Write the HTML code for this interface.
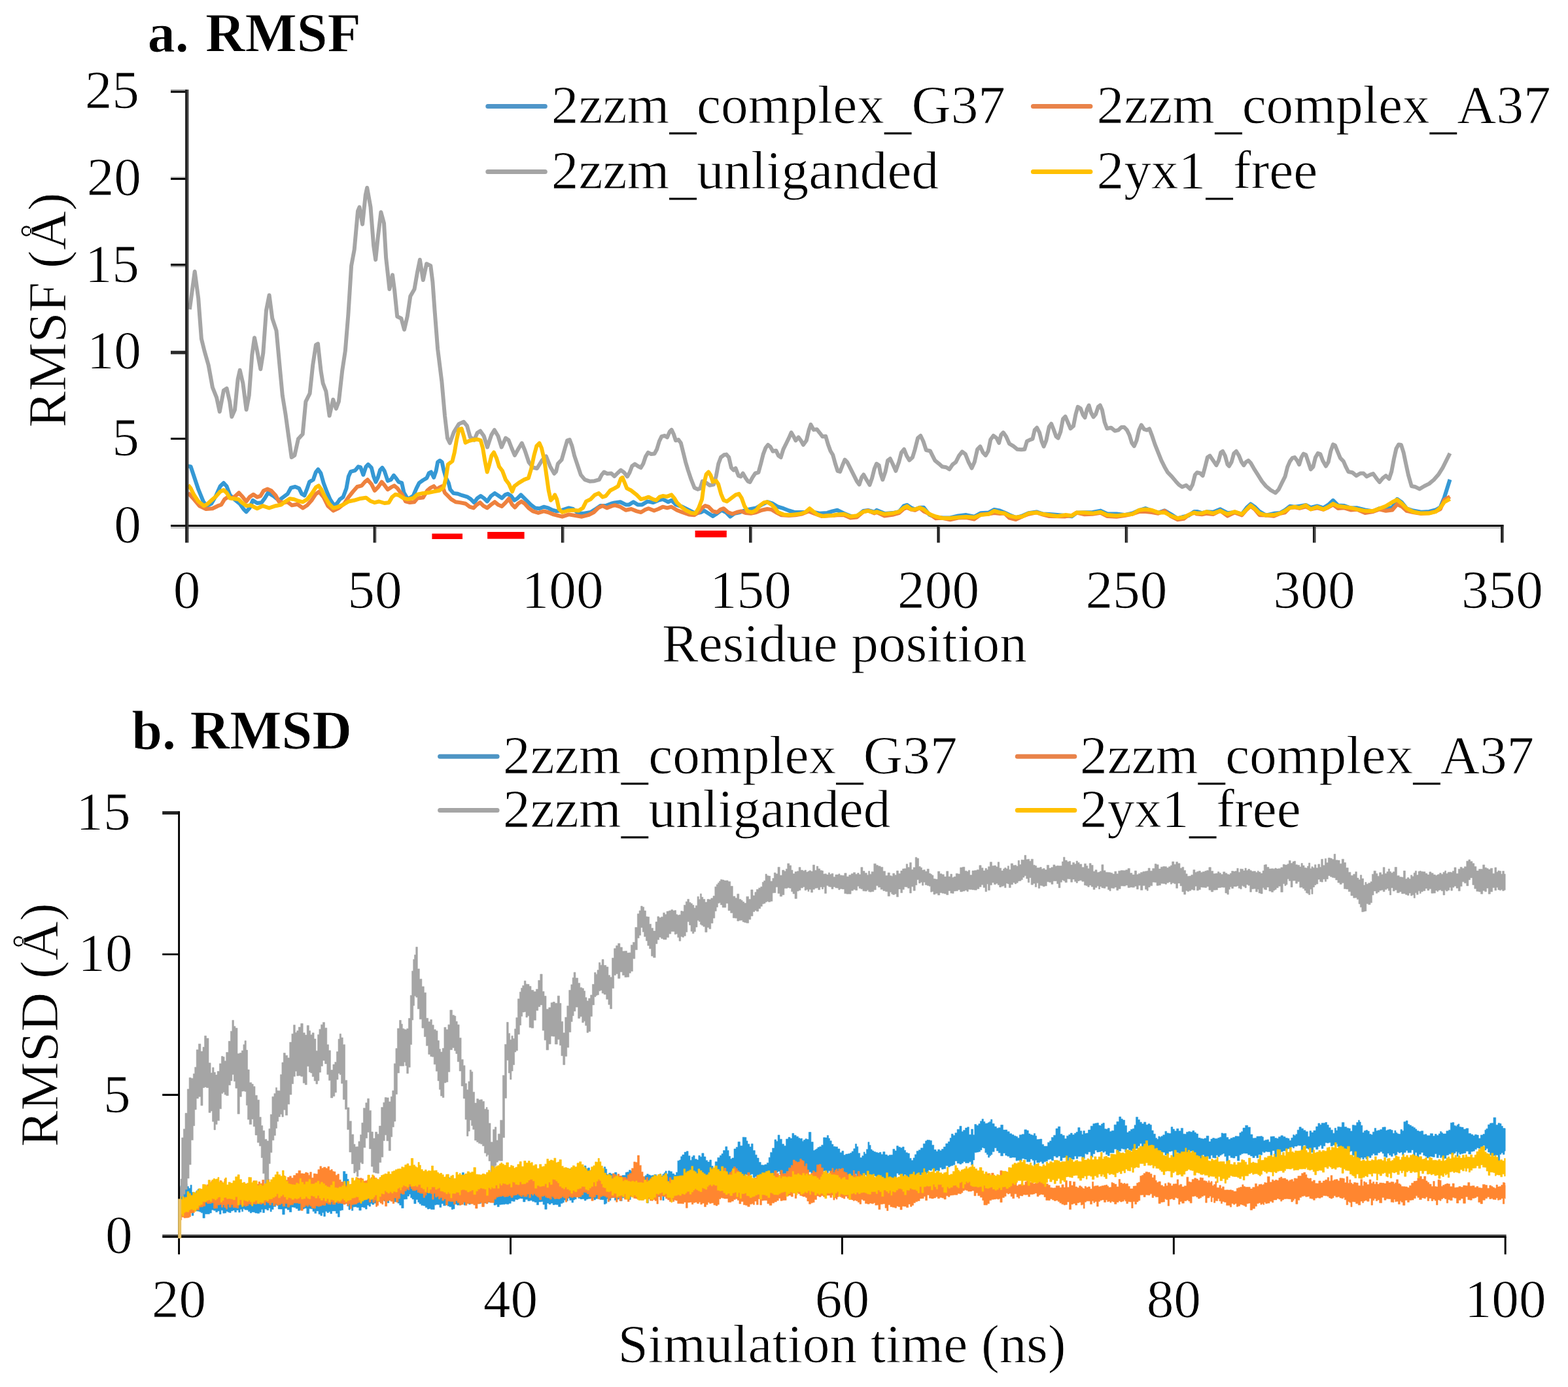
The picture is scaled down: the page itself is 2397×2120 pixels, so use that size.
<!DOCTYPE html>
<html lang="en">
<head>
<meta charset="utf-8">
<title>RMSF and RMSD</title>
<style>
html,body{margin:0;padding:0;background:#fff;}
body{width:2397px;height:2120px;overflow:hidden;}
svg{display:block;}
</style>
</head>
<body>
<svg width="2397" height="2120" viewBox="0 0 2397 2120">
<rect width="2397" height="2120" fill="#fff"/>
<g id="chartA">
<polyline fill="none" stroke="#3598d4" stroke-width="6.00" stroke-linejoin="round" stroke-linecap="butt" points="287.5,712.4 291.6,713.3 296.6,728.2 303.3,748.2 310.8,766.5 315.8,773.2 323.2,769.8 329.9,758.2 336.6,743.2 341.9,738.2 346.5,743.2 351.5,756.5 358.2,763.2 366.5,769.8 372.3,778.1 376.5,782.3 381.5,776.5 386.5,764.8 393.1,769.0 399.8,768.2 404.8,761.5 409.7,753.2 418.1,758.2 426.4,764.8 433.0,759.8 439.7,754.9 444.7,745.7 451.3,744.0 457.2,746.5 461.3,754.9 465.5,757.3 469.6,746.5 473.0,736.6 478.8,733.2 482.9,721.6 486.3,717.4 490.4,723.2 494.6,738.2 499.6,751.5 504.6,763.2 511.2,773.2 516.2,768.2 519.5,763.2 524.5,759.8 529.5,746.5 532.8,728.2 536.2,720.8 542.8,719.1 547.8,713.3 551.1,714.1 555.3,725.7 559.5,713.3 562.8,709.9 567.8,714.9 571.1,728.2 574.4,736.6 577.7,729.9 581.1,718.3 584.4,714.9 587.7,719.9 592.7,734.9 597.7,733.2 601.9,726.6 606.0,731.6 609.4,736.6 614.2,738.1 617.5,753.1 623.3,763.1 631.6,758.1 636.6,746.4 640.8,738.1 646.6,734.0 652.4,730.6 655.7,723.2 659.1,721.5 663.2,729.8 666.6,719.8 669.1,706.5 672.4,704.0 675.7,706.5 678.2,718.2 681.5,729.8 685.7,738.1 688.2,748.1 693.2,753.9 699.8,754.8 706.5,757.2 714.8,759.7 719.8,763.1 724.8,768.1 729.8,761.4 734.8,758.1 739.7,761.4 744.7,766.4 750.6,758.1 756.4,753.9 761.4,757.2 767.2,761.4 772.2,756.4 776.3,754.8 781.3,758.1 786.3,764.7 791.3,761.4 796.3,756.4 801.3,761.4 806.3,766.4 811.3,771.4 817.9,776.4 824.6,777.2 831.2,774.7 837.9,776.4 844.5,779.7 851.2,781.4 859.5,779.7 869.5,776.4 876.1,778.0 884.5,784.7 892.8,784.7 902.8,783.0 909.4,778.9 917.7,773.1 926.0,773.1 934.4,769.7 939.4,768.4 948.3,767.2 956.6,771.4 961.6,771.4 968.3,767.2 974.9,771.4 981.6,771.4 989.9,766.4 998.2,768.1 1006.5,764.7 1013.2,763.1 1021.5,767.2 1026.5,764.7 1033.2,771.4 1043.1,774.7 1053.1,779.7 1063.1,784.7 1071.4,783.0 1076.4,780.5 1083.1,784.7 1089.7,788.9 1096.4,784.7 1103.0,779.7 1109.7,783.0 1116.3,789.7 1123.0,784.7 1131.3,783.0 1139.6,779.7 1147.9,778.0 1156.2,776.4 1164.6,771.4 1172.9,767.2 1181.2,769.7 1189.5,774.7 1197.8,777.2 1206.1,780.5 1214.5,783.0 1222.8,783.0 1231.1,783.0 1237.7,779.7 1244.4,783.0 1252.7,784.7 1264.4,783.9 1272.7,781.4 1280.0,779.7 1290.3,784.7 1300.1,788.7 1309.9,789.0 1319.7,781.0 1327.0,780.0 1336.8,782.7 1340.0,779.9 1352.2,784.9 1364.5,784.1 1374.2,782.3 1381.6,773.4 1386.5,771.8 1392.6,775.9 1398.7,778.7 1406.0,775.8 1412.2,775.7 1420.7,786.8 1430.5,790.4 1440.3,791.6 1452.5,791.4 1464.8,788.4 1477.0,787.1 1489.2,789.8 1499.0,784.3 1511.2,783.6 1519.8,778.9 1528.4,780.5 1535.7,783.5 1543.0,787.0 1552.8,791.1 1562.6,788.6 1572.4,784.2 1584.6,782.4 1594.4,785.5 1604.2,785.9 1616.4,787.1 1628.6,788.1 1638.4,789.3 1645.8,783.8 1658.0,783.2 1670.2,782.9 1682.5,780.6 1692.3,785.2 1706.9,785.6 1719.2,787.1 1731.4,784.4 1741.2,780.1 1751.0,777.0 1760.7,780.6 1770.5,783.8 1780.3,780.4 1790.1,786.1 1799.9,792.6 1809.7,789.6 1817.0,788.0 1825.6,782.0 1830.0,781.9 1837.3,784.1 1844.7,782.3 1854.5,782.7 1865.5,778.3 1876.5,784.2 1887.5,783.0 1898.5,785.9 1905.8,776.0 1911.9,770.4 1918.1,774.7 1925.4,781.9 1935.2,787.7 1947.4,784.8 1957.2,783.9 1964.5,779.7 1971.9,773.8 1979.2,774.8 1986.6,773.6 1996.3,772.0 2003.7,776.0 2013.5,773.5 2023.2,776.3 2030.6,771.6 2037.9,764.8 2045.3,772.4 2055.0,773.0 2064.8,776.6 2074.6,776.3 2086.8,779.5 2099.1,781.4 2108.9,777.1 2118.6,777.4 2128.4,775.8 2135.8,762.8 2143.1,768.0 2150.5,777.4 2160.2,780.5 2172.5,782.8 2184.7,781.9 2194.5,779.5 2201.8,775.4 2208.0,760.0 2216.5,733.0"/>
<polyline fill="none" stroke="#ee813e" stroke-width="6.00" stroke-linejoin="round" stroke-linecap="butt" points="287.5,753.2 296.6,763.2 305.0,773.2 314.9,778.1 324.9,777.3 333.2,773.2 338.2,771.5 343.2,763.2 348.2,759.8 354.9,761.5 359.8,758.2 365.2,753.2 369.8,758.2 376.5,766.5 381.5,759.8 387.3,755.7 393.1,759.8 398.1,758.2 403.1,749.9 408.9,747.4 414.7,749.9 421.4,757.3 426.4,766.5 433.0,768.2 439.7,767.3 446.3,772.3 454.7,770.7 463.0,776.5 469.6,772.3 476.3,764.8 482.9,754.9 487.9,751.5 494.6,759.8 501.2,773.2 509.5,780.6 517.9,776.5 526.2,769.8 532.8,759.8 539.5,751.5 546.1,744.0 552.8,742.4 557.8,736.6 561.9,733.2 567.8,739.9 572.8,749.9 577.7,744.9 583.6,736.6 587.7,741.5 592.7,748.2 597.7,744.9 602.7,742.4 607.7,746.5 610.0,749.8 615.0,756.4 620.0,766.4 626.6,768.1 633.3,767.2 638.3,761.4 646.6,760.6 653.2,749.8 658.2,745.6 663.2,743.1 667.4,748.1 672.4,744.8 676.5,743.1 679.9,753.1 684.9,758.1 689.8,763.1 696.5,767.2 703.2,768.1 711.5,769.7 718.1,774.7 723.9,776.4 728.9,771.4 733.9,768.1 738.9,773.1 744.7,776.4 750.6,771.4 756.4,767.2 761.4,771.4 767.2,773.9 773.0,768.1 778.0,762.2 783.0,771.4 787.2,775.5 792.1,769.7 797.1,766.4 802.1,769.7 807.9,776.4 814.6,781.4 822.9,783.9 831.2,781.4 837.9,783.0 846.2,786.4 852.9,788.0 859.5,789.7 869.5,786.4 879.5,788.0 889.5,789.7 899.4,787.2 907.7,783.0 914.4,776.4 921.1,773.1 927.7,776.4 936.0,773.1 940.0,772.2 948.3,774.7 956.6,779.7 965.0,778.0 973.3,781.4 979.9,783.0 986.6,778.9 991.6,777.2 999.9,780.5 1006.5,778.0 1013.2,774.7 1019.8,776.4 1026.5,774.7 1034.8,779.7 1043.1,783.0 1053.1,786.4 1061.4,787.2 1068.1,783.0 1073.1,776.4 1078.1,773.1 1083.1,774.7 1089.7,781.4 1096.4,783.0 1101.3,778.9 1106.3,777.2 1113.0,783.0 1119.6,785.5 1126.3,783.0 1133.0,781.4 1139.6,783.9 1147.9,784.7 1156.2,783.0 1164.6,779.7 1172.9,778.0 1179.5,778.9 1186.2,783.0 1194.5,787.2 1206.1,788.0 1216.1,787.2 1226.1,785.5 1236.1,781.4 1244.4,784.7 1256.0,788.9 1272.7,788.0 1280.0,787.2 1290.3,787.2 1300.1,791.6 1309.9,790.5 1319.7,782.2 1327.0,780.5 1336.8,784.4 1340.0,782.8 1352.2,788.6 1364.5,786.9 1374.2,784.1 1381.6,777.8 1386.5,775.8 1392.6,778.6 1398.7,779.8 1406.0,776.2 1412.2,781.6 1420.7,785.6 1430.5,792.3 1440.3,791.8 1452.5,794.2 1464.8,791.6 1477.0,791.1 1489.2,793.6 1499.0,786.6 1511.2,785.6 1519.8,784.1 1528.4,784.9 1535.7,784.5 1543.0,791.7 1552.8,794.0 1562.6,789.5 1572.4,785.8 1584.6,783.4 1594.4,786.6 1604.2,789.1 1616.4,789.2 1628.6,789.4 1638.4,788.0 1645.8,783.6 1658.0,786.2 1670.2,785.7 1682.5,783.8 1692.3,788.9 1706.9,789.7 1719.2,788.1 1731.4,785.5 1741.2,782.1 1751.0,781.9 1760.7,783.1 1770.5,784.7 1780.3,780.9 1790.1,789.2 1799.9,794.2 1809.7,792.9 1817.0,787.0 1825.6,783.8 1830.0,785.6 1837.3,786.2 1844.7,784.9 1854.5,786.1 1865.5,780.6 1876.5,788.6 1887.5,783.4 1898.5,787.4 1905.8,778.9 1911.9,773.6 1918.1,778.3 1925.4,787.2 1935.2,787.5 1947.4,788.8 1957.2,784.8 1964.5,783.2 1971.9,775.7 1979.2,775.4 1986.6,776.9 1996.3,774.4 2003.7,778.2 2013.5,776.2 2023.2,778.8 2030.6,775.5 2037.9,771.3 2045.3,776.9 2055.0,776.3 2064.8,779.4 2074.6,778.7 2086.8,784.1 2099.1,782.0 2108.9,778.5 2118.6,780.8 2128.4,779.5 2135.8,770.9 2143.1,774.3 2150.5,780.9 2160.2,783.1 2172.5,785.1 2184.7,784.2 2194.5,781.8 2201.8,778.0 2208.0,764.0 2216.5,759.0"/>
<polyline fill="none" stroke="#a5a5a5" stroke-width="6.00" stroke-linejoin="round" stroke-linecap="butt" points="289.9,472.9 297.7,415.0 303.2,455.8 307.9,517.8 312.5,536.4 318.7,558.1 324.9,592.1 331.1,607.6 335.8,629.3 341.9,596.8 346.6,593.7 351.2,613.8 354.3,637.0 359.0,626.2 363.6,579.7 366.7,565.8 371.4,585.9 376.6,626.2 380.7,604.5 385.3,542.6 389.0,516.2 393.1,536.4 398.3,564.2 402.3,539.5 407.0,474.4 411.6,451.2 416.3,486.8 422.5,505.4 427.1,555.0 431.8,604.5 436.4,632.4 441.1,666.5 445.7,699.0 450.4,695.9 455.9,671.1 462.7,663.4 467.4,613.8 473.6,601.4 478.2,558.1 482.9,527.1 486.0,525.5 490.6,567.3 493.7,585.9 498.4,598.3 503.6,635.5 509.2,610.7 513.8,624.6 517.9,613.8 523.1,567.3 527.8,536.4 532.4,480.6 537.1,406.3 541.7,381.5 547.0,322.7 549.5,316.5 554.1,342.8 558.8,297.9 561.2,287.0 566.5,316.5 571.1,375.3 574.2,397.0 577.7,362.9 582.4,324.2 587.0,341.2 590.1,393.9 595.4,441.9 600.0,420.2 603.1,443.4 607.2,483.7 613.4,486.8 618.0,503.8 622.7,483.7 627.3,452.7 633.5,441.9 638.1,415.6 641.9,397.0 646.8,428.0 652.1,403.2 658.3,406.3 661.4,431.1 664.5,474.4 669.1,533.3 675.3,582.8 680.0,635.5 684.0,669.6 687.7,677.3 693.9,660.3 701.6,647.9 708.8,644.8 714.0,651.0 718.7,668.0 724.9,672.7 729.5,661.8 734.2,658.7 739.7,666.5 745.0,683.5 751.2,664.9 755.8,657.2 761.4,666.5 766.7,683.5 772.9,669.6 777.5,672.7 782.2,685.0 786.8,695.9 793.0,685.0 797.7,677.3 802.3,688.1 808.5,706.7 814.7,714.5 820.9,716.0 828.6,703.6 834.8,697.4 841.0,712.9 847.2,723.8 850.0,721.0 852.9,708.8 858.6,702.7 863.5,685.5 867.1,673.3 870.8,672.1 874.5,681.9 878.1,696.6 883.0,711.2 887.9,725.9 894.0,733.2 901.4,735.7 908.7,735.2 916.0,733.2 919.7,725.9 923.4,721.5 928.3,724.0 934.4,723.5 939.3,727.9 944.2,723.0 949.1,718.6 954.0,722.2 958.9,728.4 962.5,722.2 966.2,712.5 970.4,709.3 975.2,712.5 979.6,714.9 983.3,708.8 987.0,697.8 990.7,691.7 995.5,694.1 1000.4,693.6 1004.1,686.8 1007.8,674.5 1011.4,667.2 1016.3,666.0 1020.0,668.4 1023.7,659.9 1026.6,656.9 1029.8,663.5 1033.0,673.3 1037.1,672.1 1040.8,677.0 1044.5,691.7 1048.1,706.3 1051.8,718.6 1056.7,733.2 1061.6,745.5 1066.5,747.9 1070.2,746.7 1073.8,735.7 1079.9,738.1 1084.8,741.8 1090.9,740.6 1094.6,728.4 1098.3,708.8 1102.0,699.0 1106.8,695.3 1110.5,694.6 1114.2,699.0 1117.9,714.9 1121.5,718.6 1124.5,715.6 1128.9,727.1 1132.5,728.4 1135.7,723.5 1139.9,730.8 1143.5,735.7 1146.5,736.9 1150.4,729.6 1154.5,723.5 1159.4,722.2 1163.1,708.8 1166.8,694.1 1170.5,684.3 1174.1,679.9 1177.8,683.1 1181.5,689.7 1186.4,688.7 1190.0,696.6 1193.7,699.0 1197.4,686.8 1202.3,677.0 1205.9,669.6 1209.6,661.1 1213.3,667.2 1216.4,673.3 1220.6,668.4 1224.3,673.3 1227.9,679.9 1232.8,673.3 1236.5,657.4 1239.4,648.9 1243.8,656.9 1248.7,656.2 1253.6,662.3 1257.3,667.2 1262.2,666.7 1265.9,679.4 1269.5,689.2 1273.2,695.3 1276.9,708.8 1280.5,719.8 1284.2,721.0 1287.9,711.2 1291.5,702.7 1295.2,706.3 1300.1,716.1 1305.0,725.9 1309.9,735.7 1313.6,740.6 1317.2,729.6 1320.2,725.4 1324.6,733.2 1329.5,741.1 1333.1,730.8 1336.8,716.1 1340.0,708.8 1343.7,711.2 1346.1,723.5 1349.3,733.2 1353.5,721.0 1357.1,703.9 1360.8,701.0 1364.5,708.8 1369.4,719.8 1374.2,706.3 1377.9,691.7 1382.1,686.8 1386.0,696.6 1390.1,703.4 1395.0,699.0 1398.7,686.8 1403.1,669.6 1407.3,666.0 1411.4,674.5 1415.8,688.0 1421.9,689.2 1425.6,696.6 1429.3,703.9 1435.4,708.8 1440.3,713.2 1446.4,714.2 1451.3,717.3 1456.2,710.0 1461.1,706.3 1466.0,696.6 1470.9,690.4 1475.8,694.1 1480.7,706.3 1485.5,715.6 1489.7,706.3 1494.1,686.8 1498.5,682.4 1502.7,691.7 1506.8,696.1 1510.7,689.2 1514.2,672.1 1518.6,666.0 1523.5,669.6 1527.1,677.0 1530.3,664.8 1533.7,661.1 1538.1,667.2 1543.0,678.2 1549.1,681.9 1555.3,686.8 1561.4,687.3 1566.3,686.8 1569.9,674.5 1574.8,672.1 1578.5,670.9 1581.7,657.4 1585.1,653.7 1589.0,661.1 1592.4,674.5 1595.6,682.4 1599.3,673.3 1603.7,652.5 1607.1,647.6 1611.0,657.4 1614.5,667.2 1617.6,669.6 1621.3,659.9 1625.0,640.3 1628.6,636.6 1632.3,645.2 1636.5,655.0 1640.9,651.3 1644.5,633.0 1647.7,621.9 1651.9,624.4 1655.6,634.2 1658.5,638.3 1661.7,625.6 1664.6,619.5 1667.8,630.5 1671.5,637.4 1675.1,633.0 1678.8,621.9 1681.7,619.5 1684.9,626.8 1688.6,645.2 1692.3,655.0 1698.4,653.7 1704.5,658.6 1709.4,657.4 1714.3,653.0 1718.7,653.0 1722.8,657.4 1726.5,664.8 1730.2,677.0 1733.8,681.9 1737.5,673.3 1741.2,657.4 1744.8,649.6 1749.0,656.2 1753.4,657.4 1757.1,655.5 1760.7,664.8 1765.6,679.4 1770.5,691.7 1775.4,703.9 1780.3,713.7 1785.2,722.2 1791.3,728.4 1797.4,735.7 1802.3,741.1 1807.2,744.3 1813.3,741.8 1819.5,747.4 1823.1,740.6 1826.8,725.9 1830.0,722.2 1834.9,723.5 1838.6,727.1 1842.2,713.7 1845.9,699.0 1849.6,696.6 1854.5,703.9 1859.4,711.2 1863.0,703.9 1866.2,691.7 1869.1,689.7 1872.8,696.6 1876.5,710.0 1878.9,712.5 1882.6,706.3 1886.3,692.9 1889.9,689.7 1894.1,696.6 1898.0,706.3 1901.4,711.2 1904.6,706.3 1908.3,703.9 1911.9,707.6 1916.8,716.1 1923.0,725.9 1929.1,735.7 1935.2,743.0 1942.5,749.1 1949.9,753.3 1954.8,747.9 1959.6,738.1 1964.5,728.4 1968.2,713.7 1971.9,705.1 1975.5,700.2 1979.2,699.0 1982.9,703.9 1986.1,710.0 1989.5,699.0 1992.7,693.6 1996.3,695.3 2000.0,706.3 2003.7,717.3 2007.3,713.7 2011.0,699.0 2014.7,692.9 2018.4,694.1 2022.0,703.9 2026.9,712.5 2030.6,706.3 2034.3,689.2 2037.9,679.4 2040.9,680.7 2044.8,690.4 2048.9,700.2 2053.8,705.1 2057.5,713.7 2061.2,721.0 2067.3,722.2 2073.4,727.1 2079.5,723.5 2084.4,723.5 2089.3,728.4 2094.2,725.9 2099.1,724.0 2104.0,730.8 2108.9,736.9 2113.8,730.8 2118.6,727.1 2123.5,732.0 2127.2,721.0 2130.9,701.4 2134.5,685.5 2138.2,679.4 2141.9,679.9 2145.6,691.7 2149.2,708.8 2152.9,725.9 2157.8,743.0 2163.9,744.3 2170.0,747.4 2177.4,743.0 2184.7,739.4 2192.0,733.2 2199.4,724.7 2205.5,714.9 2211.6,702.7 2216.5,692.9"/>
<polyline fill="none" stroke="#ffc000" stroke-width="6.00" stroke-linejoin="round" stroke-linecap="butt" points="287.5,741.5 291.6,746.5 296.6,756.5 303.3,766.5 311.6,773.2 316.6,770.7 323.2,764.8 329.9,759.0 336.6,751.5 341.9,749.0 346.5,753.2 351.5,761.5 358.2,762.3 364.8,763.2 369.8,768.2 376.5,773.2 383.1,772.3 393.1,777.3 401.4,773.2 411.4,776.5 421.4,773.2 429.7,771.5 436.4,766.5 443.0,762.3 449.7,763.2 456.3,765.7 463.0,767.3 469.6,763.2 476.3,754.9 482.9,744.9 487.1,742.4 491.3,748.2 496.2,758.2 502.9,769.8 509.5,776.5 516.2,774.8 524.5,771.5 532.8,766.5 541.2,764.8 549.5,762.3 559.5,760.7 566.1,765.7 572.8,768.2 579.4,766.5 587.7,769.0 594.4,768.2 599.4,759.8 604.4,755.7 609.4,756.8 616.7,761.4 623.3,763.1 631.6,761.4 638.3,755.6 646.6,753.9 654.9,753.1 663.2,751.4 671.5,749.8 678.2,744.8 681.5,731.5 684.9,709.8 691.5,704.9 694.8,691.5 698.2,671.6 701.5,656.6 705.6,655.0 709.0,666.6 711.5,676.6 716.5,674.1 723.1,672.4 729.8,671.6 734.8,673.2 738.1,684.9 741.4,704.9 744.7,721.5 748.1,709.8 751.4,696.5 755.0,691.5 758.9,699.9 763.0,713.2 768.0,719.8 773.0,733.1 778.0,739.8 783.0,751.4 786.3,743.1 793.0,738.1 801.3,733.1 807.9,730.6 812.1,716.5 816.3,696.5 820.4,681.6 824.6,677.4 827.9,684.9 832.1,703.2 835.4,726.5 838.7,749.8 842.0,764.7 845.4,761.4 848.2,756.4 851.2,763.1 854.5,778.0 859.5,783.0 867.8,780.5 876.1,779.7 884.5,780.5 891.1,776.4 896.1,766.4 902.8,763.1 909.4,756.4 915.2,753.9 921.1,759.7 926.0,758.1 932.7,749.8 939.4,746.4 945.0,743.1 949.1,731.5 951.6,729.8 955.0,738.1 958.3,746.4 965.0,749.8 973.3,756.4 979.9,763.1 986.6,761.4 991.6,759.7 998.2,763.1 1003.2,764.7 1008.2,759.7 1013.2,758.1 1019.8,758.9 1026.5,756.4 1030.7,761.4 1034.8,768.1 1041.5,774.7 1048.1,779.7 1056.4,783.9 1063.1,784.7 1068.1,776.4 1073.1,763.1 1076.4,738.1 1079.7,724.8 1083.1,721.5 1086.4,726.5 1089.7,736.5 1094.7,734.8 1098.0,739.8 1102.2,754.8 1106.3,764.7 1111.3,766.4 1118.0,761.4 1124.6,756.4 1129.6,754.8 1133.8,761.4 1137.9,773.1 1142.9,781.4 1149.6,783.0 1156.2,779.7 1161.2,773.1 1167.9,768.1 1172.9,767.2 1179.5,771.4 1184.5,776.4 1189.5,783.0 1197.8,786.4 1206.1,787.2 1214.5,786.4 1222.8,785.5 1231.1,783.0 1237.7,777.2 1242.7,781.4 1249.4,786.4 1257.7,788.9 1266.0,788.0 1272.7,788.0 1280.0,786.4 1290.3,785.8 1300.1,789.5 1309.9,788.3 1319.7,782.2 1327.0,780.9 1336.8,783.4 1340.0,782.2 1352.2,785.8 1364.5,784.6 1374.2,782.2 1381.6,776.1 1386.5,773.6 1392.6,778.5 1398.7,778.5 1406.0,776.1 1412.2,778.5 1420.7,785.8 1430.5,789.5 1440.3,792.0 1452.5,792.0 1464.8,790.7 1477.0,790.0 1489.2,790.7 1499.0,787.1 1511.2,785.8 1519.8,780.9 1528.4,783.4 1535.7,784.6 1543.0,788.3 1552.8,790.7 1562.6,789.5 1572.4,784.6 1584.6,783.4 1594.4,785.8 1604.2,787.1 1616.4,789.0 1628.6,787.1 1638.4,788.3 1645.8,783.4 1658.0,783.4 1670.2,784.6 1682.5,782.7 1692.3,787.1 1706.9,788.3 1719.2,787.1 1731.4,785.8 1741.2,779.7 1751.0,778.5 1760.7,779.7 1770.5,783.4 1780.3,783.4 1790.1,788.3 1799.9,792.0 1809.7,790.7 1817.0,787.1 1825.6,783.4 1830.0,784.6 1837.3,784.6 1844.7,782.2 1854.5,784.6 1865.5,780.9 1876.5,785.8 1887.5,782.2 1898.5,785.8 1905.8,778.5 1911.9,772.4 1918.1,777.3 1925.4,784.6 1935.2,787.6 1947.4,787.1 1957.2,784.6 1964.5,780.9 1971.9,776.1 1979.2,774.8 1986.6,776.1 1996.3,772.4 2003.7,778.5 2013.5,774.8 2023.2,778.5 2030.6,774.8 2037.9,769.9 2045.3,773.6 2055.0,774.8 2064.8,776.1 2074.6,778.5 2086.8,780.9 2099.1,780.9 2108.9,777.3 2118.6,773.6 2128.4,767.5 2135.8,763.8 2143.1,769.9 2150.5,777.3 2160.2,782.2 2172.5,784.6 2184.7,784.6 2194.5,782.2 2201.8,776.1 2207.9,767.5 2216.5,762.6"/>
<rect x="261.00" y="669.00" width="24.60" height="3.10" fill="#000"/>
<rect x="261.00" y="536.20" width="24.60" height="5.20" fill="#2a2a2a"/>
<rect x="261.00" y="403.00" width="24.60" height="3.30" fill="#000"/>
<rect x="261.00" y="406.30" width="24.60" height="1.90" fill="#9a9a9a"/>
<rect x="261.00" y="270.00" width="24.60" height="1.90" fill="#bdbdbd"/>
<rect x="261.00" y="271.90" width="24.60" height="3.00" fill="#000"/>
<rect x="261.00" y="136.90" width="24.60" height="2.20" fill="#8a8a8a"/>
<rect x="261.00" y="139.10" width="24.60" height="2.70" fill="#000"/>
<rect x="261.00" y="802.05" width="2037.65" height="3.15" fill="#000"/>
<rect x="261.00" y="805.20" width="2037.65" height="2.70" fill="#c8c8c8"/>
<rect x="283.10" y="136.90" width="3.00" height="692.60" fill="#1e1e1e"/>
<rect x="286.10" y="136.90" width="2.30" height="692.60" fill="#3c3c3c"/>
<rect x="570.66" y="803.70" width="2.70" height="25.80" fill="#161616"/>
<rect x="573.36" y="803.70" width="1.80" height="25.80" fill="#3a3a3a"/>
<rect x="857.91" y="803.70" width="2.70" height="25.80" fill="#161616"/>
<rect x="860.61" y="803.70" width="1.80" height="25.80" fill="#3a3a3a"/>
<rect x="1145.17" y="803.70" width="2.70" height="25.80" fill="#161616"/>
<rect x="1147.87" y="803.70" width="1.80" height="25.80" fill="#3a3a3a"/>
<rect x="1432.43" y="803.70" width="2.70" height="25.80" fill="#161616"/>
<rect x="1435.13" y="803.70" width="1.80" height="25.80" fill="#3a3a3a"/>
<rect x="1719.69" y="803.70" width="2.70" height="25.80" fill="#161616"/>
<rect x="1722.39" y="803.70" width="1.80" height="25.80" fill="#3a3a3a"/>
<rect x="2006.94" y="803.70" width="2.70" height="25.80" fill="#161616"/>
<rect x="2009.64" y="803.70" width="1.80" height="25.80" fill="#3a3a3a"/>
<rect x="2294.20" y="803.70" width="2.70" height="25.80" fill="#161616"/>
<rect x="2296.90" y="803.70" width="1.80" height="25.80" fill="#3a3a3a"/>
<rect x="660.4" y="815.6" width="46.6" height="8.4" fill="#ff0000"/>
<rect x="745.1" y="813.0" width="56.5" height="10.6" fill="#ff0000"/>
<rect x="1062.6" y="811.0" width="48.2" height="10.3" fill="#ff0000"/>
<g font-family="'Liberation Serif', 'Times New Roman', serif" font-size="83.33" fill="#000" stroke="#fff" stroke-width="0.90" stroke-linejoin="round">
<text x="216.0" y="828.7" text-anchor="end">0</text>
<text x="213.0" y="696.0" text-anchor="end">5</text>
<text x="216.0" y="563.3" text-anchor="end">10</text>
<text x="213.0" y="430.6" text-anchor="end">15</text>
<text x="216.0" y="297.9" text-anchor="end">20</text>
<text x="213.0" y="165.2" text-anchor="end">25</text>
<text x="285.6" y="928.8" text-anchor="middle">0</text>
<text x="572.9" y="928.8" text-anchor="middle">50</text>
<text x="860.1" y="928.8" text-anchor="middle">100</text>
<text x="1147.4" y="928.8" text-anchor="middle">150</text>
<text x="1434.6" y="928.8" text-anchor="middle">200</text>
<text x="1721.9" y="928.8" text-anchor="middle">250</text>
<text x="2009.1" y="928.8" text-anchor="middle">300</text>
<text x="2296.4" y="928.8" text-anchor="middle">350</text>
<text x="1291.0" y="1011.4" text-anchor="middle">Residue position</text>
<text transform="translate(99.9 474.0) rotate(-90)" text-anchor="middle">RMSF (Å)</text>
<text y="78.7" font-weight="bold" font-size="84.00"><tspan x="225.8">a.</tspan> <tspan x="313.9">RMSF</tspan></text>
</g>
<g font-family="'Liberation Serif', 'Times New Roman', serif" font-size="83.33" fill="#000" stroke="#fff" stroke-width="0.90" stroke-linejoin="round">
<line x1="745.8" y1="162.5" x2="833.3" y2="162.5" stroke="#4f96c9" stroke-width="7.0" stroke-linecap="round"/>
<text x="842.8" y="188.1">2zzm<tspan dy="7.3">_</tspan><tspan dy="-7.3">complex</tspan><tspan dy="7.3">_</tspan><tspan dy="-7.3">G37</tspan></text>
<line x1="1579.4" y1="162.5" x2="1666.9" y2="162.5" stroke="#e9834a" stroke-width="7.0" stroke-linecap="round"/>
<text x="1676.5" y="188.1">2zzm<tspan dy="7.3">_</tspan><tspan dy="-7.3">complex</tspan><tspan dy="7.3">_</tspan><tspan dy="-7.3">A37</tspan></text>
<line x1="745.8" y1="262.5" x2="833.3" y2="262.5" stroke="#a5a5a5" stroke-width="7.0" stroke-linecap="round"/>
<text x="842.8" y="287.7">2zzm<tspan dy="7.3">_</tspan><tspan dy="-7.3">unliganded</tspan></text>
<line x1="1579.4" y1="262.5" x2="1666.9" y2="262.5" stroke="#ffc000" stroke-width="7.0" stroke-linecap="round"/>
<text x="1676.5" y="287.7">2yx1<tspan dy="7.3">_</tspan><tspan dy="-7.3">free</tspan></text>
</g>
</g>
<g id="chartB">
<polyline fill="none" stroke="#2399dc" stroke-width="3.00" points="273.6,1890.4 274.6,1838.1 276.9,1838.1"/>
<polygon fill="#2399dc" stroke="#2399dc" stroke-width="0.60" stroke-linejoin="round" points="275.9,1812.5 277.3,1812.5 277.3,1819.9 279.6,1819.9 279.6,1817.6 281.8,1817.6 281.8,1814.9 284.0,1814.9 284.0,1809.3 286.0,1809.3 286.0,1813.5 288.4,1813.5 288.4,1816.3 291.0,1816.3 291.0,1811.3 293.2,1811.3 293.2,1822.6 295.9,1822.6 295.9,1823.2 299.2,1823.2 299.2,1821.2 302.2,1821.2 302.2,1817.8 304.9,1817.8 304.9,1820.9 307.4,1820.9 307.4,1820.7 310.0,1820.7 310.0,1817.8 313.2,1817.8 313.2,1820.0 317.1,1820.0 317.1,1820.0 320.4,1820.0 320.4,1819.6 323.3,1819.6 323.3,1815.4 326.6,1815.4 326.6,1819.8 329.7,1819.8 329.7,1809.8 332.5,1809.8 332.5,1817.1 335.4,1817.1 335.4,1817.7 338.0,1817.7 338.0,1820.1 340.8,1820.1 340.8,1820.0 343.4,1820.0 343.4,1810.4 345.8,1810.4 345.8,1815.4 348.3,1815.4 348.3,1819.2 350.7,1819.2 350.7,1812.7 353.1,1812.7 353.1,1818.0 355.8,1818.0 355.8,1814.9 358.6,1814.9 358.6,1819.0 361.5,1819.0 361.5,1818.1 364.7,1818.1 364.7,1816.9 367.2,1816.9 367.2,1820.2 369.6,1820.2 369.6,1819.4 371.6,1819.4 371.6,1815.2 373.9,1815.2 373.9,1820.2 376.8,1820.2 376.8,1817.1 379.5,1817.1 379.5,1815.6 382.3,1815.6 382.3,1820.2 384.7,1820.2 384.7,1820.9 386.9,1820.9 386.9,1820.0 389.8,1820.0 389.8,1817.9 393.3,1817.9 393.3,1814.0 396.6,1814.0 396.6,1819.4 399.5,1819.4 399.5,1817.5 401.6,1817.5 401.6,1814.2 404.4,1814.2 404.4,1817.8 407.9,1817.8 407.9,1815.5 410.8,1815.5 410.8,1814.9 413.1,1814.9 413.1,1815.9 415.2,1815.9 415.2,1805.1 418.1,1805.1 418.1,1810.4 421.7,1810.4 421.7,1804.2 425.2,1804.2 425.2,1811.2 428.7,1811.2 428.7,1809.6 431.7,1809.6 431.7,1811.7 435.2,1811.7 435.2,1811.2 439.0,1811.2 439.0,1815.5 442.4,1815.5 442.4,1813.4 445.8,1813.4 445.8,1816.2 449.0,1816.2 449.0,1814.3 452.1,1814.3 452.1,1814.3 455.5,1814.3 455.5,1812.4 458.5,1812.4 458.5,1811.9 461.6,1811.9 461.6,1817.5 465.1,1817.5 465.1,1806.6 468.8,1806.6 468.8,1814.2 472.6,1814.2 472.6,1818.1 475.3,1818.1 475.3,1818.5 478.0,1818.5 478.0,1817.9 480.8,1817.9 480.8,1818.2 483.7,1818.2 483.7,1818.3 487.0,1818.3 487.0,1817.0 489.9,1817.0 489.9,1818.4 492.5,1818.4 492.5,1813.4 494.7,1813.4 494.7,1816.4 497.4,1816.4 497.4,1817.6 499.9,1817.6 499.9,1817.8 502.5,1817.8 502.5,1820.5 504.9,1820.5 504.9,1811.6 507.5,1811.6 507.5,1816.0 510.4,1816.0 510.4,1818.2 513.5,1818.2 513.5,1816.5 516.4,1816.5 516.4,1817.3 519.2,1817.3 519.2,1812.8 521.7,1812.8 521.7,1807.5 524.5,1807.5 524.5,1790.6 527.9,1790.6 527.9,1794.5 530.7,1794.5 530.7,1802.5 533.0,1802.5 533.0,1811.9 535.3,1811.9 535.3,1810.5 537.4,1810.5 537.4,1814.9 539.8,1814.9 539.8,1813.6 542.4,1813.6 542.4,1813.8 545.3,1813.8 545.3,1815.6 548.8,1815.6 548.8,1814.6 552.2,1814.6 552.2,1807.8 555.7,1807.8 555.7,1812.6 558.5,1812.6 558.5,1813.4 561.1,1813.4 561.1,1812.6 564.0,1812.6 564.0,1814.0 566.5,1814.0 566.5,1813.3 568.7,1813.3 568.7,1811.8 571.8,1811.8 571.8,1809.9 574.9,1809.9 574.9,1807.2 577.6,1807.2 577.6,1810.0 580.6,1810.0 580.6,1810.0 583.8,1810.0 583.8,1808.4 587.1,1808.4 587.1,1808.5 590.0,1808.5 590.0,1807.6 592.3,1807.6 592.3,1805.9 594.7,1805.9 594.7,1804.9 597.0,1804.9 597.0,1807.7 599.5,1807.7 599.5,1803.0 602.2,1803.0 602.2,1796.7 604.8,1796.7 604.8,1802.7 607.9,1802.7 607.9,1805.4 610.7,1805.4 610.7,1806.9 613.7,1806.9 613.7,1804.6 617.1,1804.6 617.1,1799.7 619.7,1799.7 619.7,1796.4 622.6,1796.4 622.6,1796.1 625.5,1796.1 625.5,1786.9 627.6,1786.9 627.6,1796.6 630.0,1796.6 630.0,1794.2 632.8,1794.2 632.8,1796.4 636.0,1796.4 636.0,1800.3 638.8,1800.3 638.8,1797.7 641.0,1797.7 641.0,1799.1 643.8,1799.1 643.8,1802.8 647.1,1802.8 647.1,1799.6 650.2,1799.6 650.2,1803.2 653.2,1803.2 653.2,1801.2 656.0,1801.2 656.0,1801.0 658.4,1801.0 658.4,1806.5 661.5,1806.5 661.5,1800.0 664.2,1800.0 664.2,1806.2 666.6,1806.2 666.6,1805.5 669.3,1805.5 669.3,1796.1 671.9,1796.1 671.9,1805.3 674.8,1805.3 674.8,1807.9 677.7,1807.9 677.7,1807.6 681.3,1807.6 681.3,1809.6 684.1,1809.6 684.1,1799.4 686.9,1799.4 686.9,1800.6 690.2,1800.6 690.2,1808.8 692.4,1808.8 692.4,1803.8 695.0,1803.8 695.0,1803.6 698.5,1803.6 698.5,1804.9 701.5,1804.9 701.5,1806.8 703.6,1806.8 703.6,1804.5 706.4,1804.5 706.4,1792.3 709.3,1792.3 709.3,1795.8 711.7,1795.8 711.7,1801.8 714.1,1801.8 714.1,1806.5 716.7,1806.5 716.7,1805.2 719.3,1805.2 719.3,1798.5 722.4,1798.5 722.4,1809.2 726.0,1809.2 726.0,1801.2 729.5,1801.2 729.5,1808.8 732.8,1808.8 732.8,1806.9 735.3,1806.9 735.3,1808.0 737.4,1808.0 737.4,1808.0 739.9,1808.0 739.9,1803.9 742.8,1803.9 742.8,1802.4 745.3,1802.4 745.3,1802.7 747.9,1802.7 747.9,1807.6 751.4,1807.6 751.4,1805.8 755.0,1805.8 755.0,1806.6 757.8,1806.6 757.8,1806.3 760.1,1806.3 760.1,1806.5 763.2,1806.5 763.2,1802.3 765.9,1802.3 765.9,1798.2 768.6,1798.2 768.6,1788.8 772.0,1788.8 772.0,1791.1 774.6,1791.1 774.6,1788.5 777.8,1788.5 777.8,1789.2 781.2,1789.2 781.2,1787.8 784.2,1787.8 784.2,1791.0 787.2,1791.0 787.2,1787.6 789.8,1787.6 789.8,1785.8 791.8,1785.8 791.8,1786.4 793.9,1786.4 793.9,1786.0 796.6,1786.0 796.6,1788.7 799.6,1788.7 799.6,1787.9 803.0,1787.9 803.0,1783.2 806.8,1783.2 806.8,1786.9 810.2,1786.9 810.2,1786.0 813.6,1786.0 813.6,1784.3 817.1,1784.3 817.1,1782.8 820.4,1782.8 820.4,1790.0 823.5,1790.0 823.5,1787.2 825.7,1787.2 825.7,1786.0 827.7,1786.0 827.7,1787.9 830.0,1787.9 830.0,1790.8 832.8,1790.8 832.8,1788.3 836.1,1788.3 836.1,1791.2 839.0,1791.2 839.0,1790.5 842.0,1790.5 842.0,1786.2 845.1,1786.2 845.1,1788.6 847.9,1788.6 847.9,1789.6 850.5,1789.6 850.5,1787.4 853.5,1787.4 853.5,1788.6 857.0,1788.6 857.0,1790.7 860.0,1790.7 860.0,1787.1 862.3,1787.1 862.3,1790.9 864.4,1790.9 864.4,1790.6 866.3,1790.6 866.3,1785.7 868.2,1785.7 868.2,1793.8 870.7,1793.8 870.7,1786.5 873.9,1786.5 873.9,1788.2 876.5,1788.2 876.5,1789.2 878.5,1789.2 878.5,1792.9 881.1,1792.9 881.1,1789.9 883.9,1789.9 883.9,1790.2 887.0,1790.2 887.0,1789.8 890.2,1789.8 890.2,1787.7 893.2,1787.7 893.2,1781.9 896.0,1781.9 896.0,1786.2 898.6,1786.2 898.6,1785.0 901.5,1785.0 901.5,1789.1 903.8,1789.1 903.8,1788.0 905.7,1788.0 905.7,1784.9 907.9,1784.9 907.9,1784.3 910.4,1784.3 910.4,1779.5 913.5,1779.5 913.5,1782.7 916.8,1782.7 916.8,1785.7 920.1,1785.7 920.1,1786.9 923.3,1786.9 923.3,1783.6 925.7,1783.6 925.7,1786.9 927.7,1786.9 927.7,1795.1 930.7,1795.1 930.7,1793.0 933.9,1793.0 933.9,1794.4 936.6,1794.4 936.6,1796.8 939.5,1796.8 939.5,1792.1 942.9,1792.1 942.9,1798.9 945.6,1798.9 945.6,1800.1 947.9,1800.1 947.9,1797.6 951.1,1797.6 951.1,1796.5 953.9,1796.5 953.9,1796.4 956.2,1796.4 956.2,1792.1 958.6,1792.1 958.6,1791.4 961.5,1791.4 961.5,1788.6 964.2,1788.6 964.2,1790.0 966.3,1790.0 966.3,1793.1 968.3,1793.1 968.3,1792.4 970.6,1792.4 970.6,1791.0 973.9,1791.0 973.9,1796.0 977.6,1796.0 977.6,1798.0 980.8,1798.0 980.8,1802.6 983.8,1802.6 983.8,1798.6 986.4,1798.6 986.4,1796.8 988.7,1796.8 988.7,1794.6 991.3,1794.6 991.3,1795.9 994.1,1795.9 994.1,1796.9 997.0,1796.9 997.0,1796.4 1000.1,1796.4 1000.1,1795.3 1003.6,1795.3 1003.6,1799.1 1006.4,1799.1 1006.4,1795.5 1008.5,1795.5 1008.5,1794.2 1010.6,1794.2 1010.6,1797.3 1012.9,1797.3 1012.9,1794.8 1015.1,1794.8 1015.1,1792.6 1017.0,1792.6 1017.0,1789.9 1019.1,1789.9 1019.1,1794.4 1021.4,1794.4 1021.4,1789.7 1024.2,1789.7 1024.2,1790.8 1027.5,1790.8 1027.5,1794.0 1030.8,1794.0 1030.8,1796.1 1033.5,1796.1 1033.5,1791.9 1035.9,1791.9 1035.9,1774.2 1038.5,1774.2 1038.5,1773.1 1040.7,1773.1 1040.7,1767.8 1042.9,1767.8 1042.9,1765.1 1046.1,1765.1 1046.1,1761.1 1049.3,1761.1 1049.3,1759.7 1052.1,1759.7 1052.1,1766.7 1055.0,1766.7 1055.0,1773.5 1057.3,1773.5 1057.3,1768.5 1059.3,1768.5 1059.3,1766.3 1062.1,1766.3 1062.1,1771.8 1065.3,1771.8 1065.3,1772.9 1067.8,1772.9 1067.8,1766.3 1070.3,1766.3 1070.3,1768.3 1072.8,1768.3 1072.8,1762.8 1076.0,1762.8 1076.0,1768.1 1078.9,1768.1 1078.9,1773.7 1081.6,1773.7 1081.6,1776.0 1084.8,1776.0 1084.8,1773.0 1087.5,1773.0 1087.5,1782.2 1090.1,1782.2 1090.1,1786.8 1093.2,1786.8 1093.2,1775.7 1096.8,1775.7 1096.8,1769.4 1100.4,1769.4 1100.4,1766.2 1103.1,1766.2 1103.1,1763.6 1105.5,1763.6 1105.5,1758.5 1108.8,1758.5 1108.8,1752.7 1111.8,1752.7 1111.8,1758.4 1114.1,1758.4 1114.1,1767.3 1116.5,1767.3 1116.5,1771.4 1118.9,1771.4 1118.9,1770.0 1122.0,1770.0 1122.0,1756.1 1125.2,1756.1 1125.2,1753.4 1128.0,1753.4 1128.0,1745.3 1131.4,1745.3 1131.4,1751.3 1135.2,1751.3 1135.2,1738.2 1138.5,1738.2 1138.5,1738.4 1140.9,1738.4 1140.9,1743.9 1143.0,1743.9 1143.0,1748.7 1145.9,1748.7 1145.9,1753.0 1148.4,1753.0 1148.4,1748.3 1151.1,1748.3 1151.1,1758.6 1154.3,1758.6 1154.3,1765.2 1157.1,1765.2 1157.1,1770.1 1160.1,1770.1 1160.1,1776.6 1163.2,1776.6 1163.2,1780.7 1165.9,1780.7 1165.9,1780.9 1168.9,1780.9 1168.9,1779.9 1172.3,1779.9 1172.3,1777.4 1175.2,1777.4 1175.2,1769.2 1177.6,1769.2 1177.6,1761.4 1180.6,1761.4 1180.6,1754.9 1184.0,1754.9 1184.0,1741.9 1186.6,1741.9 1186.6,1744.4 1189.1,1744.4 1189.1,1734.9 1192.0,1734.9 1192.0,1741.2 1195.3,1741.2 1195.3,1748.8 1198.5,1748.8 1198.5,1751.4 1201.6,1751.4 1201.6,1741.0 1205.0,1741.0 1205.0,1738.3 1208.0,1738.3 1208.0,1740.1 1210.9,1740.1 1210.9,1732.3 1213.7,1732.3 1213.7,1735.2 1217.1,1735.2 1217.1,1737.2 1220.4,1737.2 1220.4,1739.4 1222.8,1739.4 1222.8,1740.6 1224.6,1740.6 1224.6,1740.1 1226.4,1740.1 1226.4,1744.4 1228.3,1744.4 1228.3,1742.5 1230.9,1742.5 1230.9,1740.7 1233.4,1740.7 1233.4,1741.5 1236.3,1741.5 1236.3,1730.6 1239.9,1730.6 1239.9,1745.6 1243.2,1745.6 1243.2,1758.5 1245.8,1758.5 1245.8,1757.2 1247.9,1757.2 1247.9,1755.9 1249.9,1755.9 1249.9,1753.8 1252.6,1753.8 1252.6,1752.7 1255.7,1752.7 1255.7,1750.2 1258.6,1750.2 1258.6,1738.8 1261.5,1738.8 1261.5,1739.0 1264.3,1739.0 1264.3,1735.6 1266.6,1735.6 1266.6,1740.0 1268.6,1740.0 1268.6,1743.8 1271.2,1743.8 1271.2,1749.1 1273.9,1749.1 1273.9,1752.6 1276.9,1752.6 1276.9,1752.9 1280.6,1752.9 1280.6,1756.0 1283.9,1756.0 1283.9,1761.8 1286.9,1761.8 1286.9,1759.3 1289.7,1759.3 1289.7,1765.6 1292.6,1765.6 1292.6,1764.1 1296.3,1764.1 1296.3,1763.6 1299.4,1763.6 1299.4,1762.3 1302.1,1762.3 1302.1,1759.9 1304.8,1759.9 1304.8,1755.8 1307.4,1755.8 1307.4,1748.6 1309.6,1748.6 1309.6,1752.7 1311.8,1752.7 1311.8,1762.7 1314.7,1762.7 1314.7,1769.5 1317.8,1769.5 1317.8,1766.7 1320.3,1766.7 1320.3,1760.9 1322.1,1760.9 1322.1,1763.8 1324.5,1763.8 1324.5,1756.8 1326.9,1756.8 1326.9,1745.7 1328.9,1745.7 1328.9,1750.4 1331.1,1750.4 1331.1,1757.0 1333.2,1757.0 1333.2,1759.0 1335.7,1759.0 1335.7,1760.5 1338.5,1760.5 1338.5,1761.5 1341.5,1761.5 1341.5,1762.3 1344.4,1762.3 1344.4,1761.3 1346.9,1761.3 1346.9,1764.4 1349.8,1764.4 1349.8,1760.6 1352.9,1760.6 1352.9,1765.0 1356.4,1765.0 1356.4,1766.8 1359.1,1766.8 1359.1,1765.4 1361.8,1765.4 1361.8,1765.3 1364.9,1765.3 1364.9,1756.4 1367.9,1756.4 1367.9,1759.0 1370.6,1759.0 1370.6,1751.6 1373.3,1751.6 1373.3,1753.3 1376.3,1753.3 1376.3,1754.6 1379.5,1754.6 1379.5,1753.0 1382.1,1753.0 1382.1,1758.2 1384.5,1758.2 1384.5,1761.8 1387.4,1761.8 1387.4,1762.9 1390.4,1762.9 1390.4,1770.4 1393.1,1770.4 1393.1,1773.7 1396.0,1773.7 1396.0,1769.9 1398.4,1769.9 1398.4,1764.8 1401.1,1764.8 1401.1,1759.4 1404.3,1759.4 1404.3,1757.8 1407.5,1757.8 1407.5,1754.8 1411.3,1754.8 1411.3,1748.2 1414.6,1748.2 1414.6,1743.9 1416.9,1743.9 1416.9,1742.5 1419.3,1742.5 1419.3,1742.7 1421.9,1742.7 1421.9,1743.4 1424.4,1743.4 1424.4,1750.2 1427.7,1750.2 1427.7,1757.3 1431.1,1757.3 1431.1,1759.9 1433.7,1759.9 1433.7,1757.1 1436.5,1757.1 1436.5,1758.8 1439.4,1758.8 1439.4,1756.5 1442.4,1756.5 1442.4,1753.0 1445.7,1753.0 1445.7,1748.0 1449.3,1748.0 1449.3,1745.1 1452.1,1745.1 1452.1,1739.5 1454.3,1739.5 1454.3,1733.3 1457.1,1733.3 1457.1,1735.6 1459.9,1735.6 1459.9,1731.7 1463.1,1731.7 1463.1,1726.3 1466.9,1726.3 1466.9,1721.3 1470.0,1721.3 1470.0,1729.7 1472.5,1729.7 1472.5,1727.6 1475.6,1727.6 1475.6,1724.1 1478.7,1724.1 1478.7,1722.7 1481.3,1722.7 1481.3,1734.3 1484.6,1734.3 1484.6,1726.0 1487.5,1726.0 1487.5,1734.7 1489.8,1734.7 1489.8,1718.6 1492.7,1718.6 1492.7,1720.2 1495.9,1720.2 1495.9,1717.8 1498.5,1717.8 1498.5,1713.7 1501.0,1713.7 1501.0,1710.4 1503.4,1710.4 1503.4,1714.5 1505.8,1714.5 1505.8,1717.2 1508.3,1717.2 1508.3,1717.0 1510.5,1717.0 1510.5,1715.8 1512.7,1715.8 1512.7,1714.4 1514.6,1714.4 1514.6,1711.1 1516.8,1711.1 1516.8,1717.6 1520.1,1717.6 1520.1,1722.0 1523.4,1722.0 1523.4,1724.4 1526.3,1724.4 1526.3,1723.7 1529.7,1723.7 1529.7,1719.5 1533.4,1719.5 1533.4,1727.1 1536.7,1727.1 1536.7,1727.0 1539.7,1727.0 1539.7,1729.7 1543.2,1729.7 1543.2,1732.8 1546.8,1732.8 1546.8,1734.5 1550.0,1734.5 1550.0,1736.2 1553.0,1736.2 1553.0,1737.2 1555.6,1737.2 1555.6,1739.4 1558.3,1739.4 1558.3,1734.7 1562.1,1734.7 1562.1,1733.8 1565.9,1733.8 1565.9,1726.8 1569.5,1726.8 1569.5,1728.0 1572.3,1728.0 1572.3,1733.0 1575.0,1733.0 1575.0,1734.5 1578.0,1734.5 1578.0,1735.3 1580.4,1735.3 1580.4,1732.6 1582.6,1732.6 1582.6,1736.2 1584.7,1736.2 1584.7,1741.7 1586.7,1741.7 1586.7,1741.6 1589.5,1741.6 1589.5,1741.1 1592.8,1741.1 1592.8,1749.2 1595.6,1749.2 1595.6,1752.0 1598.4,1752.0 1598.4,1752.0 1601.6,1752.0 1601.6,1746.2 1604.6,1746.2 1604.6,1743.9 1607.3,1743.9 1607.3,1738.4 1610.6,1738.4 1610.6,1735.2 1614.0,1735.2 1614.0,1725.1 1617.4,1725.1 1617.4,1722.1 1620.8,1722.1 1620.8,1733.6 1623.9,1733.6 1623.9,1735.6 1627.3,1735.6 1627.3,1740.5 1630.6,1740.5 1630.6,1736.2 1633.7,1736.2 1633.7,1734.3 1636.4,1734.3 1636.4,1732.0 1639.2,1732.0 1639.2,1734.6 1642.4,1734.6 1642.4,1732.3 1645.1,1732.3 1645.1,1730.3 1647.8,1730.3 1647.8,1723.6 1651.0,1723.6 1651.0,1728.7 1653.8,1728.7 1653.8,1734.1 1655.9,1734.1 1655.9,1728.5 1658.3,1728.5 1658.3,1732.6 1660.5,1732.6 1660.5,1732.1 1663.5,1732.1 1663.5,1727.1 1667.2,1727.1 1667.2,1721.2 1670.8,1721.2 1670.8,1717.7 1673.8,1717.7 1673.8,1716.9 1676.7,1716.9 1676.7,1716.4 1679.4,1716.4 1679.4,1720.1 1681.4,1720.1 1681.4,1720.6 1683.4,1720.6 1683.4,1718.0 1685.8,1718.0 1685.8,1716.6 1688.3,1716.6 1688.3,1725.5 1690.5,1725.5 1690.5,1725.9 1693.3,1725.9 1693.3,1724.4 1696.2,1724.4 1696.2,1729.4 1699.3,1729.4 1699.3,1728.3 1703.1,1728.3 1703.1,1719.2 1706.9,1719.2 1706.9,1714.5 1710.7,1714.5 1710.7,1707.0 1713.7,1707.0 1713.7,1710.3 1716.3,1710.3 1716.3,1712.1 1719.6,1712.1 1719.6,1720.4 1722.5,1720.4 1722.5,1731.0 1725.3,1731.0 1725.3,1729.0 1728.4,1729.0 1728.4,1726.3 1731.4,1726.3 1731.4,1725.2 1734.0,1725.2 1734.0,1719.8 1736.5,1719.8 1736.5,1707.4 1739.6,1707.4 1739.6,1711.6 1742.4,1711.6 1742.4,1715.2 1745.3,1715.2 1745.3,1717.8 1748.6,1717.8 1748.6,1715.2 1751.8,1715.2 1751.8,1719.3 1755.0,1719.3 1755.0,1717.8 1758.0,1717.8 1758.0,1719.5 1760.4,1719.5 1760.4,1728.0 1763.2,1728.0 1763.2,1733.3 1766.3,1733.3 1766.3,1739.4 1768.5,1739.4 1768.5,1741.3 1770.8,1741.3 1770.8,1736.9 1773.0,1736.9 1773.0,1738.2 1774.9,1738.2 1774.9,1736.8 1777.7,1736.8 1777.7,1734.8 1780.9,1734.8 1780.9,1729.2 1783.6,1729.2 1783.6,1731.9 1786.6,1731.9 1786.6,1732.6 1790.1,1732.6 1790.1,1722.6 1792.8,1722.6 1792.8,1725.9 1795.4,1725.9 1795.4,1728.8 1798.6,1728.8 1798.6,1725.2 1801.8,1725.2 1801.8,1728.7 1805.3,1728.7 1805.3,1724.4 1808.5,1724.4 1808.5,1733.2 1810.9,1733.2 1810.9,1733.4 1813.5,1733.4 1813.5,1730.4 1816.6,1730.4 1816.6,1729.6 1819.6,1729.6 1819.6,1730.3 1822.9,1730.3 1822.9,1728.3 1825.7,1728.3 1825.7,1731.0 1828.3,1731.0 1828.3,1733.1 1831.5,1733.1 1831.5,1739.3 1835.0,1739.3 1835.0,1740.2 1838.2,1740.2 1838.2,1741.0 1840.8,1741.0 1840.8,1739.9 1844.1,1739.9 1844.1,1736.3 1847.9,1736.3 1847.9,1745.0 1850.9,1745.0 1850.9,1741.1 1853.6,1741.1 1853.6,1739.6 1856.6,1739.6 1856.6,1740.6 1859.1,1740.6 1859.1,1740.4 1861.7,1740.4 1861.7,1739.3 1864.5,1739.3 1864.5,1738.2 1867.1,1738.2 1867.1,1731.9 1869.4,1731.9 1869.4,1732.8 1871.8,1732.8 1871.8,1732.5 1874.6,1732.5 1874.6,1738.6 1877.8,1738.6 1877.8,1741.6 1881.0,1741.6 1881.0,1739.7 1884.4,1739.7 1884.4,1738.5 1888.0,1738.5 1888.0,1736.7 1891.4,1736.7 1891.4,1736.9 1894.8,1736.9 1894.8,1731.6 1897.4,1731.6 1897.4,1729.7 1900.0,1729.7 1900.0,1724.1 1903.7,1724.1 1903.7,1720.2 1907.6,1720.2 1907.6,1722.9 1911.4,1722.9 1911.4,1734.1 1914.9,1734.1 1914.9,1739.8 1918.1,1739.8 1918.1,1739.4 1920.9,1739.4 1920.9,1737.1 1923.7,1737.1 1923.7,1737.0 1927.0,1737.0 1927.0,1736.7 1929.6,1736.7 1929.6,1737.9 1931.4,1737.9 1931.4,1743.6 1934.1,1743.6 1934.1,1742.4 1936.9,1742.4 1936.9,1741.9 1939.6,1741.9 1939.6,1745.4 1942.0,1745.4 1942.0,1737.3 1944.8,1737.3 1944.8,1737.1 1948.5,1737.1 1948.5,1739.5 1951.5,1739.5 1951.5,1740.2 1954.4,1740.2 1954.4,1737.7 1957.9,1737.7 1957.9,1735.8 1961.4,1735.8 1961.4,1737.6 1965.0,1737.6 1965.0,1739.6 1968.4,1739.6 1968.4,1740.2 1971.0,1740.2 1971.0,1743.3 1973.8,1743.3 1973.8,1739.3 1976.6,1739.3 1976.6,1734.5 1978.5,1734.5 1978.5,1735.8 1980.6,1735.8 1980.6,1733.8 1983.1,1733.8 1983.1,1727.2 1986.0,1727.2 1986.0,1722.7 1989.2,1722.7 1989.2,1725.0 1992.4,1725.0 1992.4,1727.7 1995.9,1727.7 1995.9,1729.7 1999.3,1729.7 1999.3,1737.2 2002.0,1737.2 2002.0,1728.6 2004.6,1728.6 2004.6,1731.0 2007.9,1731.0 2007.9,1728.1 2011.6,1728.1 2011.6,1722.0 2014.9,1722.0 2014.9,1717.0 2017.7,1717.0 2017.7,1719.3 2020.1,1719.3 2020.1,1716.7 2022.9,1716.7 2022.9,1716.7 2025.8,1716.7 2025.8,1715.6 2028.5,1715.6 2028.5,1719.6 2031.2,1719.6 2031.2,1723.7 2034.2,1723.7 2034.2,1727.2 2037.4,1727.2 2037.4,1732.2 2040.2,1732.2 2040.2,1724.3 2042.4,1724.3 2042.4,1728.0 2044.7,1728.0 2044.7,1722.2 2047.8,1722.2 2047.8,1722.8 2051.3,1722.8 2051.3,1715.7 2054.9,1715.7 2054.9,1722.5 2058.7,1722.5 2058.7,1724.2 2061.6,1724.2 2061.6,1724.9 2064.3,1724.9 2064.3,1728.9 2067.2,1728.9 2067.2,1719.7 2070.3,1719.7 2070.3,1720.2 2073.7,1720.2 2073.7,1715.7 2076.5,1715.7 2076.5,1712.2 2078.3,1712.2 2078.3,1715.0 2080.2,1715.0 2080.2,1720.2 2082.8,1720.2 2082.8,1731.3 2085.2,1731.3 2085.2,1728.5 2087.9,1728.5 2087.9,1727.4 2090.7,1727.4 2090.7,1729.0 2093.3,1729.0 2093.3,1733.5 2096.0,1733.5 2096.0,1734.4 2098.4,1734.4 2098.4,1730.2 2101.1,1730.2 2101.1,1724.4 2103.6,1724.4 2103.6,1728.4 2106.1,1728.4 2106.1,1727.8 2109.6,1727.8 2109.6,1726.4 2113.0,1726.4 2113.0,1723.1 2115.6,1723.1 2115.6,1722.8 2118.3,1722.8 2118.3,1728.0 2120.8,1728.0 2120.8,1726.9 2123.5,1726.9 2123.5,1726.3 2126.4,1726.3 2126.4,1727.5 2129.1,1727.5 2129.1,1732.3 2131.8,1732.3 2131.8,1728.1 2133.9,1728.1 2133.9,1731.2 2135.9,1731.2 2135.9,1732.9 2138.1,1732.9 2138.1,1733.5 2141.0,1733.5 2141.0,1726.4 2143.4,1726.4 2143.4,1728.4 2145.9,1728.4 2145.9,1714.7 2149.2,1714.7 2149.2,1713.0 2152.0,1713.0 2152.0,1718.5 2154.5,1718.5 2154.5,1720.0 2157.5,1720.0 2157.5,1721.9 2160.7,1721.9 2160.7,1723.7 2163.4,1723.7 2163.4,1725.9 2165.9,1725.9 2165.9,1728.5 2169.0,1728.5 2169.0,1729.5 2172.3,1729.5 2172.3,1728.7 2175.7,1728.7 2175.7,1734.2 2178.5,1734.2 2178.5,1733.7 2181.0,1733.7 2181.0,1735.8 2183.9,1735.8 2183.9,1735.8 2186.3,1735.8 2186.3,1732.7 2188.2,1732.7 2188.2,1732.8 2190.5,1732.8 2190.5,1736.5 2193.3,1736.5 2193.3,1733.6 2196.2,1733.6 2196.2,1735.5 2199.2,1735.5 2199.2,1733.0 2201.6,1733.0 2201.6,1729.5 2203.5,1729.5 2203.5,1731.3 2205.4,1731.3 2205.4,1733.0 2207.6,1733.0 2207.6,1733.0 2210.9,1733.0 2210.9,1728.8 2214.6,1728.8 2214.6,1727.2 2217.4,1727.2 2217.4,1716.3 2220.0,1716.3 2220.0,1715.7 2222.8,1715.7 2222.8,1720.4 2225.1,1720.4 2225.1,1721.4 2227.2,1721.4 2227.2,1719.4 2229.1,1719.4 2229.1,1718.0 2230.9,1718.0 2230.9,1722.6 2233.5,1722.6 2233.5,1723.1 2237.1,1723.1 2237.1,1726.0 2240.9,1726.0 2240.9,1724.8 2244.8,1724.8 2244.8,1732.5 2248.6,1732.5 2248.6,1734.1 2251.8,1734.1 2251.8,1735.9 2254.4,1735.9 2254.4,1734.2 2257.4,1734.2 2257.4,1735.0 2260.3,1735.0 2260.3,1740.0 2263.3,1740.0 2263.3,1734.9 2267.0,1734.9 2267.0,1733.6 2269.9,1733.6 2269.9,1727.2 2271.9,1727.2 2271.9,1725.2 2274.6,1725.2 2274.6,1719.1 2277.6,1719.1 2277.6,1716.9 2280.0,1716.9 2280.0,1716.7 2283.0,1716.7 2283.0,1708.2 2286.7,1708.2 2286.7,1719.4 2290.0,1719.4 2290.0,1716.7 2292.7,1716.7 2292.7,1717.5 2295.0,1717.5 2295.0,1721.3 2297.4,1721.3 2297.4,1724.6 2300.0,1724.6 2300.0,1724.8 2301.2,1724.8 2301.2,1759.2 2300.0,1759.2 2300.0,1764.6 2297.4,1764.6 2297.4,1762.1 2295.0,1762.1 2295.0,1764.3 2292.7,1764.3 2292.7,1774.4 2290.0,1774.4 2290.0,1765.6 2286.7,1765.6 2286.7,1766.3 2283.0,1766.3 2283.0,1767.0 2280.0,1767.0 2280.0,1765.7 2277.6,1765.7 2277.6,1761.0 2274.6,1761.0 2274.6,1755.6 2271.9,1755.6 2271.9,1757.9 2269.9,1757.9 2269.9,1750.7 2267.0,1750.7 2267.0,1760.9 2263.3,1760.9 2263.3,1755.3 2260.3,1755.3 2260.3,1754.5 2257.4,1754.5 2257.4,1756.8 2254.4,1756.8 2254.4,1759.3 2251.8,1759.3 2251.8,1760.0 2248.6,1760.0 2248.6,1763.9 2244.8,1763.9 2244.8,1759.6 2240.9,1759.6 2240.9,1762.4 2237.1,1762.4 2237.1,1763.2 2233.5,1763.2 2233.5,1764.2 2230.9,1764.2 2230.9,1761.5 2229.1,1761.5 2229.1,1767.6 2227.2,1767.6 2227.2,1760.1 2225.1,1760.1 2225.1,1762.4 2222.8,1762.4 2222.8,1764.3 2220.0,1764.3 2220.0,1764.0 2217.4,1764.0 2217.4,1763.8 2214.6,1763.8 2214.6,1765.5 2210.9,1765.5 2210.9,1770.5 2207.6,1770.5 2207.6,1771.2 2205.4,1771.2 2205.4,1768.0 2203.5,1768.0 2203.5,1769.6 2201.6,1769.6 2201.6,1765.3 2199.2,1765.3 2199.2,1769.6 2196.2,1769.6 2196.2,1763.5 2193.3,1763.5 2193.3,1768.4 2190.5,1768.4 2190.5,1767.9 2188.2,1767.9 2188.2,1767.3 2186.3,1767.3 2186.3,1768.2 2183.9,1768.2 2183.9,1769.9 2181.0,1769.9 2181.0,1767.3 2178.5,1767.3 2178.5,1766.0 2175.7,1766.0 2175.7,1761.4 2172.3,1761.4 2172.3,1764.2 2169.0,1764.2 2169.0,1771.0 2165.9,1771.0 2165.9,1761.5 2163.4,1761.5 2163.4,1767.6 2160.7,1767.6 2160.7,1757.7 2157.5,1757.7 2157.5,1761.7 2154.5,1761.7 2154.5,1761.8 2152.0,1761.8 2152.0,1758.6 2149.2,1758.6 2149.2,1761.4 2145.9,1761.4 2145.9,1765.7 2143.4,1765.7 2143.4,1760.9 2141.0,1760.9 2141.0,1762.1 2138.1,1762.1 2138.1,1760.5 2135.9,1760.5 2135.9,1764.9 2133.9,1764.9 2133.9,1766.1 2131.8,1766.1 2131.8,1763.0 2129.1,1763.0 2129.1,1767.6 2126.4,1767.6 2126.4,1765.6 2123.5,1765.6 2123.5,1762.7 2120.8,1762.7 2120.8,1769.1 2118.3,1769.1 2118.3,1767.8 2115.6,1767.8 2115.6,1762.9 2113.0,1762.9 2113.0,1760.3 2109.6,1760.3 2109.6,1762.0 2106.1,1762.0 2106.1,1765.6 2103.6,1765.6 2103.6,1765.7 2101.1,1765.7 2101.1,1763.2 2098.4,1763.2 2098.4,1765.8 2096.0,1765.8 2096.0,1769.4 2093.3,1769.4 2093.3,1767.6 2090.7,1767.6 2090.7,1771.4 2087.9,1771.4 2087.9,1768.9 2085.2,1768.9 2085.2,1771.7 2082.8,1771.7 2082.8,1769.0 2080.2,1769.0 2080.2,1771.8 2078.3,1771.8 2078.3,1774.3 2076.5,1774.3 2076.5,1770.4 2073.7,1770.4 2073.7,1772.5 2070.3,1772.5 2070.3,1765.5 2067.2,1765.5 2067.2,1759.3 2064.3,1759.3 2064.3,1760.4 2061.6,1760.4 2061.6,1758.3 2058.7,1758.3 2058.7,1755.9 2054.9,1755.9 2054.9,1757.9 2051.3,1757.9 2051.3,1753.2 2047.8,1753.2 2047.8,1752.6 2044.7,1752.6 2044.7,1748.6 2042.4,1748.6 2042.4,1751.7 2040.2,1751.7 2040.2,1750.1 2037.4,1750.1 2037.4,1751.7 2034.2,1751.7 2034.2,1746.3 2031.2,1746.3 2031.2,1747.1 2028.5,1747.1 2028.5,1746.4 2025.8,1746.4 2025.8,1751.6 2022.9,1751.6 2022.9,1755.4 2020.1,1755.4 2020.1,1750.3 2017.7,1750.3 2017.7,1752.2 2014.9,1752.2 2014.9,1756.8 2011.6,1756.8 2011.6,1753.6 2007.9,1753.6 2007.9,1761.3 2004.6,1761.3 2004.6,1757.1 2002.0,1757.1 2002.0,1756.3 1999.3,1756.3 1999.3,1755.1 1995.9,1755.1 1995.9,1750.3 1992.4,1750.3 1992.4,1759.4 1989.2,1759.4 1989.2,1751.0 1986.0,1751.0 1986.0,1750.8 1983.1,1750.8 1983.1,1752.1 1980.6,1752.1 1980.6,1752.1 1978.5,1752.1 1978.5,1754.7 1976.6,1754.7 1976.6,1753.0 1973.8,1753.0 1973.8,1756.1 1971.0,1756.1 1971.0,1755.7 1968.4,1755.7 1968.4,1756.8 1965.0,1756.8 1965.0,1759.0 1961.4,1759.0 1961.4,1760.2 1957.9,1760.2 1957.9,1764.8 1954.4,1764.8 1954.4,1757.8 1951.5,1757.8 1951.5,1769.4 1948.5,1769.4 1948.5,1758.8 1944.8,1758.8 1944.8,1765.7 1942.0,1765.7 1942.0,1760.4 1939.6,1760.4 1939.6,1760.4 1936.9,1760.4 1936.9,1760.0 1934.1,1760.0 1934.1,1761.5 1931.4,1761.5 1931.4,1760.3 1929.6,1760.3 1929.6,1765.2 1927.0,1765.2 1927.0,1764.7 1923.7,1764.7 1923.7,1769.8 1920.9,1769.8 1920.9,1766.4 1918.1,1766.4 1918.1,1769.5 1914.9,1769.5 1914.9,1766.9 1911.4,1766.9 1911.4,1765.1 1907.6,1765.1 1907.6,1762.9 1903.7,1762.9 1903.7,1762.8 1900.0,1762.8 1900.0,1763.5 1897.4,1763.5 1897.4,1765.2 1894.8,1765.2 1894.8,1774.1 1891.4,1774.1 1891.4,1766.9 1888.0,1766.9 1888.0,1770.0 1884.4,1770.0 1884.4,1769.3 1881.0,1769.3 1881.0,1766.2 1877.8,1766.2 1877.8,1774.6 1874.6,1774.6 1874.6,1767.6 1871.8,1767.6 1871.8,1763.0 1869.4,1763.0 1869.4,1764.2 1867.1,1764.2 1867.1,1765.7 1864.5,1765.7 1864.5,1768.0 1861.7,1768.0 1861.7,1765.4 1859.1,1765.4 1859.1,1770.1 1856.6,1770.1 1856.6,1769.5 1853.6,1769.5 1853.6,1765.8 1850.9,1765.8 1850.9,1771.1 1847.9,1771.1 1847.9,1767.5 1844.1,1767.5 1844.1,1775.9 1840.8,1775.9 1840.8,1765.1 1838.2,1765.1 1838.2,1773.8 1835.0,1773.8 1835.0,1773.5 1831.5,1773.5 1831.5,1770.2 1828.3,1770.2 1828.3,1769.9 1825.7,1769.9 1825.7,1765.5 1822.9,1765.5 1822.9,1759.5 1819.6,1759.5 1819.6,1765.1 1816.6,1765.1 1816.6,1763.1 1813.5,1763.1 1813.5,1763.1 1810.9,1763.1 1810.9,1762.2 1808.5,1762.2 1808.5,1764.2 1805.3,1764.2 1805.3,1763.2 1801.8,1763.2 1801.8,1761.6 1798.6,1761.6 1798.6,1759.6 1795.4,1759.6 1795.4,1768.4 1792.8,1768.4 1792.8,1759.2 1790.1,1759.2 1790.1,1760.1 1786.6,1760.1 1786.6,1765.1 1783.6,1765.1 1783.6,1765.4 1780.9,1765.4 1780.9,1761.2 1777.7,1761.2 1777.7,1761.0 1774.9,1761.0 1774.9,1758.7 1773.0,1758.7 1773.0,1762.6 1770.8,1762.6 1770.8,1759.1 1768.5,1759.1 1768.5,1760.4 1766.3,1760.4 1766.3,1755.8 1763.2,1755.8 1763.2,1753.1 1760.4,1753.1 1760.4,1753.1 1758.0,1753.1 1758.0,1759.2 1755.0,1759.2 1755.0,1748.1 1751.8,1748.1 1751.8,1749.4 1748.6,1749.4 1748.6,1754.0 1745.3,1754.0 1745.3,1747.8 1742.4,1747.8 1742.4,1751.4 1739.6,1751.4 1739.6,1755.4 1736.5,1755.4 1736.5,1755.7 1734.0,1755.7 1734.0,1760.1 1731.4,1760.1 1731.4,1758.7 1728.4,1758.7 1728.4,1757.4 1725.3,1757.4 1725.3,1755.0 1722.5,1755.0 1722.5,1760.5 1719.6,1760.5 1719.6,1756.2 1716.3,1756.2 1716.3,1755.6 1713.7,1755.6 1713.7,1759.3 1710.7,1759.3 1710.7,1761.1 1706.9,1761.1 1706.9,1756.2 1703.1,1756.2 1703.1,1762.1 1699.3,1762.1 1699.3,1762.0 1696.2,1762.0 1696.2,1766.4 1693.3,1766.4 1693.3,1764.6 1690.5,1764.6 1690.5,1759.7 1688.3,1759.7 1688.3,1761.3 1685.8,1761.3 1685.8,1759.3 1683.4,1759.3 1683.4,1760.3 1681.4,1760.3 1681.4,1760.4 1679.4,1760.4 1679.4,1760.9 1676.7,1760.9 1676.7,1758.1 1673.8,1758.1 1673.8,1763.5 1670.8,1763.5 1670.8,1768.6 1667.2,1768.6 1667.2,1760.8 1663.5,1760.8 1663.5,1764.2 1660.5,1764.2 1660.5,1763.3 1658.3,1763.3 1658.3,1770.8 1655.9,1770.8 1655.9,1773.1 1653.8,1773.1 1653.8,1767.3 1651.0,1767.3 1651.0,1767.6 1647.8,1767.6 1647.8,1771.0 1645.1,1771.0 1645.1,1767.1 1642.4,1767.1 1642.4,1771.9 1639.2,1771.9 1639.2,1771.6 1636.4,1771.6 1636.4,1769.2 1633.7,1769.2 1633.7,1774.9 1630.6,1774.9 1630.6,1768.9 1627.3,1768.9 1627.3,1769.4 1623.9,1769.4 1623.9,1774.1 1620.8,1774.1 1620.8,1766.9 1617.4,1766.9 1617.4,1769.1 1614.0,1769.1 1614.0,1767.1 1610.6,1767.1 1610.6,1773.7 1607.3,1773.7 1607.3,1771.5 1604.6,1771.5 1604.6,1772.3 1601.6,1772.3 1601.6,1774.8 1598.4,1774.8 1598.4,1775.7 1595.6,1775.7 1595.6,1778.3 1592.8,1778.3 1592.8,1775.6 1589.5,1775.6 1589.5,1776.9 1586.7,1776.9 1586.7,1776.9 1584.7,1776.9 1584.7,1773.3 1582.6,1773.3 1582.6,1781.5 1580.4,1781.5 1580.4,1773.6 1578.0,1773.6 1578.0,1771.5 1575.0,1771.5 1575.0,1775.7 1572.3,1775.7 1572.3,1775.8 1569.5,1775.8 1569.5,1771.9 1565.9,1771.9 1565.9,1770.8 1562.1,1770.8 1562.1,1774.5 1558.3,1774.5 1558.3,1773.6 1555.6,1773.6 1555.6,1774.1 1553.0,1774.1 1553.0,1769.1 1550.0,1769.1 1550.0,1768.9 1546.8,1768.9 1546.8,1769.6 1543.2,1769.6 1543.2,1767.2 1539.7,1767.2 1539.7,1765.9 1536.7,1765.9 1536.7,1762.4 1533.4,1762.4 1533.4,1766.7 1529.7,1766.7 1529.7,1762.0 1526.3,1762.0 1526.3,1759.1 1523.4,1759.1 1523.4,1754.5 1520.1,1754.5 1520.1,1760.3 1516.8,1760.3 1516.8,1764.8 1514.6,1764.8 1514.6,1766.6 1512.7,1766.6 1512.7,1769.1 1510.5,1769.1 1510.5,1764.6 1508.3,1764.6 1508.3,1761.7 1505.8,1761.7 1505.8,1754.9 1503.4,1754.9 1503.4,1754.0 1501.0,1754.0 1501.0,1757.7 1498.5,1757.7 1498.5,1760.2 1495.9,1760.2 1495.9,1761.0 1492.7,1761.0 1492.7,1761.5 1489.8,1761.5 1489.8,1773.0 1487.5,1773.0 1487.5,1780.7 1484.6,1780.7 1484.6,1775.8 1481.3,1775.8 1481.3,1777.5 1478.7,1777.5 1478.7,1777.6 1475.6,1777.6 1475.6,1775.5 1472.5,1775.5 1472.5,1777.7 1470.0,1777.7 1470.0,1779.3 1466.9,1779.3 1466.9,1778.1 1463.1,1778.1 1463.1,1774.5 1459.9,1774.5 1459.9,1780.3 1457.1,1780.3 1457.1,1781.5 1454.3,1781.5 1454.3,1782.2 1452.1,1782.2 1452.1,1783.7 1449.3,1783.7 1449.3,1781.8 1445.7,1781.8 1445.7,1786.3 1442.4,1786.3 1442.4,1787.1 1439.4,1787.1 1439.4,1784.5 1436.5,1784.5 1436.5,1789.6 1433.7,1789.6 1433.7,1788.4 1431.1,1788.4 1431.1,1789.8 1427.7,1789.8 1427.7,1786.8 1424.4,1786.8 1424.4,1789.1 1421.9,1789.1 1421.9,1788.3 1419.3,1788.3 1419.3,1792.7 1416.9,1792.7 1416.9,1794.0 1414.6,1794.0 1414.6,1793.6 1411.3,1793.6 1411.3,1795.7 1407.5,1795.7 1407.5,1795.7 1404.3,1795.7 1404.3,1793.4 1401.1,1793.4 1401.1,1797.2 1398.4,1797.2 1398.4,1795.6 1396.0,1795.6 1396.0,1800.1 1393.1,1800.1 1393.1,1795.8 1390.4,1795.8 1390.4,1799.6 1387.4,1799.6 1387.4,1799.3 1384.5,1799.3 1384.5,1795.0 1382.1,1795.0 1382.1,1804.3 1379.5,1804.3 1379.5,1794.8 1376.3,1794.8 1376.3,1795.6 1373.3,1795.6 1373.3,1793.2 1370.6,1793.2 1370.6,1799.4 1367.9,1799.4 1367.9,1801.9 1364.9,1801.9 1364.9,1803.1 1361.8,1803.1 1361.8,1802.4 1359.1,1802.4 1359.1,1803.2 1356.4,1803.2 1356.4,1809.4 1352.9,1809.4 1352.9,1801.4 1349.8,1801.4 1349.8,1799.3 1346.9,1799.3 1346.9,1803.1 1344.4,1803.1 1344.4,1797.0 1341.5,1797.0 1341.5,1798.5 1338.5,1798.5 1338.5,1797.1 1335.7,1797.1 1335.7,1798.0 1333.2,1798.0 1333.2,1795.7 1331.1,1795.7 1331.1,1797.2 1328.9,1797.2 1328.9,1798.9 1326.9,1798.9 1326.9,1797.6 1324.5,1797.6 1324.5,1795.8 1322.1,1795.8 1322.1,1802.1 1320.3,1802.1 1320.3,1801.0 1317.8,1801.0 1317.8,1799.1 1314.7,1799.1 1314.7,1801.1 1311.8,1801.1 1311.8,1799.3 1309.6,1799.3 1309.6,1794.1 1307.4,1794.1 1307.4,1797.3 1304.8,1797.3 1304.8,1798.9 1302.1,1798.9 1302.1,1802.1 1299.4,1802.1 1299.4,1805.8 1296.3,1805.8 1296.3,1804.7 1292.6,1804.7 1292.6,1803.5 1289.7,1803.5 1289.7,1804.5 1286.9,1804.5 1286.9,1799.4 1283.9,1799.4 1283.9,1795.9 1280.6,1795.9 1280.6,1796.6 1276.9,1796.6 1276.9,1792.4 1273.9,1792.4 1273.9,1791.4 1271.2,1791.4 1271.2,1795.3 1268.6,1795.3 1268.6,1789.4 1266.6,1789.4 1266.6,1792.4 1264.3,1792.4 1264.3,1790.6 1261.5,1790.6 1261.5,1789.8 1258.6,1789.8 1258.6,1792.1 1255.7,1792.1 1255.7,1796.1 1252.6,1796.1 1252.6,1795.7 1249.9,1795.7 1249.9,1796.9 1247.9,1796.9 1247.9,1793.5 1245.8,1793.5 1245.8,1796.6 1243.2,1796.6 1243.2,1792.9 1239.9,1792.9 1239.9,1791.2 1236.3,1791.2 1236.3,1791.6 1233.4,1791.6 1233.4,1793.2 1230.9,1793.2 1230.9,1792.7 1228.3,1792.7 1228.3,1791.5 1226.4,1791.5 1226.4,1794.8 1224.6,1794.8 1224.6,1789.3 1222.8,1789.3 1222.8,1788.0 1220.4,1788.0 1220.4,1792.4 1217.1,1792.4 1217.1,1787.4 1213.7,1787.4 1213.7,1792.2 1210.9,1792.2 1210.9,1792.3 1208.0,1792.3 1208.0,1790.0 1205.0,1790.0 1205.0,1793.7 1201.6,1793.7 1201.6,1793.8 1198.5,1793.8 1198.5,1795.0 1195.3,1795.0 1195.3,1794.7 1192.0,1794.7 1192.0,1790.2 1189.1,1790.2 1189.1,1791.9 1186.6,1791.9 1186.6,1795.7 1184.0,1795.7 1184.0,1809.5 1180.6,1809.5 1180.6,1802.3 1177.6,1802.3 1177.6,1804.5 1175.2,1804.5 1175.2,1807.1 1172.3,1807.1 1172.3,1806.1 1168.9,1806.1 1168.9,1814.4 1165.9,1814.4 1165.9,1808.0 1163.2,1808.0 1163.2,1805.0 1160.1,1805.0 1160.1,1802.5 1157.1,1802.5 1157.1,1798.2 1154.3,1798.2 1154.3,1799.8 1151.1,1799.8 1151.1,1794.4 1148.4,1794.4 1148.4,1795.5 1145.9,1795.5 1145.9,1797.3 1143.0,1797.3 1143.0,1795.5 1140.9,1795.5 1140.9,1803.3 1138.5,1803.3 1138.5,1799.9 1135.2,1799.9 1135.2,1797.1 1131.4,1797.1 1131.4,1798.1 1128.0,1798.1 1128.0,1801.9 1125.2,1801.9 1125.2,1800.1 1122.0,1800.1 1122.0,1806.7 1118.9,1806.7 1118.9,1811.4 1116.5,1811.4 1116.5,1805.1 1114.1,1805.1 1114.1,1798.0 1111.8,1798.0 1111.8,1795.0 1108.8,1795.0 1108.8,1803.5 1105.5,1803.5 1105.5,1800.5 1103.1,1800.5 1103.1,1808.5 1100.4,1808.5 1100.4,1810.9 1096.8,1810.9 1096.8,1814.9 1093.2,1814.9 1093.2,1814.6 1090.1,1814.6 1090.1,1814.1 1087.5,1814.1 1087.5,1823.0 1084.8,1823.0 1084.8,1812.8 1081.6,1812.8 1081.6,1811.4 1078.9,1811.4 1078.9,1814.0 1076.0,1814.0 1076.0,1811.4 1072.8,1811.4 1072.8,1811.6 1070.3,1811.6 1070.3,1811.7 1067.8,1811.7 1067.8,1812.1 1065.3,1812.1 1065.3,1823.0 1062.1,1823.0 1062.1,1815.4 1059.3,1815.4 1059.3,1814.0 1057.3,1814.0 1057.3,1821.7 1055.0,1821.7 1055.0,1811.3 1052.1,1811.3 1052.1,1812.5 1049.3,1812.5 1049.3,1807.8 1046.1,1807.8 1046.1,1813.4 1042.9,1813.4 1042.9,1818.8 1040.7,1818.8 1040.7,1821.8 1038.5,1821.8 1038.5,1820.0 1035.9,1820.0 1035.9,1825.0 1033.5,1825.0 1033.5,1823.3 1030.8,1823.3 1030.8,1828.0 1027.5,1828.0 1027.5,1824.4 1024.2,1824.4 1024.2,1829.4 1021.4,1829.4 1021.4,1824.9 1019.1,1824.9 1019.1,1827.7 1017.0,1827.7 1017.0,1826.4 1015.1,1826.4 1015.1,1834.7 1012.9,1834.7 1012.9,1826.7 1010.6,1826.7 1010.6,1826.8 1008.5,1826.8 1008.5,1829.1 1006.4,1829.1 1006.4,1829.1 1003.6,1829.1 1003.6,1825.6 1000.1,1825.6 1000.1,1830.2 997.0,1830.2 997.0,1828.9 994.1,1828.9 994.1,1826.6 991.3,1826.6 991.3,1838.8 988.7,1838.8 988.7,1829.2 986.4,1829.2 986.4,1828.4 983.8,1828.4 983.8,1828.9 980.8,1828.9 980.8,1830.0 977.6,1830.0 977.6,1828.4 973.9,1828.4 973.9,1827.2 970.6,1827.2 970.6,1827.6 968.3,1827.6 968.3,1827.4 966.3,1827.4 966.3,1828.3 964.2,1828.3 964.2,1833.5 961.5,1833.5 961.5,1828.4 958.6,1828.4 958.6,1830.0 956.2,1830.0 956.2,1830.1 953.9,1830.1 953.9,1830.8 951.1,1830.8 951.1,1835.6 947.9,1835.6 947.9,1832.3 945.6,1832.3 945.6,1833.1 942.9,1833.1 942.9,1834.4 939.5,1834.4 939.5,1830.2 936.6,1830.2 936.6,1830.7 933.9,1830.7 933.9,1834.7 930.7,1834.7 930.7,1832.2 927.7,1832.2 927.7,1839.2 925.7,1839.2 925.7,1840.4 923.3,1840.4 923.3,1833.7 920.1,1833.7 920.1,1833.4 916.8,1833.4 916.8,1830.7 913.5,1830.7 913.5,1832.2 910.4,1832.2 910.4,1833.9 907.9,1833.9 907.9,1831.1 905.7,1831.1 905.7,1830.7 903.8,1830.7 903.8,1832.1 901.5,1832.1 901.5,1832.2 898.6,1832.2 898.6,1833.0 896.0,1833.0 896.0,1834.9 893.2,1834.9 893.2,1832.4 890.2,1832.4 890.2,1832.7 887.0,1832.7 887.0,1831.6 883.9,1831.6 883.9,1829.1 881.1,1829.1 881.1,1832.8 878.5,1832.8 878.5,1834.1 876.5,1834.1 876.5,1838.0 873.9,1838.0 873.9,1834.6 870.7,1834.6 870.7,1831.2 868.2,1831.2 868.2,1835.6 866.3,1835.6 866.3,1834.6 864.4,1834.6 864.4,1834.3 862.3,1834.3 862.3,1838.0 860.0,1838.0 860.0,1839.3 857.0,1839.3 857.0,1844.3 853.5,1844.3 853.5,1841.3 850.5,1841.3 850.5,1841.1 847.9,1841.1 847.9,1841.5 845.1,1841.5 845.1,1839.0 842.0,1839.0 842.0,1840.7 839.0,1840.7 839.0,1839.1 836.1,1839.1 836.1,1848.3 832.8,1848.3 832.8,1841.1 830.0,1841.1 830.0,1836.4 827.7,1836.4 827.7,1836.9 825.7,1836.9 825.7,1836.9 823.5,1836.9 823.5,1841.6 820.4,1841.6 820.4,1837.5 817.1,1837.5 817.1,1836.3 813.6,1836.3 813.6,1834.8 810.2,1834.8 810.2,1835.6 806.8,1835.6 806.8,1833.3 803.0,1833.3 803.0,1836.9 799.6,1836.9 799.6,1831.9 796.6,1831.9 796.6,1831.7 793.9,1831.7 793.9,1832.6 791.8,1832.6 791.8,1833.7 789.8,1833.7 789.8,1833.3 787.2,1833.3 787.2,1836.2 784.2,1836.2 784.2,1835.8 781.2,1835.8 781.2,1839.2 777.8,1839.2 777.8,1840.6 774.6,1840.6 774.6,1840.1 772.0,1840.1 772.0,1840.8 768.6,1840.8 768.6,1840.9 765.9,1840.9 765.9,1841.2 763.2,1841.2 763.2,1844.4 760.1,1844.4 760.1,1841.1 757.8,1841.1 757.8,1842.0 755.0,1842.0 755.0,1837.1 751.4,1837.1 751.4,1837.5 747.9,1837.5 747.9,1837.6 745.3,1837.6 745.3,1838.9 742.8,1838.9 742.8,1838.9 739.9,1838.9 739.9,1843.3 737.4,1843.3 737.4,1837.3 735.3,1837.3 735.3,1839.5 732.8,1839.5 732.8,1837.1 729.5,1837.1 729.5,1836.8 726.0,1836.8 726.0,1837.2 722.4,1837.2 722.4,1837.2 719.3,1837.2 719.3,1840.8 716.7,1840.8 716.7,1838.2 714.1,1838.2 714.1,1838.8 711.7,1838.8 711.7,1842.1 709.3,1842.1 709.3,1838.1 706.4,1838.1 706.4,1841.1 703.6,1841.1 703.6,1841.9 701.5,1841.9 701.5,1842.0 698.5,1842.0 698.5,1840.5 695.0,1840.5 695.0,1847.7 692.4,1847.7 692.4,1848.5 690.2,1848.5 690.2,1844.6 686.9,1844.6 686.9,1843.2 684.1,1843.2 684.1,1840.0 681.3,1840.0 681.3,1842.8 677.7,1842.8 677.7,1839.7 674.8,1839.7 674.8,1845.3 671.9,1845.3 671.9,1841.2 669.3,1841.2 669.3,1841.0 666.6,1841.0 666.6,1841.8 664.2,1841.8 664.2,1848.6 661.5,1848.6 661.5,1848.4 658.4,1848.4 658.4,1847.2 656.0,1847.2 656.0,1847.9 653.2,1847.9 653.2,1845.6 650.2,1845.6 650.2,1842.9 647.1,1842.9 647.1,1842.3 643.8,1842.3 643.8,1840.1 641.0,1840.1 641.0,1837.4 638.8,1837.4 638.8,1833.4 636.0,1833.4 636.0,1839.7 632.8,1839.7 632.8,1832.9 630.0,1832.9 630.0,1830.7 627.6,1830.7 627.6,1825.2 625.5,1825.2 625.5,1828.2 622.6,1828.2 622.6,1832.8 619.7,1832.8 619.7,1833.0 617.1,1833.0 617.1,1846.5 613.7,1846.5 613.7,1842.1 610.7,1842.1 610.7,1839.1 607.9,1839.1 607.9,1836.4 604.8,1836.4 604.8,1837.1 602.2,1837.1 602.2,1832.8 599.5,1832.8 599.5,1835.4 597.0,1835.4 597.0,1834.2 594.7,1834.2 594.7,1838.4 592.3,1838.4 592.3,1835.8 590.0,1835.8 590.0,1835.9 587.1,1835.9 587.1,1834.7 583.8,1834.7 583.8,1837.0 580.6,1837.0 580.6,1836.3 577.6,1836.3 577.6,1839.7 574.9,1839.7 574.9,1839.1 571.8,1839.1 571.8,1841.1 568.7,1841.1 568.7,1839.3 566.5,1839.3 566.5,1843.9 564.0,1843.9 564.0,1842.0 561.1,1842.0 561.1,1848.1 558.5,1848.1 558.5,1845.8 555.7,1845.8 555.7,1844.9 552.2,1844.9 552.2,1850.0 548.8,1850.0 548.8,1845.6 545.3,1845.6 545.3,1844.5 542.4,1844.5 542.4,1844.8 539.8,1844.8 539.8,1850.3 537.4,1850.3 537.4,1841.2 535.3,1841.2 535.3,1849.0 533.0,1849.0 533.0,1843.4 530.7,1843.4 530.7,1839.5 527.9,1839.5 527.9,1840.3 524.5,1840.3 524.5,1849.6 521.7,1849.6 521.7,1850.3 519.2,1850.3 519.2,1860.1 516.4,1860.1 516.4,1854.5 513.5,1854.5 513.5,1850.9 510.4,1850.9 510.4,1850.9 507.5,1850.9 507.5,1855.0 504.9,1855.0 504.9,1852.1 502.5,1852.1 502.5,1853.5 499.9,1853.5 499.9,1851.6 497.4,1851.6 497.4,1859.2 494.7,1859.2 494.7,1853.6 492.5,1853.6 492.5,1858.1 489.9,1858.1 489.9,1855.8 487.0,1855.8 487.0,1850.9 483.7,1850.9 483.7,1854.4 480.8,1854.4 480.8,1851.6 478.0,1851.6 478.0,1847.7 475.3,1847.7 475.3,1847.2 472.6,1847.2 472.6,1854.9 468.8,1854.9 468.8,1846.7 465.1,1846.7 465.1,1847.9 461.6,1847.9 461.6,1848.9 458.5,1848.9 458.5,1850.3 455.5,1850.3 455.5,1847.2 452.1,1847.2 452.1,1845.6 449.0,1845.6 449.0,1845.0 445.8,1845.0 445.8,1852.4 442.4,1852.4 442.4,1849.1 439.0,1849.1 439.0,1847.0 435.2,1847.0 435.2,1856.2 431.7,1856.2 431.7,1848.0 428.7,1848.0 428.7,1847.9 425.2,1847.9 425.2,1841.2 421.7,1841.2 421.7,1844.2 418.1,1844.2 418.1,1848.4 415.2,1848.4 415.2,1851.9 413.1,1851.9 413.1,1846.3 410.8,1846.3 410.8,1849.7 407.9,1849.7 407.9,1848.0 404.4,1848.0 404.4,1853.5 401.6,1853.5 401.6,1848.6 399.5,1848.6 399.5,1852.8 396.6,1852.8 396.6,1854.6 393.3,1854.6 393.3,1854.0 389.8,1854.0 389.8,1852.7 386.9,1852.7 386.9,1852.4 384.7,1852.4 384.7,1853.9 382.3,1853.9 382.3,1851.8 379.5,1851.8 379.5,1849.3 376.8,1849.3 376.8,1849.1 373.9,1849.1 373.9,1847.6 371.6,1847.6 371.6,1851.8 369.6,1851.8 369.6,1848.2 367.2,1848.2 367.2,1853.0 364.7,1853.0 364.7,1849.7 361.5,1849.7 361.5,1852.7 358.6,1852.7 358.6,1849.9 355.8,1849.9 355.8,1850.9 353.1,1850.9 353.1,1853.5 350.7,1853.5 350.7,1852.7 348.3,1852.7 348.3,1851.5 345.8,1851.5 345.8,1854.0 343.4,1854.0 343.4,1854.2 340.8,1854.2 340.8,1849.8 338.0,1849.8 338.0,1855.8 335.4,1855.8 335.4,1850.9 332.5,1850.9 332.5,1852.6 329.7,1852.6 329.7,1850.2 326.6,1850.2 326.6,1849.2 323.3,1849.2 323.3,1854.0 320.4,1854.0 320.4,1855.6 317.1,1855.6 317.1,1855.5 313.2,1855.5 313.2,1861.7 310.0,1861.7 310.0,1853.8 307.4,1853.8 307.4,1852.2 304.9,1852.2 304.9,1851.2 302.2,1851.2 302.2,1850.9 299.2,1850.9 299.2,1851.0 295.9,1851.0 295.9,1858.0 293.2,1858.0 293.2,1852.1 291.0,1852.1 291.0,1853.2 288.4,1853.2 288.4,1853.4 286.0,1853.4 286.0,1853.8 284.0,1853.8 284.0,1851.2 281.8,1851.2 281.8,1857.3 279.6,1857.3 279.6,1857.3 277.3,1857.3 277.3,1857.1 275.9,1857.1"/>
<polyline fill="none" stroke="#ff8630" stroke-width="3.00" points="273.6,1890.4 274.6,1847.4 276.9,1847.4"/>
<polygon fill="#ff8630" stroke="#ff8630" stroke-width="0.60" stroke-linejoin="round" points="275.9,1836.6 277.7,1836.6 277.7,1834.0 281.0,1834.0 281.0,1830.2 284.2,1830.2 284.2,1834.1 287.0,1834.1 287.0,1827.6 289.4,1827.6 289.4,1830.0 291.5,1830.0 291.5,1827.1 294.0,1827.1 294.0,1830.2 297.4,1830.2 297.4,1826.8 301.2,1826.8 301.2,1823.7 304.5,1823.7 304.5,1822.3 307.2,1822.3 307.2,1819.7 310.3,1819.7 310.3,1813.5 313.8,1813.5 313.8,1812.8 316.6,1812.8 316.6,1810.7 319.4,1810.7 319.4,1807.6 322.8,1807.6 322.8,1805.2 326.6,1805.2 326.6,1809.2 329.6,1809.2 329.6,1810.5 332.5,1810.5 332.5,1807.2 336.0,1807.2 336.0,1804.4 338.5,1804.4 338.5,1807.1 340.6,1807.1 340.6,1808.4 343.0,1808.4 343.0,1802.0 345.5,1802.0 345.5,1812.9 347.6,1812.9 347.6,1813.4 350.1,1813.4 350.1,1813.7 353.4,1813.7 353.4,1810.3 356.0,1810.3 356.0,1812.0 358.9,1812.0 358.9,1813.3 362.3,1813.3 362.3,1810.0 364.7,1810.0 364.7,1812.7 367.6,1812.7 367.6,1812.3 371.1,1812.3 371.1,1813.9 374.0,1813.9 374.0,1809.4 377.1,1809.4 377.1,1810.3 379.8,1810.3 379.8,1812.4 382.0,1812.4 382.0,1815.4 384.5,1815.4 384.5,1810.0 387.0,1810.0 387.0,1804.8 389.9,1804.8 389.9,1811.4 392.6,1811.4 392.6,1810.1 395.1,1810.1 395.1,1806.3 397.7,1806.3 397.7,1809.1 400.7,1809.1 400.7,1803.5 403.8,1803.5 403.8,1812.1 406.1,1812.1 406.1,1802.2 408.7,1802.2 408.7,1802.5 411.7,1802.5 411.7,1808.3 414.5,1808.3 414.5,1810.3 417.7,1810.3 417.7,1804.8 420.8,1804.8 420.8,1808.0 423.1,1808.0 423.1,1807.9 425.0,1807.9 425.0,1796.1 426.9,1796.1 426.9,1802.5 429.2,1802.5 429.2,1801.4 432.2,1801.4 432.2,1797.1 435.7,1797.1 435.7,1803.8 439.3,1803.8 439.3,1799.6 442.5,1799.6 442.5,1797.7 445.3,1797.7 445.3,1800.4 448.5,1800.4 448.5,1796.6 452.2,1796.6 452.2,1793.5 456.0,1793.5 456.0,1789.3 459.7,1789.3 459.7,1793.7 463.2,1793.7 463.2,1794.1 466.6,1794.1 466.6,1792.0 469.4,1792.0 469.4,1792.9 471.6,1792.9 471.6,1796.2 473.7,1796.2 473.7,1791.6 476.3,1791.6 476.3,1800.3 479.3,1800.3 479.3,1793.9 482.4,1793.9 482.4,1794.5 485.9,1794.5 485.9,1787.7 488.9,1787.7 488.9,1782.7 491.5,1782.7 491.5,1785.4 494.5,1785.4 494.5,1784.0 497.9,1784.0 497.9,1785.7 500.9,1785.7 500.9,1783.1 503.6,1783.1 503.6,1788.7 506.1,1788.7 506.1,1787.5 508.2,1787.5 508.2,1790.3 510.1,1790.3 510.1,1790.9 512.9,1790.9 512.9,1796.2 515.9,1796.2 515.9,1794.6 518.4,1794.6 518.4,1803.3 521.2,1803.3 521.2,1806.5 524.6,1806.5 524.6,1809.0 528.2,1809.0 528.2,1812.2 531.0,1812.2 531.0,1811.8 533.2,1811.8 533.2,1810.9 535.3,1810.9 535.3,1810.0 537.6,1810.0 537.6,1812.0 540.3,1812.0 540.3,1808.9 543.3,1808.9 543.3,1802.6 545.8,1802.6 545.8,1800.6 548.1,1800.6 548.1,1801.2 550.5,1801.2 550.5,1800.7 553.1,1800.7 553.1,1801.8 555.7,1801.8 555.7,1805.3 558.2,1805.3 558.2,1804.8 561.0,1804.8 561.0,1803.6 564.2,1803.6 564.2,1802.0 567.0,1802.0 567.0,1799.8 569.8,1799.8 569.8,1797.2 572.6,1797.2 572.6,1800.1 574.5,1800.1 574.5,1802.9 576.6,1802.9 576.6,1802.4 578.6,1802.4 578.6,1804.6 581.1,1804.6 581.1,1799.6 583.7,1799.6 583.7,1797.3 585.9,1797.3 585.9,1803.3 588.6,1803.3 588.6,1798.7 591.6,1798.7 591.6,1799.6 594.4,1799.6 594.4,1801.7 597.1,1801.7 597.1,1801.1 600.1,1801.1 600.1,1799.5 602.8,1799.5 602.8,1798.2 605.5,1798.2 605.5,1796.2 609.0,1796.2 609.0,1795.5 611.7,1795.5 611.7,1794.5 614.6,1794.5 614.6,1792.4 618.3,1792.4 618.3,1789.9 621.3,1789.9 621.3,1791.5 623.6,1791.5 623.6,1788.0 625.8,1788.0 625.8,1788.1 628.1,1788.1 628.1,1789.9 630.5,1789.9 630.5,1788.6 633.2,1788.6 633.2,1788.8 635.6,1788.8 635.6,1791.9 638.2,1791.9 638.2,1792.1 641.6,1792.1 641.6,1789.5 644.6,1789.5 644.6,1791.9 647.1,1791.9 647.1,1796.2 649.4,1796.2 649.4,1795.2 651.9,1795.2 651.9,1795.9 655.3,1795.9 655.3,1794.5 658.2,1794.5 658.2,1798.3 660.7,1798.3 660.7,1794.8 663.1,1794.8 663.1,1796.5 665.4,1796.5 665.4,1797.7 668.1,1797.7 668.1,1797.4 670.4,1797.4 670.4,1800.1 672.8,1800.1 672.8,1803.8 675.8,1803.8 675.8,1799.8 678.5,1799.8 678.5,1803.2 681.4,1803.2 681.4,1797.2 684.6,1797.2 684.6,1802.9 687.8,1802.9 687.8,1803.7 690.7,1803.7 690.7,1803.9 693.4,1803.9 693.4,1804.8 696.4,1804.8 696.4,1801.7 699.2,1801.7 699.2,1802.2 702.2,1802.2 702.2,1806.4 705.0,1806.4 705.0,1806.7 708.4,1806.7 708.4,1800.2 711.5,1800.2 711.5,1802.4 713.9,1802.4 713.9,1801.7 716.2,1801.7 716.2,1802.0 718.6,1802.0 718.6,1802.5 721.2,1802.5 721.2,1805.1 723.8,1805.1 723.8,1806.5 726.6,1806.5 726.6,1799.6 730.0,1799.6 730.0,1805.1 733.3,1805.1 733.3,1803.3 736.6,1803.3 736.6,1805.3 740.3,1805.3 740.3,1804.3 743.2,1804.3 743.2,1802.8 745.9,1802.8 745.9,1803.3 749.1,1803.3 749.1,1802.5 752.4,1802.5 752.4,1799.2 755.3,1799.2 755.3,1800.3 758.4,1800.3 758.4,1792.9 761.1,1792.9 761.1,1794.1 764.0,1794.1 764.0,1791.5 767.3,1791.5 767.3,1792.6 770.1,1792.6 770.1,1785.7 773.6,1785.7 773.6,1789.0 777.3,1789.0 777.3,1785.9 780.9,1785.9 780.9,1786.0 784.2,1786.0 784.2,1785.7 787.4,1785.7 787.4,1790.7 790.4,1790.7 790.4,1786.4 792.9,1786.4 792.9,1788.2 795.9,1788.2 795.9,1790.5 798.5,1790.5 798.5,1789.7 800.7,1789.7 800.7,1788.9 803.1,1788.9 803.1,1787.6 806.0,1787.6 806.0,1790.5 808.6,1790.5 808.6,1789.6 811.3,1789.6 811.3,1786.5 813.9,1786.5 813.9,1787.2 815.7,1787.2 815.7,1786.5 818.1,1786.5 818.1,1785.8 820.3,1785.8 820.3,1788.6 822.1,1788.6 822.1,1786.7 824.5,1786.7 824.5,1786.6 827.7,1786.6 827.7,1786.8 831.2,1786.8 831.2,1790.5 833.8,1790.5 833.8,1784.8 836.5,1784.8 836.5,1791.1 840.3,1791.1 840.3,1786.6 843.1,1786.6 843.1,1789.7 844.9,1789.7 844.9,1791.3 847.1,1791.3 847.1,1781.7 850.0,1781.7 850.0,1787.5 853.0,1787.5 853.0,1790.8 856.0,1790.8 856.0,1790.7 858.8,1790.7 858.8,1788.9 861.6,1788.9 861.6,1792.4 864.4,1792.4 864.4,1791.0 866.7,1791.0 866.7,1792.1 869.4,1792.1 869.4,1788.4 871.9,1788.4 871.9,1791.9 874.1,1791.9 874.1,1789.9 876.3,1789.9 876.3,1790.6 878.9,1790.6 878.9,1791.8 881.6,1791.8 881.6,1794.1 883.6,1794.1 883.6,1786.7 885.9,1786.7 885.9,1793.5 888.9,1793.5 888.9,1790.4 891.8,1790.4 891.8,1789.9 894.1,1789.9 894.1,1791.2 897.3,1791.2 897.3,1792.6 900.6,1792.6 900.6,1789.3 903.9,1789.3 903.9,1789.6 907.2,1789.6 907.2,1790.2 910.4,1790.2 910.4,1791.8 914.0,1791.8 914.0,1791.0 917.6,1791.0 917.6,1791.5 920.4,1791.5 920.4,1790.4 922.9,1790.4 922.9,1798.4 926.2,1798.4 926.2,1798.9 929.2,1798.9 929.2,1798.8 931.6,1798.8 931.6,1797.6 934.1,1797.6 934.1,1802.3 936.4,1802.3 936.4,1793.7 939.0,1793.7 939.0,1795.2 941.7,1795.2 941.7,1798.4 944.0,1798.4 944.0,1794.6 946.9,1794.6 946.9,1797.3 950.6,1797.3 950.6,1799.5 954.4,1799.5 954.4,1799.6 957.3,1799.6 957.3,1801.8 959.3,1801.8 959.3,1795.7 962.0,1795.7 962.0,1793.5 965.5,1793.5 965.5,1785.8 968.7,1785.8 968.7,1775.9 971.4,1775.9 971.4,1776.7 974.4,1776.7 974.4,1766.1 977.4,1766.1 977.4,1781.2 980.3,1781.2 980.3,1791.2 983.1,1791.2 983.1,1798.4 985.7,1798.4 985.7,1803.4 988.2,1803.4 988.2,1799.7 990.6,1799.7 990.6,1805.7 993.5,1805.7 993.5,1801.2 995.9,1801.2 995.9,1801.5 998.3,1801.5 998.3,1801.1 1001.0,1801.1 1001.0,1801.4 1003.9,1801.4 1003.9,1800.5 1006.3,1800.5 1006.3,1796.4 1008.8,1796.4 1008.8,1803.7 1011.5,1803.7 1011.5,1803.0 1014.1,1803.0 1014.1,1801.8 1017.6,1801.8 1017.6,1797.9 1020.5,1797.9 1020.5,1807.9 1023.3,1807.9 1023.3,1799.9 1025.9,1799.9 1025.9,1809.9 1028.4,1809.9 1028.4,1809.8 1030.8,1809.8 1030.8,1805.7 1032.8,1805.7 1032.8,1806.5 1035.7,1806.5 1035.7,1807.7 1039.2,1807.7 1039.2,1808.9 1042.3,1808.9 1042.3,1808.1 1045.5,1808.1 1045.5,1807.0 1048.4,1807.0 1048.4,1807.5 1051.2,1807.5 1051.2,1802.5 1054.4,1802.5 1054.4,1805.7 1057.3,1805.7 1057.3,1806.1 1059.9,1806.1 1059.9,1803.5 1062.5,1803.5 1062.5,1801.3 1065.4,1801.3 1065.4,1805.5 1068.5,1805.5 1068.5,1798.3 1070.7,1798.3 1070.7,1800.9 1073.4,1800.9 1073.4,1801.9 1076.5,1801.9 1076.5,1805.9 1079.4,1805.9 1079.4,1802.9 1082.1,1802.9 1082.1,1800.3 1084.5,1800.3 1084.5,1799.7 1087.2,1799.7 1087.2,1802.0 1090.9,1802.0 1090.9,1800.9 1094.3,1800.9 1094.3,1798.6 1096.9,1798.6 1096.9,1793.6 1099.3,1793.6 1099.3,1794.8 1101.9,1794.8 1101.9,1792.0 1104.3,1792.0 1104.3,1794.6 1106.8,1794.6 1106.8,1785.5 1109.9,1785.5 1109.9,1793.1 1112.9,1793.1 1112.9,1796.3 1115.1,1796.3 1115.1,1791.9 1117.9,1791.9 1117.9,1789.7 1121.4,1789.7 1121.4,1783.5 1124.3,1783.5 1124.3,1786.1 1127.2,1786.1 1127.2,1789.5 1129.9,1789.5 1129.9,1793.6 1132.8,1793.6 1132.8,1794.8 1136.3,1794.8 1136.3,1801.0 1139.5,1801.0 1139.5,1800.2 1142.7,1800.2 1142.7,1792.2 1146.2,1792.2 1146.2,1801.1 1149.1,1801.1 1149.1,1802.0 1151.3,1802.0 1151.3,1802.4 1153.5,1802.4 1153.5,1800.6 1156.4,1800.6 1156.4,1797.3 1159.2,1797.3 1159.2,1798.8 1161.8,1798.8 1161.8,1798.9 1164.4,1798.9 1164.4,1801.0 1167.1,1801.0 1167.1,1797.9 1170.3,1797.9 1170.3,1798.9 1172.9,1798.9 1172.9,1795.8 1176.1,1795.8 1176.1,1793.9 1179.9,1793.9 1179.9,1797.9 1183.7,1797.9 1183.7,1789.5 1187.3,1789.5 1187.3,1793.4 1190.3,1793.4 1190.3,1796.3 1193.0,1796.3 1193.0,1788.8 1196.2,1788.8 1196.2,1793.9 1199.2,1793.9 1199.2,1793.9 1202.1,1793.9 1202.1,1790.4 1205.7,1790.4 1205.7,1785.1 1209.2,1785.1 1209.2,1781.2 1212.3,1781.2 1212.3,1773.1 1215.2,1773.1 1215.2,1775.0 1217.8,1775.0 1217.8,1776.6 1220.2,1776.6 1220.2,1776.0 1222.8,1776.0 1222.8,1771.4 1225.2,1771.4 1225.2,1773.5 1227.1,1773.5 1227.1,1774.5 1229.3,1774.5 1229.3,1782.6 1231.6,1782.6 1231.6,1778.8 1233.8,1778.8 1233.8,1788.1 1236.5,1788.1 1236.5,1795.1 1239.7,1795.1 1239.7,1793.3 1242.4,1793.3 1242.4,1789.7 1245.1,1789.7 1245.1,1791.7 1248.5,1791.7 1248.5,1780.4 1251.9,1780.4 1251.9,1779.7 1255.1,1779.7 1255.1,1785.0 1258.5,1785.0 1258.5,1792.6 1262.0,1792.6 1262.0,1792.7 1265.4,1792.7 1265.4,1794.9 1268.9,1794.9 1268.9,1789.8 1271.8,1789.8 1271.8,1785.7 1273.9,1785.7 1273.9,1792.2 1276.0,1792.2 1276.0,1788.7 1278.1,1788.7 1278.1,1786.8 1280.0,1786.8 1280.0,1790.1 1281.8,1790.1 1281.8,1786.4 1283.8,1786.4 1283.8,1786.9 1286.5,1786.9 1286.5,1785.8 1289.4,1785.8 1289.4,1791.1 1291.9,1791.1 1291.9,1792.2 1295.1,1792.2 1295.1,1795.5 1298.7,1795.5 1298.7,1796.5 1302.0,1796.5 1302.0,1799.4 1304.4,1799.4 1304.4,1789.0 1306.2,1789.0 1306.2,1795.1 1308.6,1795.1 1308.6,1797.8 1311.2,1797.8 1311.2,1790.5 1314.0,1790.5 1314.0,1794.9 1316.7,1794.9 1316.7,1797.0 1319.2,1797.0 1319.2,1796.3 1322.4,1796.3 1322.4,1801.2 1325.9,1801.2 1325.9,1801.7 1329.2,1801.7 1329.2,1800.9 1332.3,1800.9 1332.3,1798.4 1335.5,1798.4 1335.5,1799.6 1337.8,1799.6 1337.8,1800.9 1340.1,1800.9 1340.1,1801.5 1342.9,1801.5 1342.9,1801.3 1345.9,1801.3 1345.9,1803.1 1349.3,1803.1 1349.3,1802.1 1353.0,1802.1 1353.0,1805.0 1355.6,1805.0 1355.6,1803.4 1357.9,1803.4 1357.9,1806.3 1360.9,1806.3 1360.9,1805.1 1364.2,1805.1 1364.2,1803.7 1367.8,1803.7 1367.8,1804.9 1370.7,1804.9 1370.7,1805.9 1373.1,1805.9 1373.1,1804.8 1376.0,1804.8 1376.0,1802.0 1379.1,1802.0 1379.1,1803.2 1382.2,1803.2 1382.2,1806.2 1385.5,1806.2 1385.5,1805.3 1388.7,1805.3 1388.7,1802.3 1391.5,1802.3 1391.5,1802.9 1394.0,1802.9 1394.0,1804.2 1396.5,1804.2 1396.5,1796.0 1399.3,1796.0 1399.3,1796.0 1402.5,1796.0 1402.5,1799.4 1406.1,1799.4 1406.1,1803.6 1409.5,1803.6 1409.5,1802.3 1412.2,1802.3 1412.2,1800.2 1414.6,1800.2 1414.6,1799.6 1417.5,1799.6 1417.5,1801.6 1420.4,1801.6 1420.4,1800.9 1423.6,1800.9 1423.6,1798.1 1427.3,1798.1 1427.3,1802.7 1430.6,1802.7 1430.6,1796.6 1433.3,1796.6 1433.3,1796.9 1436.4,1796.9 1436.4,1802.5 1439.9,1802.5 1439.9,1801.7 1443.0,1801.7 1443.0,1801.9 1446.2,1801.9 1446.2,1796.7 1449.3,1796.7 1449.3,1797.6 1452.0,1797.6 1452.0,1799.5 1454.7,1799.5 1454.7,1796.3 1457.7,1796.3 1457.7,1796.8 1460.7,1796.8 1460.7,1789.9 1463.9,1789.9 1463.9,1790.3 1467.0,1790.3 1467.0,1794.6 1469.5,1794.6 1469.5,1798.6 1471.8,1798.6 1471.8,1797.1 1474.3,1797.1 1474.3,1797.3 1476.8,1797.3 1476.8,1792.7 1479.6,1792.7 1479.6,1793.1 1482.5,1793.1 1482.5,1796.5 1485.5,1796.5 1485.5,1793.4 1489.0,1793.4 1489.0,1793.4 1492.0,1793.4 1492.0,1795.6 1494.8,1795.6 1494.8,1797.1 1498.4,1797.1 1498.4,1797.6 1501.7,1797.6 1501.7,1794.8 1503.9,1794.8 1503.9,1798.9 1506.4,1798.9 1506.4,1797.7 1509.4,1797.7 1509.4,1793.8 1512.4,1793.8 1512.4,1799.6 1515.6,1799.6 1515.6,1793.0 1519.1,1793.0 1519.1,1798.3 1522.4,1798.3 1522.4,1798.0 1524.9,1798.0 1524.9,1796.7 1526.8,1796.7 1526.8,1798.3 1528.9,1798.3 1528.9,1789.3 1532.1,1789.3 1532.1,1794.6 1535.4,1794.6 1535.4,1797.1 1538.1,1797.1 1538.1,1790.9 1540.3,1790.9 1540.3,1797.1 1542.5,1797.1 1542.5,1795.3 1545.1,1795.3 1545.1,1798.4 1547.7,1798.4 1547.7,1805.2 1550.7,1805.2 1550.7,1805.5 1554.1,1805.5 1554.1,1812.6 1556.7,1812.6 1556.7,1810.7 1558.8,1810.7 1558.8,1810.5 1561.1,1810.5 1561.1,1808.8 1563.9,1808.8 1563.9,1811.2 1566.8,1811.2 1566.8,1806.4 1569.3,1806.4 1569.3,1804.9 1571.8,1804.9 1571.8,1808.4 1574.5,1808.4 1574.5,1807.0 1577.1,1807.0 1577.1,1807.5 1579.4,1807.5 1579.4,1809.3 1581.9,1809.3 1581.9,1808.5 1585.1,1808.5 1585.1,1807.4 1588.0,1807.4 1588.0,1804.1 1590.2,1804.1 1590.2,1802.8 1593.1,1802.8 1593.1,1806.9 1596.0,1806.9 1596.0,1808.2 1598.8,1808.2 1598.8,1809.4 1602.3,1809.4 1602.3,1811.6 1605.3,1811.6 1605.3,1815.3 1608.5,1815.3 1608.5,1815.9 1611.4,1815.9 1611.4,1815.7 1614.1,1815.7 1614.1,1812.5 1617.3,1812.5 1617.3,1812.6 1619.9,1812.6 1619.9,1815.2 1622.9,1815.2 1622.9,1810.7 1626.1,1810.7 1626.1,1815.1 1628.6,1815.1 1628.6,1804.6 1631.4,1804.6 1631.4,1814.8 1634.5,1814.8 1634.5,1805.5 1637.5,1805.5 1637.5,1811.9 1640.5,1811.9 1640.5,1806.4 1643.7,1806.4 1643.7,1814.0 1646.7,1814.0 1646.7,1815.4 1649.6,1815.4 1649.6,1812.5 1652.3,1812.5 1652.3,1814.0 1654.4,1814.0 1654.4,1816.1 1656.2,1816.1 1656.2,1817.0 1658.1,1817.0 1658.1,1813.2 1660.5,1813.2 1660.5,1815.1 1663.3,1815.1 1663.3,1813.9 1666.5,1813.9 1666.5,1817.3 1669.5,1817.3 1669.5,1806.4 1671.7,1806.4 1671.7,1813.2 1673.8,1813.2 1673.8,1812.7 1676.5,1812.7 1676.5,1812.2 1679.2,1812.2 1679.2,1814.1 1681.5,1814.1 1681.5,1813.2 1684.2,1813.2 1684.2,1812.5 1687.5,1812.5 1687.5,1811.8 1690.6,1811.8 1690.6,1811.1 1692.7,1811.1 1692.7,1812.9 1694.7,1812.9 1694.7,1815.0 1696.8,1815.0 1696.8,1814.8 1699.0,1814.8 1699.0,1807.4 1701.1,1807.4 1701.1,1808.5 1703.6,1808.5 1703.6,1810.1 1706.9,1810.1 1706.9,1814.0 1710.1,1814.0 1710.1,1802.6 1712.6,1802.6 1712.6,1808.0 1715.4,1808.0 1715.4,1809.4 1718.2,1809.4 1718.2,1808.5 1720.0,1808.5 1720.0,1809.9 1721.8,1809.9 1721.8,1809.2 1724.4,1809.2 1724.4,1813.3 1727.3,1813.3 1727.3,1816.9 1729.7,1816.9 1729.7,1816.9 1732.1,1816.9 1732.1,1813.1 1734.8,1813.1 1734.8,1812.8 1737.6,1812.8 1737.6,1808.3 1740.1,1808.3 1740.1,1807.1 1742.8,1807.1 1742.8,1797.4 1745.6,1797.4 1745.6,1796.2 1748.1,1796.2 1748.1,1793.4 1751.1,1793.4 1751.1,1791.2 1754.5,1791.2 1754.5,1791.9 1758.0,1791.9 1758.0,1794.3 1761.0,1794.3 1761.0,1800.0 1763.7,1800.0 1763.7,1796.2 1766.2,1796.2 1766.2,1804.3 1768.2,1804.3 1768.2,1807.2 1771.0,1807.2 1771.0,1806.0 1774.3,1806.0 1774.3,1811.8 1777.6,1811.8 1777.6,1813.6 1780.5,1813.6 1780.5,1808.9 1782.7,1808.9 1782.7,1812.6 1785.1,1812.6 1785.1,1807.8 1787.6,1807.8 1787.6,1809.0 1790.1,1809.0 1790.1,1812.4 1793.0,1812.4 1793.0,1809.8 1796.2,1809.8 1796.2,1809.6 1799.1,1809.6 1799.1,1802.9 1801.6,1802.9 1801.6,1811.7 1803.8,1811.7 1803.8,1810.2 1806.7,1810.2 1806.7,1814.1 1810.3,1814.1 1810.3,1812.7 1813.9,1812.7 1813.9,1799.2 1816.8,1799.2 1816.8,1806.3 1819.1,1806.3 1819.1,1807.0 1822.1,1807.0 1822.1,1802.7 1825.6,1802.7 1825.6,1800.8 1828.7,1800.8 1828.7,1802.1 1831.4,1802.1 1831.4,1804.3 1834.2,1804.3 1834.2,1800.0 1836.6,1800.0 1836.6,1800.4 1839.5,1800.4 1839.5,1804.7 1842.7,1804.7 1842.7,1805.4 1845.2,1805.4 1845.2,1807.7 1847.2,1807.7 1847.2,1804.8 1849.0,1804.8 1849.0,1807.8 1851.1,1807.8 1851.1,1805.8 1853.1,1805.8 1853.1,1812.3 1855.5,1812.3 1855.5,1810.5 1857.8,1810.5 1857.8,1805.9 1859.8,1805.9 1859.8,1815.2 1861.7,1815.2 1861.7,1815.5 1863.9,1815.5 1863.9,1811.7 1866.4,1811.7 1866.4,1816.5 1868.5,1816.5 1868.5,1813.9 1871.3,1813.9 1871.3,1818.9 1874.6,1818.9 1874.6,1818.8 1877.5,1818.8 1877.5,1819.0 1880.3,1819.0 1880.3,1818.8 1882.7,1818.8 1882.7,1819.5 1885.5,1819.5 1885.5,1821.1 1887.9,1821.1 1887.9,1821.1 1890.3,1821.1 1890.3,1816.5 1892.7,1816.5 1892.7,1815.4 1895.5,1815.4 1895.5,1814.5 1898.7,1814.5 1898.7,1810.8 1901.0,1810.8 1901.0,1813.6 1903.4,1813.6 1903.4,1814.5 1905.8,1814.5 1905.8,1814.5 1908.3,1814.5 1908.3,1814.4 1911.2,1814.4 1911.2,1817.1 1914.7,1817.1 1914.7,1814.8 1918.5,1814.8 1918.5,1809.2 1921.4,1809.2 1921.4,1813.2 1924.1,1813.2 1924.1,1810.6 1926.9,1810.6 1926.9,1810.0 1929.0,1810.0 1929.0,1811.3 1930.9,1811.3 1930.9,1810.4 1932.7,1810.4 1932.7,1807.4 1934.6,1807.4 1934.6,1808.0 1937.3,1808.0 1937.3,1798.4 1941.0,1798.4 1941.0,1806.9 1944.4,1806.9 1944.4,1803.2 1946.8,1803.2 1946.8,1804.9 1949.3,1804.9 1949.3,1803.6 1952.0,1803.6 1952.0,1804.2 1954.9,1804.2 1954.9,1800.5 1957.6,1800.5 1957.6,1799.0 1959.8,1799.0 1959.8,1801.2 1962.4,1801.2 1962.4,1801.1 1965.7,1801.1 1965.7,1803.0 1968.9,1803.0 1968.9,1805.3 1971.1,1805.3 1971.1,1803.8 1973.8,1803.8 1973.8,1802.8 1976.4,1802.8 1976.4,1805.8 1978.2,1805.8 1978.2,1801.0 1980.8,1801.0 1980.8,1801.4 1983.9,1801.4 1983.9,1797.5 1986.8,1797.5 1986.8,1797.4 1989.6,1797.4 1989.6,1793.4 1992.7,1793.4 1992.7,1792.1 1995.7,1792.1 1995.7,1795.4 1997.9,1795.4 1997.9,1800.5 2000.0,1800.5 2000.0,1801.6 2001.9,1801.6 2001.9,1801.0 2004.6,1801.0 2004.6,1805.8 2007.5,1805.8 2007.5,1804.1 2010.3,1804.1 2010.3,1808.8 2013.2,1808.8 2013.2,1808.9 2015.8,1808.9 2015.8,1805.0 2019.1,1805.0 2019.1,1807.9 2022.2,1807.9 2022.2,1805.1 2025.6,1805.1 2025.6,1803.4 2029.1,1803.4 2029.1,1799.8 2031.6,1799.8 2031.6,1805.2 2034.1,1805.2 2034.1,1796.7 2036.8,1796.7 2036.8,1804.8 2039.0,1804.8 2039.0,1803.2 2041.8,1803.2 2041.8,1802.7 2045.1,1802.7 2045.1,1804.9 2047.9,1804.9 2047.9,1800.8 2050.8,1800.8 2050.8,1800.9 2053.4,1800.9 2053.4,1801.5 2055.4,1801.5 2055.4,1807.7 2058.1,1807.7 2058.1,1798.5 2060.7,1798.5 2060.7,1808.4 2062.8,1808.4 2062.8,1803.3 2064.9,1803.3 2064.9,1808.3 2067.0,1808.3 2067.0,1810.1 2069.4,1810.1 2069.4,1807.4 2072.5,1807.4 2072.5,1808.1 2076.2,1808.1 2076.2,1812.3 2079.8,1812.3 2079.8,1802.8 2082.6,1802.8 2082.6,1812.4 2084.6,1812.4 2084.6,1806.0 2086.7,1806.0 2086.7,1807.6 2089.6,1807.6 2089.6,1810.6 2093.1,1810.6 2093.1,1803.1 2096.0,1803.1 2096.0,1808.8 2098.5,1808.8 2098.5,1806.4 2100.8,1806.4 2100.8,1810.0 2103.2,1810.0 2103.2,1806.7 2105.8,1806.7 2105.8,1810.1 2108.7,1810.1 2108.7,1808.0 2112.6,1808.0 2112.6,1808.3 2115.9,1808.3 2115.9,1809.0 2119.0,1809.0 2119.0,1805.6 2122.5,1805.6 2122.5,1807.7 2126.2,1807.7 2126.2,1806.4 2129.0,1806.4 2129.0,1806.8 2130.9,1806.8 2130.9,1809.4 2132.7,1809.4 2132.7,1807.8 2134.6,1807.8 2134.6,1802.9 2137.4,1802.9 2137.4,1809.2 2140.2,1809.2 2140.2,1810.8 2142.0,1810.8 2142.0,1813.4 2144.5,1813.4 2144.5,1813.7 2147.9,1813.7 2147.9,1814.0 2151.4,1814.0 2151.4,1815.3 2154.4,1815.3 2154.4,1812.2 2157.6,1812.2 2157.6,1808.3 2161.1,1808.3 2161.1,1805.5 2164.3,1805.5 2164.3,1805.1 2166.8,1805.1 2166.8,1800.8 2169.6,1800.8 2169.6,1798.1 2173.3,1798.1 2173.3,1802.3 2176.7,1802.3 2176.7,1798.1 2179.7,1798.1 2179.7,1805.0 2182.0,1805.0 2182.0,1807.2 2184.6,1807.2 2184.6,1810.0 2188.1,1810.0 2188.1,1813.4 2190.8,1813.4 2190.8,1805.6 2193.2,1805.6 2193.2,1813.6 2195.5,1813.6 2195.5,1814.0 2198.0,1814.0 2198.0,1803.3 2200.9,1803.3 2200.9,1804.2 2203.1,1804.2 2203.1,1813.2 2205.6,1813.2 2205.6,1811.4 2208.6,1811.4 2208.6,1810.1 2211.3,1810.1 2211.3,1809.1 2213.7,1809.1 2213.7,1809.7 2216.5,1809.7 2216.5,1813.7 2220.2,1813.7 2220.2,1809.0 2223.2,1809.0 2223.2,1815.2 2226.5,1815.2 2226.5,1814.9 2229.9,1814.9 2229.9,1813.5 2233.1,1813.5 2233.1,1814.6 2236.7,1814.6 2236.7,1812.0 2240.4,1812.0 2240.4,1812.4 2243.8,1812.4 2243.8,1807.5 2246.9,1807.5 2246.9,1813.0 2250.3,1813.0 2250.3,1812.5 2254.1,1812.5 2254.1,1814.9 2256.9,1814.9 2256.9,1813.4 2259.8,1813.4 2259.8,1815.4 2263.1,1815.4 2263.1,1816.0 2266.4,1816.0 2266.4,1810.6 2270.3,1810.6 2270.3,1811.6 2273.6,1811.6 2273.6,1816.3 2276.8,1816.3 2276.8,1811.9 2279.7,1811.9 2279.7,1813.5 2282.0,1813.5 2282.0,1815.0 2284.6,1815.0 2284.6,1816.2 2287.1,1816.2 2287.1,1811.1 2289.4,1811.1 2289.4,1813.9 2292.1,1813.9 2292.1,1813.5 2294.8,1813.5 2294.8,1811.3 2297.4,1811.3 2297.4,1807.4 2299.8,1807.4 2299.8,1808.1 2300.9,1808.1 2300.9,1811.8 2301.2,1811.8 2301.2,1832.2 2300.9,1832.2 2300.9,1830.9 2299.8,1830.9 2299.8,1840.1 2297.4,1840.1 2297.4,1831.7 2294.8,1831.7 2294.8,1833.4 2292.1,1833.4 2292.1,1834.2 2289.4,1834.2 2289.4,1831.0 2287.1,1831.0 2287.1,1833.5 2284.6,1833.5 2284.6,1833.2 2282.0,1833.2 2282.0,1831.8 2279.7,1831.8 2279.7,1832.5 2276.8,1832.5 2276.8,1829.6 2273.6,1829.6 2273.6,1831.8 2270.3,1831.8 2270.3,1834.3 2266.4,1834.3 2266.4,1839.9 2263.1,1839.9 2263.1,1837.6 2259.8,1837.6 2259.8,1829.0 2256.9,1829.0 2256.9,1830.7 2254.1,1830.7 2254.1,1831.4 2250.3,1831.4 2250.3,1834.2 2246.9,1834.2 2246.9,1833.7 2243.8,1833.7 2243.8,1829.2 2240.4,1829.2 2240.4,1839.2 2236.7,1839.2 2236.7,1831.9 2233.1,1831.9 2233.1,1834.3 2229.9,1834.3 2229.9,1838.9 2226.5,1838.9 2226.5,1831.2 2223.2,1831.2 2223.2,1830.2 2220.2,1830.2 2220.2,1834.8 2216.5,1834.8 2216.5,1833.5 2213.7,1833.5 2213.7,1838.8 2211.3,1838.8 2211.3,1832.6 2208.6,1832.6 2208.6,1830.9 2205.6,1830.9 2205.6,1832.6 2203.1,1832.6 2203.1,1835.2 2200.9,1835.2 2200.9,1834.0 2198.0,1834.0 2198.0,1841.7 2195.5,1841.7 2195.5,1835.1 2193.2,1835.1 2193.2,1833.1 2190.8,1833.1 2190.8,1835.4 2188.1,1835.4 2188.1,1831.4 2184.6,1831.4 2184.6,1835.4 2182.0,1835.4 2182.0,1829.5 2179.7,1829.5 2179.7,1831.8 2176.7,1831.8 2176.7,1830.9 2173.3,1830.9 2173.3,1833.6 2169.6,1833.6 2169.6,1830.3 2166.8,1830.3 2166.8,1827.8 2164.3,1827.8 2164.3,1831.7 2161.1,1831.7 2161.1,1834.1 2157.6,1834.1 2157.6,1834.6 2154.4,1834.6 2154.4,1837.5 2151.4,1837.5 2151.4,1834.4 2147.9,1834.4 2147.9,1842.2 2144.5,1842.2 2144.5,1837.4 2142.0,1837.4 2142.0,1835.6 2140.2,1835.6 2140.2,1840.4 2137.4,1840.4 2137.4,1836.2 2134.6,1836.2 2134.6,1836.8 2132.7,1836.8 2132.7,1833.0 2130.9,1833.0 2130.9,1837.7 2129.0,1837.7 2129.0,1837.3 2126.2,1837.3 2126.2,1832.4 2122.5,1832.4 2122.5,1832.2 2119.0,1832.2 2119.0,1834.3 2115.9,1834.3 2115.9,1830.3 2112.6,1830.3 2112.6,1838.6 2108.7,1838.6 2108.7,1834.0 2105.8,1834.0 2105.8,1835.5 2103.2,1835.5 2103.2,1832.0 2100.8,1832.0 2100.8,1834.8 2098.5,1834.8 2098.5,1842.0 2096.0,1842.0 2096.0,1831.8 2093.1,1831.8 2093.1,1836.2 2089.6,1836.2 2089.6,1834.7 2086.7,1834.7 2086.7,1835.7 2084.6,1835.7 2084.6,1838.4 2082.6,1838.4 2082.6,1836.1 2079.8,1836.1 2079.8,1841.8 2076.2,1841.8 2076.2,1839.6 2072.5,1839.6 2072.5,1837.0 2069.4,1837.0 2069.4,1836.7 2067.0,1836.7 2067.0,1844.6 2064.9,1844.6 2064.9,1838.0 2062.8,1838.0 2062.8,1836.4 2060.7,1836.4 2060.7,1841.6 2058.1,1841.6 2058.1,1833.8 2055.4,1833.8 2055.4,1830.2 2053.4,1830.2 2053.4,1831.8 2050.8,1831.8 2050.8,1830.9 2047.9,1830.9 2047.9,1829.0 2045.1,1829.0 2045.1,1829.8 2041.8,1829.8 2041.8,1827.7 2039.0,1827.7 2039.0,1830.8 2036.8,1830.8 2036.8,1832.0 2034.1,1832.0 2034.1,1830.9 2031.6,1830.9 2031.6,1828.7 2029.1,1828.7 2029.1,1827.8 2025.6,1827.8 2025.6,1827.4 2022.2,1827.4 2022.2,1829.9 2019.1,1829.9 2019.1,1831.2 2015.8,1831.2 2015.8,1830.4 2013.2,1830.4 2013.2,1831.3 2010.3,1831.3 2010.3,1834.3 2007.5,1834.3 2007.5,1832.2 2004.6,1832.2 2004.6,1831.8 2001.9,1831.8 2001.9,1828.4 2000.0,1828.4 2000.0,1828.9 1997.9,1828.9 1997.9,1829.2 1995.7,1829.2 1995.7,1827.8 1992.7,1827.8 1992.7,1828.4 1989.6,1828.4 1989.6,1830.2 1986.8,1830.2 1986.8,1834.3 1983.9,1834.3 1983.9,1840.2 1980.8,1840.2 1980.8,1832.3 1978.2,1832.3 1978.2,1834.7 1976.4,1834.7 1976.4,1836.9 1973.8,1836.9 1973.8,1832.7 1971.1,1832.7 1971.1,1832.5 1968.9,1832.5 1968.9,1832.2 1965.7,1832.2 1965.7,1832.4 1962.4,1832.4 1962.4,1833.9 1959.8,1833.9 1959.8,1836.1 1957.6,1836.1 1957.6,1833.1 1954.9,1833.1 1954.9,1831.9 1952.0,1831.9 1952.0,1833.9 1949.3,1833.9 1949.3,1834.0 1946.8,1834.0 1946.8,1837.9 1944.4,1837.9 1944.4,1836.2 1941.0,1836.2 1941.0,1839.0 1937.3,1839.0 1937.3,1839.5 1934.6,1839.5 1934.6,1837.4 1932.7,1837.4 1932.7,1841.3 1930.9,1841.3 1930.9,1839.8 1929.0,1839.8 1929.0,1841.1 1926.9,1841.1 1926.9,1838.4 1924.1,1838.4 1924.1,1839.6 1921.4,1839.6 1921.4,1843.8 1918.5,1843.8 1918.5,1847.2 1914.7,1847.2 1914.7,1849.4 1911.2,1849.4 1911.2,1839.0 1908.3,1839.0 1908.3,1839.8 1905.8,1839.8 1905.8,1844.2 1903.4,1844.2 1903.4,1842.8 1901.0,1842.8 1901.0,1841.7 1898.7,1841.7 1898.7,1840.9 1895.5,1840.9 1895.5,1843.3 1892.7,1843.3 1892.7,1844.3 1890.3,1844.3 1890.3,1839.5 1887.9,1839.5 1887.9,1841.1 1885.5,1841.1 1885.5,1839.4 1882.7,1839.4 1882.7,1844.8 1880.3,1844.8 1880.3,1842.3 1877.5,1842.3 1877.5,1842.3 1874.6,1842.3 1874.6,1837.4 1871.3,1837.4 1871.3,1836.5 1868.5,1836.5 1868.5,1839.4 1866.4,1839.4 1866.4,1835.8 1863.9,1835.8 1863.9,1832.0 1861.7,1832.0 1861.7,1835.4 1859.8,1835.4 1859.8,1835.3 1857.8,1835.3 1857.8,1838.3 1855.5,1838.3 1855.5,1830.5 1853.1,1830.5 1853.1,1836.9 1851.1,1836.9 1851.1,1828.2 1849.0,1828.2 1849.0,1830.8 1847.2,1830.8 1847.2,1831.0 1845.2,1831.0 1845.2,1838.2 1842.7,1838.2 1842.7,1827.3 1839.5,1827.3 1839.5,1828.7 1836.6,1828.7 1836.6,1830.8 1834.2,1830.8 1834.2,1832.0 1831.4,1832.0 1831.4,1829.7 1828.7,1829.7 1828.7,1828.1 1825.6,1828.1 1825.6,1828.7 1822.1,1828.7 1822.1,1838.8 1819.1,1838.8 1819.1,1835.9 1816.8,1835.9 1816.8,1834.2 1813.9,1834.2 1813.9,1835.5 1810.3,1835.5 1810.3,1839.1 1806.7,1839.1 1806.7,1836.4 1803.8,1836.4 1803.8,1840.8 1801.6,1840.8 1801.6,1831.5 1799.1,1831.5 1799.1,1830.6 1796.2,1830.6 1796.2,1833.7 1793.0,1833.7 1793.0,1832.3 1790.1,1832.3 1790.1,1833.0 1787.6,1833.0 1787.6,1843.1 1785.1,1843.1 1785.1,1833.7 1782.7,1833.7 1782.7,1832.6 1780.5,1832.6 1780.5,1837.1 1777.6,1837.1 1777.6,1837.4 1774.3,1837.4 1774.3,1839.4 1771.0,1839.4 1771.0,1829.4 1768.2,1829.4 1768.2,1829.6 1766.2,1829.6 1766.2,1827.7 1763.7,1827.7 1763.7,1830.5 1761.0,1830.5 1761.0,1824.8 1758.0,1824.8 1758.0,1826.8 1754.5,1826.8 1754.5,1826.3 1751.1,1826.3 1751.1,1829.4 1748.1,1829.4 1748.1,1826.3 1745.6,1826.3 1745.6,1826.6 1742.8,1826.6 1742.8,1835.0 1740.1,1835.0 1740.1,1836.9 1737.6,1836.9 1737.6,1840.5 1734.8,1840.5 1734.8,1836.6 1732.1,1836.6 1732.1,1846.5 1729.7,1846.5 1729.7,1837.0 1727.3,1837.0 1727.3,1836.8 1724.4,1836.8 1724.4,1839.6 1721.8,1839.6 1721.8,1835.9 1720.0,1835.9 1720.0,1833.7 1718.2,1833.7 1718.2,1836.1 1715.4,1836.1 1715.4,1837.0 1712.6,1837.0 1712.6,1835.5 1710.1,1835.5 1710.1,1837.5 1706.9,1837.5 1706.9,1840.3 1703.6,1840.3 1703.6,1837.0 1701.1,1837.0 1701.1,1836.1 1699.0,1836.1 1699.0,1838.0 1696.8,1838.0 1696.8,1836.0 1694.7,1836.0 1694.7,1836.8 1692.7,1836.8 1692.7,1834.1 1690.6,1834.1 1690.6,1837.5 1687.5,1837.5 1687.5,1833.9 1684.2,1833.9 1684.2,1834.8 1681.5,1834.8 1681.5,1836.4 1679.2,1836.4 1679.2,1844.0 1676.5,1844.0 1676.5,1836.6 1673.8,1836.6 1673.8,1838.3 1671.7,1838.3 1671.7,1835.4 1669.5,1835.4 1669.5,1840.5 1666.5,1840.5 1666.5,1835.8 1663.3,1835.8 1663.3,1835.8 1660.5,1835.8 1660.5,1837.2 1658.1,1837.2 1658.1,1847.1 1656.2,1847.1 1656.2,1841.1 1654.4,1841.1 1654.4,1841.8 1652.3,1841.8 1652.3,1837.6 1649.6,1837.6 1649.6,1838.4 1646.7,1838.4 1646.7,1841.9 1643.7,1841.9 1643.7,1839.4 1640.5,1839.4 1640.5,1840.7 1637.5,1840.7 1637.5,1848.6 1634.5,1848.6 1634.5,1837.1 1631.4,1837.1 1631.4,1841.2 1628.6,1841.2 1628.6,1841.8 1626.1,1841.8 1626.1,1840.6 1622.9,1840.6 1622.9,1838.8 1619.9,1838.8 1619.9,1836.6 1617.3,1836.6 1617.3,1834.7 1614.1,1834.7 1614.1,1835.4 1611.4,1835.4 1611.4,1834.0 1608.5,1834.0 1608.5,1832.5 1605.3,1832.5 1605.3,1834.7 1602.3,1834.7 1602.3,1834.6 1598.8,1834.6 1598.8,1829.5 1596.0,1829.5 1596.0,1825.9 1593.1,1825.9 1593.1,1825.4 1590.2,1825.4 1590.2,1826.6 1588.0,1826.6 1588.0,1828.7 1585.1,1828.7 1585.1,1823.7 1581.9,1823.7 1581.9,1824.9 1579.4,1824.9 1579.4,1825.5 1577.1,1825.5 1577.1,1825.5 1574.5,1825.5 1574.5,1829.1 1571.8,1829.1 1571.8,1826.0 1569.3,1826.0 1569.3,1826.2 1566.8,1826.2 1566.8,1825.9 1563.9,1825.9 1563.9,1827.9 1561.1,1827.9 1561.1,1827.4 1558.8,1827.4 1558.8,1831.5 1556.7,1831.5 1556.7,1829.5 1554.1,1829.5 1554.1,1824.8 1550.7,1824.8 1550.7,1831.8 1547.7,1831.8 1547.7,1828.7 1545.1,1828.7 1545.1,1824.0 1542.5,1824.0 1542.5,1825.0 1540.3,1825.0 1540.3,1823.4 1538.1,1823.4 1538.1,1828.4 1535.4,1828.4 1535.4,1830.4 1532.1,1830.4 1532.1,1837.7 1528.9,1837.7 1528.9,1832.2 1526.8,1832.2 1526.8,1833.1 1524.9,1833.1 1524.9,1832.3 1522.4,1832.3 1522.4,1832.9 1519.1,1832.9 1519.1,1833.3 1515.6,1833.3 1515.6,1834.8 1512.4,1834.8 1512.4,1839.8 1509.4,1839.8 1509.4,1841.8 1506.4,1841.8 1506.4,1841.7 1503.9,1841.7 1503.9,1834.7 1501.7,1834.7 1501.7,1830.1 1498.4,1830.1 1498.4,1827.6 1494.8,1827.6 1494.8,1823.2 1492.0,1823.2 1492.0,1827.7 1489.0,1827.7 1489.0,1819.9 1485.5,1819.9 1485.5,1820.9 1482.5,1820.9 1482.5,1821.0 1479.6,1821.0 1479.6,1819.4 1476.8,1819.4 1476.8,1818.8 1474.3,1818.8 1474.3,1819.9 1471.8,1819.9 1471.8,1823.0 1469.5,1823.0 1469.5,1824.7 1467.0,1824.7 1467.0,1824.2 1463.9,1824.2 1463.9,1826.3 1460.7,1826.3 1460.7,1826.2 1457.7,1826.2 1457.7,1826.8 1454.7,1826.8 1454.7,1827.0 1452.0,1827.0 1452.0,1829.2 1449.3,1829.2 1449.3,1827.8 1446.2,1827.8 1446.2,1833.0 1443.0,1833.0 1443.0,1831.0 1439.9,1831.0 1439.9,1830.2 1436.4,1830.2 1436.4,1831.8 1433.3,1831.8 1433.3,1829.2 1430.6,1829.2 1430.6,1831.0 1427.3,1831.0 1427.3,1831.9 1423.6,1831.9 1423.6,1831.2 1420.4,1831.2 1420.4,1826.6 1417.5,1826.6 1417.5,1834.8 1414.6,1834.8 1414.6,1828.8 1412.2,1828.8 1412.2,1831.8 1409.5,1831.8 1409.5,1831.9 1406.1,1831.9 1406.1,1835.4 1402.5,1835.4 1402.5,1836.8 1399.3,1836.8 1399.3,1838.6 1396.5,1838.6 1396.5,1842.2 1394.0,1842.2 1394.0,1844.2 1391.5,1844.2 1391.5,1840.5 1388.7,1840.5 1388.7,1845.6 1385.5,1845.6 1385.5,1843.9 1382.2,1843.9 1382.2,1843.8 1379.1,1843.8 1379.1,1848.9 1376.0,1848.9 1376.0,1844.4 1373.1,1844.4 1373.1,1843.4 1370.7,1843.4 1370.7,1846.2 1367.8,1846.2 1367.8,1845.2 1364.2,1845.2 1364.2,1844.4 1360.9,1844.4 1360.9,1841.4 1357.9,1841.4 1357.9,1850.5 1355.6,1850.5 1355.6,1846.3 1353.0,1846.3 1353.0,1840.0 1349.3,1840.0 1349.3,1840.6 1345.9,1840.6 1345.9,1848.6 1342.9,1848.6 1342.9,1841.8 1340.1,1841.8 1340.1,1842.1 1337.8,1842.1 1337.8,1838.5 1335.5,1838.5 1335.5,1839.8 1332.3,1839.8 1332.3,1839.0 1329.2,1839.0 1329.2,1840.2 1325.9,1840.2 1325.9,1839.4 1322.4,1839.4 1322.4,1835.0 1319.2,1835.0 1319.2,1833.3 1316.7,1833.3 1316.7,1840.3 1314.0,1840.3 1314.0,1837.5 1311.2,1837.5 1311.2,1835.5 1308.6,1835.5 1308.6,1834.4 1306.2,1834.4 1306.2,1835.4 1304.4,1835.4 1304.4,1833.9 1302.0,1833.9 1302.0,1833.3 1298.7,1833.3 1298.7,1831.5 1295.1,1831.5 1295.1,1828.6 1291.9,1828.6 1291.9,1832.1 1289.4,1832.1 1289.4,1830.7 1286.5,1830.7 1286.5,1829.2 1283.8,1829.2 1283.8,1825.7 1281.8,1825.7 1281.8,1829.6 1280.0,1829.6 1280.0,1833.0 1278.1,1833.0 1278.1,1830.9 1276.0,1830.9 1276.0,1834.1 1273.9,1834.1 1273.9,1826.7 1271.8,1826.7 1271.8,1830.3 1268.9,1830.3 1268.9,1827.1 1265.4,1827.1 1265.4,1827.1 1262.0,1827.1 1262.0,1829.2 1258.5,1829.2 1258.5,1827.4 1255.1,1827.4 1255.1,1829.3 1251.9,1829.3 1251.9,1828.0 1248.5,1828.0 1248.5,1833.4 1245.1,1833.4 1245.1,1837.8 1242.4,1837.8 1242.4,1838.6 1239.7,1838.6 1239.7,1840.2 1236.5,1840.2 1236.5,1835.9 1233.8,1835.9 1233.8,1830.5 1231.6,1830.5 1231.6,1828.9 1229.3,1828.9 1229.3,1828.9 1227.1,1828.9 1227.1,1827.9 1225.2,1827.9 1225.2,1827.3 1222.8,1827.3 1222.8,1824.8 1220.2,1824.8 1220.2,1823.1 1217.8,1823.1 1217.8,1831.6 1215.2,1831.6 1215.2,1823.7 1212.3,1823.7 1212.3,1829.0 1209.2,1829.0 1209.2,1826.9 1205.7,1826.9 1205.7,1828.1 1202.1,1828.1 1202.1,1834.4 1199.2,1834.4 1199.2,1834.5 1196.2,1834.5 1196.2,1835.3 1193.0,1835.3 1193.0,1831.5 1190.3,1831.5 1190.3,1835.0 1187.3,1835.0 1187.3,1836.9 1183.7,1836.9 1183.7,1838.8 1179.9,1838.8 1179.9,1842.2 1176.1,1842.2 1176.1,1839.8 1172.9,1839.8 1172.9,1834.7 1170.3,1834.7 1170.3,1834.7 1167.1,1834.7 1167.1,1835.1 1164.4,1835.1 1164.4,1841.7 1161.8,1841.7 1161.8,1832.5 1159.2,1832.5 1159.2,1841.3 1156.4,1841.3 1156.4,1836.1 1153.5,1836.1 1153.5,1841.3 1151.3,1841.3 1151.3,1839.8 1149.1,1839.8 1149.1,1840.6 1146.2,1840.6 1146.2,1844.2 1142.7,1844.2 1142.7,1842.2 1139.5,1842.2 1139.5,1841.4 1136.3,1841.4 1136.3,1836.4 1132.8,1836.4 1132.8,1839.9 1129.9,1839.9 1129.9,1834.4 1127.2,1834.4 1127.2,1832.3 1124.3,1832.3 1124.3,1833.5 1121.4,1833.5 1121.4,1836.0 1117.9,1836.0 1117.9,1837.6 1115.1,1837.6 1115.1,1837.6 1112.9,1837.6 1112.9,1832.0 1109.9,1832.0 1109.9,1832.1 1106.8,1832.1 1106.8,1831.3 1104.3,1831.3 1104.3,1830.7 1101.9,1830.7 1101.9,1832.5 1099.3,1832.5 1099.3,1841.1 1096.9,1841.1 1096.9,1842.9 1094.3,1842.9 1094.3,1841.8 1090.9,1841.8 1090.9,1838.7 1087.2,1838.7 1087.2,1839.4 1084.5,1839.4 1084.5,1837.8 1082.1,1837.8 1082.1,1841.2 1079.4,1841.2 1079.4,1844.4 1076.5,1844.4 1076.5,1839.1 1073.4,1839.1 1073.4,1840.8 1070.7,1840.8 1070.7,1837.3 1068.5,1837.3 1068.5,1839.4 1065.4,1839.4 1065.4,1837.4 1062.5,1837.4 1062.5,1838.3 1059.9,1838.3 1059.9,1840.7 1057.3,1840.7 1057.3,1837.4 1054.4,1837.4 1054.4,1837.9 1051.2,1837.9 1051.2,1846.3 1048.4,1846.3 1048.4,1837.5 1045.5,1837.5 1045.5,1839.8 1042.3,1839.8 1042.3,1839.4 1039.2,1839.4 1039.2,1839.4 1035.7,1839.4 1035.7,1835.0 1032.8,1835.0 1032.8,1834.1 1030.8,1834.1 1030.8,1836.5 1028.4,1836.5 1028.4,1833.5 1025.9,1833.5 1025.9,1836.6 1023.3,1836.6 1023.3,1833.9 1020.5,1833.9 1020.5,1832.0 1017.6,1832.0 1017.6,1829.0 1014.1,1829.0 1014.1,1828.2 1011.5,1828.2 1011.5,1834.2 1008.8,1834.2 1008.8,1828.1 1006.3,1828.1 1006.3,1840.1 1003.9,1840.1 1003.9,1835.3 1001.0,1835.3 1001.0,1833.5 998.3,1833.5 998.3,1835.2 995.9,1835.2 995.9,1835.1 993.5,1835.1 993.5,1832.3 990.6,1832.3 990.6,1833.6 988.2,1833.6 988.2,1831.1 985.7,1831.1 985.7,1832.9 983.1,1832.9 983.1,1834.2 980.3,1834.2 980.3,1832.8 977.4,1832.8 977.4,1829.2 974.4,1829.2 974.4,1832.0 971.4,1832.0 971.4,1831.6 968.7,1831.6 968.7,1827.7 965.5,1827.7 965.5,1829.0 962.0,1829.0 962.0,1836.6 959.3,1836.6 959.3,1827.8 957.3,1827.8 957.3,1833.1 954.4,1833.1 954.4,1827.4 950.6,1827.4 950.6,1835.3 946.9,1835.3 946.9,1830.6 944.0,1830.6 944.0,1837.2 941.7,1837.2 941.7,1830.6 939.0,1830.6 939.0,1830.4 936.4,1830.4 936.4,1830.3 934.1,1830.3 934.1,1831.9 931.6,1831.9 931.6,1836.8 929.2,1836.8 929.2,1830.1 926.2,1830.1 926.2,1828.3 922.9,1828.3 922.9,1827.7 920.4,1827.7 920.4,1829.0 917.6,1829.0 917.6,1832.7 914.0,1832.7 914.0,1826.3 910.4,1826.3 910.4,1829.8 907.2,1829.8 907.2,1835.3 903.9,1835.3 903.9,1829.3 900.6,1829.3 900.6,1824.9 897.3,1824.9 897.3,1822.7 894.1,1822.7 894.1,1822.3 891.8,1822.3 891.8,1826.3 888.9,1826.3 888.9,1829.1 885.9,1829.1 885.9,1829.9 883.6,1829.9 883.6,1829.6 881.6,1829.6 881.6,1830.0 878.9,1830.0 878.9,1829.1 876.3,1829.1 876.3,1830.6 874.1,1830.6 874.1,1829.9 871.9,1829.9 871.9,1828.8 869.4,1828.8 869.4,1831.5 866.7,1831.5 866.7,1837.2 864.4,1837.2 864.4,1831.0 861.6,1831.0 861.6,1829.1 858.8,1829.1 858.8,1831.1 856.0,1831.1 856.0,1832.5 853.0,1832.5 853.0,1832.1 850.0,1832.1 850.0,1832.4 847.1,1832.4 847.1,1830.2 844.9,1830.2 844.9,1828.6 843.1,1828.6 843.1,1833.0 840.3,1833.0 840.3,1831.0 836.5,1831.0 836.5,1830.0 833.8,1830.0 833.8,1827.5 831.2,1827.5 831.2,1828.6 827.7,1828.6 827.7,1833.6 824.5,1833.6 824.5,1830.1 822.1,1830.1 822.1,1828.7 820.3,1828.7 820.3,1827.1 818.1,1827.1 818.1,1824.7 815.7,1824.7 815.7,1827.1 813.9,1827.1 813.9,1825.0 811.3,1825.0 811.3,1830.5 808.6,1830.5 808.6,1825.2 806.0,1825.2 806.0,1828.8 803.1,1828.8 803.1,1829.0 800.7,1829.0 800.7,1826.5 798.5,1826.5 798.5,1828.9 795.9,1828.9 795.9,1827.0 792.9,1827.0 792.9,1825.0 790.4,1825.0 790.4,1826.5 787.4,1826.5 787.4,1827.1 784.2,1827.1 784.2,1830.2 780.9,1830.2 780.9,1827.6 777.3,1827.6 777.3,1828.9 773.6,1828.9 773.6,1829.3 770.1,1829.3 770.1,1827.7 767.3,1827.7 767.3,1828.7 764.0,1828.7 764.0,1829.1 761.1,1829.1 761.1,1830.0 758.4,1830.0 758.4,1832.9 755.3,1832.9 755.3,1838.3 752.4,1838.3 752.4,1838.2 749.1,1838.2 749.1,1837.0 745.9,1837.0 745.9,1839.9 743.2,1839.9 743.2,1838.6 740.3,1838.6 740.3,1844.5 736.6,1844.5 736.6,1838.2 733.3,1838.2 733.3,1840.1 730.0,1840.1 730.0,1847.0 726.6,1847.0 726.6,1841.7 723.8,1841.7 723.8,1840.1 721.2,1840.1 721.2,1840.0 718.6,1840.0 718.6,1839.6 716.2,1839.6 716.2,1839.7 713.9,1839.7 713.9,1842.3 711.5,1842.3 711.5,1837.4 708.4,1837.4 708.4,1841.0 705.0,1841.0 705.0,1842.1 702.2,1842.1 702.2,1838.2 699.2,1838.2 699.2,1835.3 696.4,1835.3 696.4,1840.8 693.4,1840.8 693.4,1836.5 690.7,1836.5 690.7,1836.4 687.8,1836.4 687.8,1835.9 684.6,1835.9 684.6,1841.9 681.4,1841.9 681.4,1832.7 678.5,1832.7 678.5,1835.1 675.8,1835.1 675.8,1830.6 672.8,1830.6 672.8,1832.8 670.4,1832.8 670.4,1828.5 668.1,1828.5 668.1,1829.8 665.4,1829.8 665.4,1824.0 663.1,1824.0 663.1,1833.2 660.7,1833.2 660.7,1824.5 658.2,1824.5 658.2,1822.9 655.3,1822.9 655.3,1823.0 651.9,1823.0 651.9,1826.9 649.4,1826.9 649.4,1830.4 647.1,1830.4 647.1,1824.1 644.6,1824.1 644.6,1824.0 641.6,1824.0 641.6,1822.5 638.2,1822.5 638.2,1818.8 635.6,1818.8 635.6,1819.8 633.2,1819.8 633.2,1819.6 630.5,1819.6 630.5,1817.1 628.1,1817.1 628.1,1813.6 625.8,1813.6 625.8,1818.8 623.6,1818.8 623.6,1817.7 621.3,1817.7 621.3,1820.3 618.3,1820.3 618.3,1825.3 614.6,1825.3 614.6,1823.9 611.7,1823.9 611.7,1831.9 609.0,1831.9 609.0,1837.5 605.5,1837.5 605.5,1831.1 602.8,1831.1 602.8,1839.5 600.1,1839.5 600.1,1836.2 597.1,1836.2 597.1,1834.6 594.4,1834.6 594.4,1835.8 591.6,1835.8 591.6,1843.7 588.6,1843.7 588.6,1834.9 585.9,1834.9 585.9,1840.8 583.7,1840.8 583.7,1839.0 581.1,1839.0 581.1,1836.6 578.6,1836.6 578.6,1842.4 576.6,1842.4 576.6,1844.3 574.5,1844.3 574.5,1834.6 572.6,1834.6 572.6,1838.1 569.8,1838.1 569.8,1833.4 567.0,1833.4 567.0,1837.4 564.2,1837.4 564.2,1832.1 561.0,1832.1 561.0,1833.4 558.2,1833.4 558.2,1832.8 555.7,1832.8 555.7,1834.0 553.1,1834.0 553.1,1834.3 550.5,1834.3 550.5,1837.7 548.1,1837.7 548.1,1838.5 545.8,1838.5 545.8,1840.3 543.3,1840.3 543.3,1840.8 540.3,1840.8 540.3,1841.3 537.6,1841.3 537.6,1847.3 535.3,1847.3 535.3,1840.0 533.2,1840.0 533.2,1843.0 531.0,1843.0 531.0,1839.5 528.2,1839.5 528.2,1840.9 524.6,1840.9 524.6,1839.4 521.2,1839.4 521.2,1839.1 518.4,1839.1 518.4,1839.2 515.9,1839.2 515.9,1837.1 512.9,1837.1 512.9,1841.0 510.1,1841.0 510.1,1840.8 508.2,1840.8 508.2,1837.0 506.1,1837.0 506.1,1840.9 503.6,1840.9 503.6,1840.4 500.9,1840.4 500.9,1838.8 497.9,1838.8 497.9,1842.3 494.5,1842.3 494.5,1842.0 491.5,1842.0 491.5,1843.3 488.9,1843.3 488.9,1844.1 485.9,1844.1 485.9,1843.3 482.4,1843.3 482.4,1847.0 479.3,1847.0 479.3,1846.4 476.3,1846.4 476.3,1843.5 473.7,1843.5 473.7,1841.2 471.6,1841.2 471.6,1844.0 469.4,1844.0 469.4,1842.6 466.6,1842.6 466.6,1844.9 463.2,1844.9 463.2,1850.3 459.7,1850.3 459.7,1839.5 456.0,1839.5 456.0,1838.8 452.2,1838.8 452.2,1838.8 448.5,1838.8 448.5,1841.3 445.3,1841.3 445.3,1841.8 442.5,1841.8 442.5,1845.1 439.3,1845.1 439.3,1839.4 435.7,1839.4 435.7,1843.8 432.2,1843.8 432.2,1839.7 429.2,1839.7 429.2,1841.3 426.9,1841.3 426.9,1841.5 425.0,1841.5 425.0,1842.8 423.1,1842.8 423.1,1840.1 420.8,1840.1 420.8,1843.0 417.7,1843.0 417.7,1838.3 414.5,1838.3 414.5,1841.8 411.7,1841.8 411.7,1838.7 408.7,1838.7 408.7,1837.0 406.1,1837.0 406.1,1842.0 403.8,1842.0 403.8,1839.3 400.7,1839.3 400.7,1840.5 397.7,1840.5 397.7,1839.8 395.1,1839.8 395.1,1837.7 392.6,1837.7 392.6,1840.6 389.9,1840.6 389.9,1840.1 387.0,1840.1 387.0,1840.3 384.5,1840.3 384.5,1841.1 382.0,1841.1 382.0,1840.1 379.8,1840.1 379.8,1842.7 377.1,1842.7 377.1,1843.8 374.0,1843.8 374.0,1842.2 371.1,1842.2 371.1,1841.5 367.6,1841.5 367.6,1839.8 364.7,1839.8 364.7,1846.6 362.3,1846.6 362.3,1845.8 358.9,1845.8 358.9,1845.4 356.0,1845.4 356.0,1841.2 353.4,1841.2 353.4,1845.2 350.1,1845.2 350.1,1840.8 347.6,1840.8 347.6,1848.1 345.5,1848.1 345.5,1845.6 343.0,1845.6 343.0,1841.4 340.6,1841.4 340.6,1845.2 338.5,1845.2 338.5,1840.9 336.0,1840.9 336.0,1841.8 332.5,1841.8 332.5,1846.7 329.6,1846.7 329.6,1847.0 326.6,1847.0 326.6,1838.4 322.8,1838.4 322.8,1839.6 319.4,1839.6 319.4,1839.6 316.6,1839.6 316.6,1837.5 313.8,1837.5 313.8,1843.4 310.3,1843.4 310.3,1844.8 307.2,1844.8 307.2,1845.1 304.5,1845.1 304.5,1849.4 301.2,1849.4 301.2,1849.2 297.4,1849.2 297.4,1853.5 294.0,1853.5 294.0,1854.1 291.5,1854.1 291.5,1859.8 289.4,1859.8 289.4,1861.0 287.0,1861.0 287.0,1861.3 284.2,1861.3 284.2,1861.6 281.0,1861.6 281.0,1860.3 277.7,1860.3 277.7,1864.5 275.9,1864.5"/>
<polyline fill="none" stroke="#a5a5a5" stroke-width="3.00" points="273.6,1890.4 274.6,1816.0 277.2,1816.0"/>
<polygon fill="#a5a5a5" stroke="#a5a5a5" stroke-width="0.60" stroke-linejoin="round" points="276.2,1802.1 277.7,1802.1 277.7,1739.0 280.4,1739.0 280.4,1725.8 283.0,1725.8 283.0,1701.5 286.3,1701.5 286.3,1664.8 289.1,1664.8 289.1,1647.2 292.1,1647.2 292.1,1648.2 295.3,1648.2 295.3,1641.2 297.7,1641.2 297.7,1631.2 300.2,1631.2 300.2,1604.6 303.4,1604.6 303.4,1595.7 306.9,1595.7 306.9,1607.1 310.0,1607.1 310.0,1600.6 312.6,1600.6 312.6,1583.3 315.5,1583.3 315.5,1587.1 319.0,1587.1 319.0,1624.8 322.1,1624.8 322.1,1639.9 324.5,1639.9 324.5,1631.8 327.0,1631.8 327.0,1639.1 329.4,1639.1 329.4,1643.1 332.1,1643.1 332.1,1637.6 335.4,1637.6 335.4,1625.8 338.4,1625.8 338.4,1614.6 340.9,1614.6 340.9,1615.5 343.1,1615.5 343.1,1621.8 345.7,1621.8 345.7,1608.5 349.2,1608.5 349.2,1591.6 352.4,1591.6 352.4,1576.2 354.9,1576.2 354.9,1559.4 357.4,1559.4 357.4,1568.8 359.9,1568.8 359.9,1571.5 363.0,1571.5 363.0,1610.6 366.3,1610.6 366.3,1609.5 369.3,1609.5 369.3,1605.9 371.9,1605.9 371.9,1596.7 374.0,1596.7 374.0,1590.8 376.3,1590.8 376.3,1605.1 378.5,1605.1 378.5,1635.0 381.2,1635.0 381.2,1654.8 384.7,1654.8 384.7,1657.1 387.2,1657.1 387.2,1660.7 390.0,1660.7 390.0,1674.3 393.3,1674.3 393.3,1681.2 396.4,1681.2 396.4,1707.6 399.2,1707.6 399.2,1720.6 401.7,1720.6 401.7,1728.2 404.6,1728.2 404.6,1741.4 407.9,1741.4 407.9,1743.9 410.9,1743.9 410.9,1725.3 413.2,1725.3 413.2,1703.6 415.9,1703.6 415.9,1676.2 418.9,1676.2 418.9,1671.5 421.4,1671.5 421.4,1662.4 423.5,1662.4 423.5,1667.1 425.7,1667.1 425.7,1667.2 428.4,1667.2 428.4,1642.6 430.9,1642.6 430.9,1624.0 433.3,1624.0 433.3,1609.6 436.3,1609.6 436.3,1613.2 439.6,1613.2 439.6,1616.9 442.7,1616.9 442.7,1593.1 445.9,1593.1 445.9,1580.2 448.6,1580.2 448.6,1566.7 451.3,1566.7 451.3,1578.3 453.7,1578.3 453.7,1575.6 456.3,1575.6 456.3,1570.0 459.7,1570.0 459.7,1564.5 463.2,1564.5 463.2,1578.7 466.2,1578.7 466.2,1582.1 469.2,1582.1 469.2,1567.5 472.3,1567.5 472.3,1575.6 474.6,1575.6 474.6,1581.7 477.2,1581.7 477.2,1578.8 480.1,1578.8 480.1,1588.0 482.9,1588.0 482.9,1606.2 485.6,1606.2 485.6,1581.4 487.9,1581.4 487.9,1573.2 490.6,1573.2 490.6,1566.2 493.4,1566.2 493.4,1562.7 496.5,1562.7 496.5,1571.2 499.8,1571.2 499.8,1596.8 502.5,1596.8 502.5,1605.7 505.4,1605.7 505.4,1635.6 508.9,1635.6 508.9,1627.1 511.8,1627.1 511.8,1623.4 514.4,1623.4 514.4,1607.5 517.0,1607.5 517.0,1588.3 519.2,1588.3 519.2,1580.2 521.5,1580.2 521.5,1586.0 524.3,1586.0 524.3,1596.7 527.5,1596.7 527.5,1651.2 530.7,1651.2 530.7,1692.9 533.9,1692.9 533.9,1713.7 537.3,1713.7 537.3,1734.0 540.7,1734.0 540.7,1749.0 543.0,1749.0 543.0,1752.9 545.2,1752.9 545.2,1752.8 547.9,1752.8 547.9,1744.8 550.5,1744.8 550.5,1734.5 552.8,1734.5 552.8,1716.3 555.4,1716.3 555.4,1693.8 558.8,1693.8 558.8,1685.7 561.6,1685.7 561.6,1679.2 564.4,1679.2 564.4,1697.4 567.4,1697.4 567.4,1730.0 570.3,1730.0 570.3,1740.0 573.5,1740.0 573.5,1730.3 576.6,1730.3 576.6,1733.4 579.4,1733.4 579.4,1721.1 582.7,1721.1 582.7,1692.6 585.8,1692.6 585.8,1685.2 588.2,1685.2 588.2,1677.5 590.9,1677.5 590.9,1677.9 594.2,1677.9 594.2,1684.0 597.3,1684.0 597.3,1676.2 599.7,1676.2 599.7,1667.0 602.3,1667.0 602.3,1625.8 604.9,1625.8 604.9,1602.6 607.4,1602.6 607.4,1572.0 610.5,1572.0 610.5,1559.5 613.3,1559.5 613.3,1565.2 615.3,1565.2 615.3,1572.2 617.7,1572.2 617.7,1573.4 619.8,1573.4 619.8,1574.0 621.7,1574.0 621.7,1572.3 624.4,1572.3 624.4,1556.6 627.2,1556.6 627.2,1521.5 629.6,1521.5 629.6,1484.2 631.7,1484.2 631.7,1466.4 633.5,1466.4 633.5,1459.6 635.7,1459.6 635.7,1447.6 638.3,1447.6 638.3,1480.9 641.3,1480.9 641.3,1496.4 644.9,1496.4 644.9,1507.9 648.3,1507.9 648.3,1517.3 651.4,1517.3 651.4,1556.3 654.7,1556.3 654.7,1561.7 657.8,1561.7 657.8,1558.6 660.4,1558.6 660.4,1566.8 663.2,1566.8 663.2,1573.7 666.3,1573.7 666.3,1575.7 669.0,1575.7 669.0,1590.6 671.4,1590.6 671.4,1603.6 673.4,1603.6 673.4,1608.0 676.2,1608.0 676.2,1602.3 678.9,1602.3 678.9,1570.3 681.9,1570.3 681.9,1573.7 684.9,1573.7 684.9,1566.2 687.8,1566.2 687.8,1543.9 691.4,1543.9 691.4,1551.7 694.5,1551.7 694.5,1553.0 696.8,1553.0 696.8,1561.3 699.2,1561.3 699.2,1566.3 702.1,1566.3 702.1,1586.4 705.1,1586.4 705.1,1619.4 708.2,1619.4 708.2,1628.7 711.0,1628.7 711.0,1656.1 713.5,1656.1 713.5,1665.8 715.9,1665.8 715.9,1653.1 718.2,1653.1 718.2,1635.4 720.5,1635.4 720.5,1638.2 722.7,1638.2 722.7,1669.2 725.5,1669.2 725.5,1686.0 728.7,1686.0 728.7,1679.6 731.5,1679.6 731.5,1681.2 734.6,1681.2 734.6,1680.8 737.4,1680.8 737.4,1683.4 740.4,1683.4 740.4,1695.3 743.2,1695.3 743.2,1692.6 745.0,1692.6 745.0,1696.3 747.0,1696.3 747.0,1716.9 750.0,1716.9 750.0,1745.7 753.6,1745.7 753.6,1726.5 756.4,1726.5 756.4,1722.8 758.8,1722.8 758.8,1743.0 761.4,1743.0 761.4,1733.2 764.7,1733.2 764.7,1712.2 768.4,1712.2 768.4,1643.8 771.5,1643.8 771.5,1596.3 774.5,1596.3 774.5,1562.5 777.2,1562.5 777.2,1579.4 779.6,1579.4 779.6,1589.3 781.9,1589.3 781.9,1583.3 784.1,1583.3 784.1,1587.5 786.6,1587.5 786.6,1572.7 788.8,1572.7 788.8,1555.5 791.4,1555.5 791.4,1526.8 794.3,1526.8 794.3,1516.2 796.6,1516.2 796.6,1510.3 798.7,1510.3 798.7,1506.4 801.3,1506.4 801.3,1499.2 803.9,1499.2 803.9,1504.2 806.4,1504.2 806.4,1504.6 809.0,1504.6 809.0,1507.6 812.0,1507.6 812.0,1513.6 815.8,1513.6 815.8,1515.7 819.4,1515.7 819.4,1512.0 822.7,1512.0 822.7,1498.6 825.8,1498.6 825.8,1489.0 829.1,1489.0 829.1,1515.4 832.0,1515.4 832.0,1522.5 835.0,1522.5 835.0,1542.4 838.7,1542.4 838.7,1540.0 842.1,1540.0 842.1,1532.7 845.0,1532.7 845.0,1531.6 848.3,1531.6 848.3,1533.5 852.2,1533.5 852.2,1522.2 855.4,1522.2 855.4,1533.6 857.9,1533.6 857.9,1561.4 860.7,1561.4 860.7,1578.7 863.7,1578.7 863.7,1554.9 866.7,1554.9 866.7,1537.6 869.7,1537.6 869.7,1513.6 872.8,1513.6 872.8,1504.9 875.1,1504.9 875.1,1494.5 877.1,1494.5 877.1,1486.2 879.9,1486.2 879.9,1494.9 883.6,1494.9 883.6,1502.7 886.7,1502.7 886.7,1509.4 889.7,1509.4 889.7,1510.8 892.4,1510.8 892.4,1514.8 894.6,1514.8 894.6,1524.7 897.0,1524.7 897.0,1529.9 899.6,1529.9 899.6,1526.1 902.6,1526.1 902.6,1520.9 905.4,1520.9 905.4,1504.6 908.5,1504.6 908.5,1486.6 911.0,1486.6 911.0,1489.2 913.0,1489.2 913.0,1482.8 915.4,1482.8 915.4,1471.3 917.8,1471.3 917.8,1475.2 920.1,1475.2 920.1,1466.6 923.0,1466.6 923.0,1475.5 926.7,1475.5 926.7,1477.9 929.9,1477.9 929.9,1490.7 932.6,1490.7 932.6,1493.7 935.5,1493.7 935.5,1464.3 938.6,1464.3 938.6,1449.8 941.6,1449.8 941.6,1445.6 944.6,1445.6 944.6,1442.1 947.9,1442.1 947.9,1447.9 951.4,1447.9 951.4,1453.9 954.9,1453.9 954.9,1453.7 958.5,1453.7 958.5,1456.6 961.6,1456.6 961.6,1456.2 964.4,1456.2 964.4,1444.4 967.4,1444.4 967.4,1440.3 970.8,1440.3 970.8,1417.5 974.3,1417.5 974.3,1396.8 977.1,1396.8 977.1,1391.9 979.6,1391.9 979.6,1385.0 982.2,1385.0 982.2,1386.4 984.6,1386.4 984.6,1392.1 987.4,1392.1 987.4,1401.0 989.8,1401.0 989.8,1401.6 992.6,1401.6 992.6,1412.5 995.5,1412.5 995.5,1418.7 998.5,1418.7 998.5,1423.1 1002.1,1423.1 1002.1,1409.1 1004.9,1409.1 1004.9,1400.9 1007.6,1400.9 1007.6,1402.8 1010.6,1402.8 1010.6,1401.4 1013.7,1401.4 1013.7,1395.2 1016.3,1395.2 1016.3,1397.8 1019.0,1397.8 1019.0,1393.0 1022.5,1393.0 1022.5,1392.0 1025.8,1392.0 1025.8,1390.6 1028.7,1390.6 1028.7,1392.0 1031.2,1392.0 1031.2,1391.6 1033.5,1391.6 1033.5,1397.7 1035.7,1397.7 1035.7,1398.9 1038.0,1398.9 1038.0,1398.3 1040.7,1398.3 1040.7,1392.5 1043.0,1392.5 1043.0,1393.1 1045.4,1393.1 1045.4,1383.4 1048.3,1383.4 1048.3,1378.2 1050.8,1378.2 1050.8,1374.4 1053.5,1374.4 1053.5,1379.3 1056.0,1379.3 1056.0,1381.0 1058.4,1381.0 1058.4,1383.5 1060.9,1383.5 1060.9,1387.9 1063.3,1387.9 1063.3,1384.2 1066.0,1384.2 1066.0,1370.4 1068.3,1370.4 1068.3,1374.7 1070.4,1374.7 1070.4,1366.1 1072.4,1366.1 1072.4,1371.3 1074.8,1371.3 1074.8,1374.6 1077.8,1374.6 1077.8,1379.1 1081.0,1379.1 1081.0,1374.5 1083.9,1374.5 1083.9,1374.9 1086.8,1374.9 1086.8,1372.9 1090.0,1372.9 1090.0,1369.6 1092.8,1369.6 1092.8,1355.4 1095.2,1355.4 1095.2,1351.9 1097.4,1351.9 1097.4,1349.5 1099.4,1349.5 1099.4,1346.9 1101.4,1346.9 1101.4,1344.4 1104.1,1344.4 1104.1,1345.1 1107.0,1345.1 1107.0,1346.1 1109.8,1346.1 1109.8,1345.9 1113.1,1345.9 1113.1,1347.6 1116.7,1347.6 1116.7,1354.6 1120.3,1354.6 1120.3,1370.0 1123.9,1370.0 1123.9,1372.7 1126.8,1372.7 1126.8,1366.4 1129.8,1366.4 1129.8,1374.6 1132.9,1374.6 1132.9,1376.3 1135.1,1376.3 1135.1,1378.5 1137.7,1378.5 1137.7,1380.6 1140.9,1380.6 1140.9,1370.4 1144.6,1370.4 1144.6,1374.5 1147.8,1374.5 1147.8,1360.0 1151.0,1360.0 1151.0,1368.9 1153.9,1368.9 1153.9,1363.8 1156.3,1363.8 1156.3,1359.6 1159.7,1359.6 1159.7,1357.2 1162.7,1357.2 1162.7,1355.5 1165.3,1355.5 1165.3,1348.5 1167.6,1348.5 1167.6,1346.3 1170.0,1346.3 1170.0,1336.0 1172.3,1336.0 1172.3,1338.4 1174.5,1338.4 1174.5,1339.1 1177.7,1339.1 1177.7,1347.0 1180.9,1347.0 1180.9,1342.5 1183.3,1342.5 1183.3,1334.0 1185.9,1334.0 1185.9,1335.7 1189.0,1335.7 1189.0,1325.4 1192.2,1325.4 1192.2,1337.9 1195.6,1337.9 1195.6,1330.1 1198.9,1330.1 1198.9,1331.8 1201.4,1331.8 1201.4,1328.2 1203.7,1328.2 1203.7,1319.9 1206.8,1319.9 1206.8,1322.9 1209.6,1322.9 1209.6,1330.0 1212.0,1330.0 1212.0,1335.6 1215.0,1335.6 1215.0,1332.6 1218.3,1332.6 1218.3,1331.7 1221.1,1331.7 1221.1,1325.7 1224.0,1325.7 1224.0,1330.1 1227.5,1330.1 1227.5,1331.2 1230.1,1331.2 1230.1,1330.0 1232.5,1330.0 1232.5,1333.1 1234.9,1333.1 1234.9,1331.9 1236.9,1331.9 1236.9,1330.8 1239.6,1330.8 1239.6,1331.9 1242.5,1331.9 1242.5,1322.1 1245.5,1322.1 1245.5,1330.3 1248.2,1330.3 1248.2,1324.1 1250.7,1324.1 1250.7,1327.9 1253.7,1327.9 1253.7,1330.6 1256.4,1330.6 1256.4,1331.0 1258.5,1331.0 1258.5,1336.1 1260.6,1336.1 1260.6,1335.7 1263.4,1335.7 1263.4,1337.0 1266.4,1337.0 1266.4,1333.9 1268.4,1333.9 1268.4,1336.5 1271.0,1336.5 1271.0,1335.2 1273.9,1335.2 1273.9,1340.4 1276.9,1340.4 1276.9,1337.0 1279.7,1337.0 1279.7,1337.1 1281.8,1337.1 1281.8,1335.8 1284.0,1335.8 1284.0,1337.9 1287.2,1337.9 1287.2,1338.2 1290.8,1338.2 1290.8,1334.7 1294.1,1334.7 1294.1,1339.9 1297.7,1339.9 1297.7,1337.4 1301.1,1337.4 1301.1,1335.6 1304.4,1335.6 1304.4,1333.7 1307.6,1333.7 1307.6,1336.2 1310.7,1336.2 1310.7,1334.5 1313.1,1334.5 1313.1,1336.7 1315.9,1336.7 1315.9,1325.7 1318.9,1325.7 1318.9,1331.6 1322.0,1331.6 1322.0,1334.4 1325.3,1334.4 1325.3,1337.4 1327.6,1337.4 1327.6,1331.6 1329.5,1331.6 1329.5,1336.2 1332.1,1336.2 1332.1,1332.4 1335.8,1332.4 1335.8,1320.2 1339.2,1320.2 1339.2,1322.6 1342.4,1322.6 1342.4,1323.9 1346.1,1323.9 1346.1,1325.4 1349.8,1325.4 1349.8,1331.7 1353.5,1331.7 1353.5,1338.3 1357.1,1338.3 1357.1,1334.0 1360.3,1334.0 1360.3,1338.6 1362.7,1338.6 1362.7,1339.2 1364.7,1339.2 1364.7,1335.0 1367.7,1335.0 1367.7,1337.4 1370.5,1337.4 1370.5,1331.0 1373.4,1331.0 1373.4,1335.2 1376.8,1335.2 1376.8,1331.0 1379.6,1331.0 1379.6,1328.0 1382.3,1328.0 1382.3,1327.7 1385.2,1327.7 1385.2,1320.8 1387.6,1320.8 1387.6,1325.7 1390.6,1325.7 1390.6,1318.5 1393.3,1318.5 1393.3,1329.2 1396.1,1329.2 1396.1,1325.9 1399.2,1325.9 1399.2,1310.4 1401.8,1310.4 1401.8,1312.1 1404.5,1312.1 1404.5,1324.5 1407.2,1324.5 1407.2,1326.2 1409.5,1326.2 1409.5,1330.1 1411.8,1330.1 1411.8,1329.6 1414.2,1329.6 1414.2,1331.9 1417.2,1331.9 1417.2,1328.3 1420.2,1328.3 1420.2,1335.1 1422.6,1335.1 1422.6,1336.3 1424.6,1336.3 1424.6,1337.9 1426.9,1337.9 1426.9,1343.3 1429.9,1343.3 1429.9,1343.9 1433.5,1343.9 1433.5,1332.0 1436.7,1332.0 1436.7,1335.6 1439.9,1335.6 1439.9,1336.7 1443.3,1336.7 1443.3,1340.1 1446.7,1340.1 1446.7,1331.8 1449.8,1331.8 1449.8,1339.9 1452.9,1339.9 1452.9,1336.1 1455.5,1336.1 1455.5,1341.2 1458.1,1341.2 1458.1,1340.1 1461.2,1340.1 1461.2,1335.2 1464.3,1335.2 1464.3,1335.9 1467.7,1335.9 1467.7,1326.1 1471.4,1326.1 1471.4,1325.3 1474.9,1325.3 1474.9,1331.2 1478.0,1331.2 1478.0,1332.2 1480.3,1332.2 1480.3,1330.2 1482.7,1330.2 1482.7,1337.6 1486.0,1337.6 1486.0,1330.9 1489.6,1330.9 1489.6,1330.5 1493.3,1330.5 1493.3,1329.4 1496.9,1329.4 1496.9,1322.8 1500.1,1322.8 1500.1,1326.7 1503.0,1326.7 1503.0,1330.9 1506.0,1330.9 1506.0,1327.3 1508.6,1327.3 1508.6,1329.5 1510.5,1329.5 1510.5,1324.7 1513.3,1324.7 1513.3,1317.7 1516.4,1317.7 1516.4,1323.4 1519.4,1323.4 1519.4,1323.1 1522.5,1323.1 1522.5,1324.9 1525.2,1324.9 1525.2,1317.8 1527.7,1317.8 1527.7,1326.9 1530.7,1326.9 1530.7,1331.0 1533.6,1331.0 1533.6,1328.1 1535.6,1328.1 1535.6,1326.5 1538.0,1326.5 1538.0,1328.0 1540.3,1328.0 1540.3,1323.7 1542.4,1323.7 1542.4,1329.2 1545.2,1329.2 1545.2,1319.9 1548.5,1319.9 1548.5,1322.8 1551.2,1322.8 1551.2,1322.4 1553.7,1322.4 1553.7,1324.1 1556.2,1324.1 1556.2,1315.3 1558.5,1315.3 1558.5,1321.6 1561.0,1321.6 1561.0,1314.3 1563.3,1314.3 1563.3,1314.5 1566.0,1314.5 1566.0,1307.3 1568.7,1307.3 1568.7,1313.7 1571.3,1313.7 1571.3,1313.3 1573.7,1313.3 1573.7,1316.3 1576.2,1316.3 1576.2,1313.2 1579.4,1313.2 1579.4,1322.3 1582.3,1322.3 1582.3,1323.5 1584.7,1323.5 1584.7,1326.5 1587.2,1326.5 1587.2,1326.5 1589.7,1326.5 1589.7,1325.6 1592.2,1325.6 1592.2,1328.5 1594.4,1328.5 1594.4,1327.4 1597.1,1327.4 1597.1,1329.6 1600.3,1329.6 1600.3,1322.4 1603.6,1322.4 1603.6,1327.1 1606.9,1327.1 1606.9,1325.7 1609.9,1325.7 1609.9,1321.9 1613.0,1321.9 1613.0,1324.0 1615.6,1324.0 1615.6,1323.3 1618.1,1323.3 1618.1,1323.5 1620.9,1323.5 1620.9,1323.5 1623.4,1323.5 1623.4,1317.1 1625.5,1317.1 1625.5,1310.2 1628.0,1310.2 1628.0,1315.1 1631.3,1315.1 1631.3,1317.2 1634.3,1317.2 1634.3,1316.4 1636.7,1316.4 1636.7,1322.0 1639.6,1322.0 1639.6,1318.4 1642.6,1318.4 1642.6,1320.8 1645.1,1320.8 1645.1,1316.1 1647.4,1316.1 1647.4,1318.4 1650.1,1318.4 1650.1,1320.9 1653.8,1320.9 1653.8,1325.7 1657.4,1325.7 1657.4,1320.2 1660.4,1320.2 1660.4,1323.6 1662.8,1323.6 1662.8,1327.7 1665.2,1327.7 1665.2,1319.7 1668.1,1319.7 1668.1,1322.5 1671.1,1322.5 1671.1,1331.9 1674.0,1331.9 1674.0,1329.7 1677.0,1329.7 1677.0,1333.4 1679.4,1333.4 1679.4,1333.1 1681.5,1333.1 1681.5,1331.7 1683.9,1331.7 1683.9,1321.7 1686.9,1321.7 1686.9,1330.7 1690.0,1330.7 1690.0,1333.3 1693.5,1333.3 1693.5,1333.4 1696.0,1333.4 1696.0,1333.8 1698.1,1333.8 1698.1,1334.3 1700.7,1334.3 1700.7,1335.9 1703.8,1335.9 1703.8,1332.0 1706.8,1332.0 1706.8,1335.7 1709.7,1335.7 1709.7,1331.2 1713.1,1331.2 1713.1,1330.5 1717.0,1330.5 1717.0,1330.7 1720.7,1330.7 1720.7,1329.7 1724.0,1329.7 1724.0,1327.4 1727.3,1327.4 1727.3,1334.6 1730.8,1334.6 1730.8,1337.0 1734.4,1337.0 1734.4,1331.0 1737.5,1331.0 1737.5,1336.7 1740.3,1336.7 1740.3,1335.2 1743.5,1335.2 1743.5,1333.5 1746.9,1333.5 1746.9,1332.2 1750.5,1332.2 1750.5,1331.8 1753.2,1331.8 1753.2,1331.2 1755.2,1331.2 1755.2,1327.0 1758.1,1327.0 1758.1,1331.2 1761.7,1331.2 1761.7,1327.6 1765.2,1327.6 1765.2,1320.6 1768.0,1320.6 1768.0,1321.7 1771.1,1321.7 1771.1,1328.1 1774.4,1328.1 1774.4,1325.2 1777.7,1325.2 1777.7,1324.5 1781.0,1324.5 1781.0,1324.7 1783.5,1324.7 1783.5,1326.5 1786.5,1326.5 1786.5,1324.8 1789.3,1324.8 1789.3,1322.9 1791.6,1322.9 1791.6,1317.1 1794.8,1317.1 1794.8,1321.2 1797.7,1321.2 1797.7,1317.4 1800.5,1317.4 1800.5,1319.8 1804.0,1319.8 1804.0,1327.0 1806.9,1327.0 1806.9,1325.4 1809.7,1325.4 1809.7,1330.4 1812.6,1330.4 1812.6,1335.8 1815.1,1335.8 1815.1,1339.3 1817.7,1339.3 1817.7,1339.1 1820.8,1339.1 1820.8,1337.3 1823.9,1337.3 1823.9,1329.6 1826.9,1329.6 1826.9,1333.5 1829.4,1333.5 1829.4,1332.2 1832.3,1332.2 1832.3,1331.3 1835.3,1331.3 1835.3,1333.4 1838.3,1333.4 1838.3,1332.6 1841.8,1332.6 1841.8,1331.3 1844.7,1331.3 1844.7,1330.4 1847.9,1330.4 1847.9,1325.8 1851.3,1325.8 1851.3,1331.5 1854.7,1331.5 1854.7,1335.6 1858.2,1335.6 1858.2,1335.0 1861.4,1335.0 1861.4,1332.5 1863.8,1332.5 1863.8,1334.4 1866.5,1334.4 1866.5,1336.5 1869.6,1336.5 1869.6,1332.7 1872.9,1332.7 1872.9,1334.8 1875.9,1334.8 1875.9,1336.5 1878.3,1336.5 1878.3,1337.0 1880.3,1337.0 1880.3,1334.9 1882.6,1334.9 1882.6,1331.5 1885.5,1331.5 1885.5,1332.1 1888.4,1332.1 1888.4,1331.4 1890.8,1331.4 1890.8,1327.3 1893.2,1327.3 1893.2,1333.2 1895.8,1333.2 1895.8,1328.2 1898.2,1328.2 1898.2,1328.4 1900.5,1328.4 1900.5,1330.9 1903.0,1330.9 1903.0,1327.0 1905.3,1327.0 1905.3,1330.4 1907.9,1330.4 1907.9,1328.6 1910.7,1328.6 1910.7,1330.6 1913.3,1330.6 1913.3,1331.9 1916.2,1331.9 1916.2,1331.7 1919.5,1331.7 1919.5,1333.4 1922.3,1333.4 1922.3,1331.2 1924.1,1331.2 1924.1,1332.9 1927.0,1332.9 1927.0,1334.9 1930.1,1334.9 1930.1,1331.0 1932.2,1331.0 1932.2,1322.1 1934.0,1322.1 1934.0,1321.6 1936.5,1321.6 1936.5,1325.5 1939.9,1325.5 1939.9,1328.0 1943.4,1328.0 1943.4,1327.8 1946.5,1327.8 1946.5,1328.2 1948.9,1328.2 1948.9,1327.0 1951.2,1327.0 1951.2,1328.1 1954.2,1328.1 1954.2,1327.7 1957.8,1327.7 1957.8,1325.9 1961.2,1325.9 1961.2,1321.3 1963.9,1321.3 1963.9,1322.0 1966.0,1322.0 1966.0,1322.0 1968.0,1322.0 1968.0,1320.7 1970.3,1320.7 1970.3,1315.4 1973.1,1315.4 1973.1,1319.5 1976.0,1319.5 1976.0,1317.1 1978.3,1317.1 1978.3,1316.3 1980.5,1316.3 1980.5,1321.7 1983.4,1321.7 1983.4,1322.4 1986.7,1322.4 1986.7,1325.1 1989.0,1325.1 1989.0,1319.6 1991.3,1319.6 1991.3,1323.1 1994.0,1323.1 1994.0,1326.3 1996.4,1326.3 1996.4,1326.9 1998.5,1326.9 1998.5,1324.0 2000.5,1324.0 2000.5,1319.1 2002.7,1319.1 2002.7,1327.8 2004.9,1327.8 2004.9,1324.8 2007.0,1324.8 2007.0,1326.4 2009.5,1326.4 2009.5,1321.7 2011.9,1321.7 2011.9,1326.7 2014.8,1326.7 2014.8,1320.9 2017.6,1320.9 2017.6,1325.6 2019.7,1325.6 2019.7,1313.3 2022.3,1313.3 2022.3,1322.7 2025.3,1322.7 2025.3,1312.4 2027.6,1312.4 2027.6,1318.7 2030.3,1318.7 2030.3,1311.3 2033.5,1311.3 2033.5,1312.1 2036.3,1312.1 2036.3,1313.5 2039.1,1313.5 2039.1,1305.5 2041.7,1305.5 2041.7,1314.8 2044.9,1314.8 2044.9,1315.1 2048.1,1315.1 2048.1,1320.2 2051.2,1320.2 2051.2,1313.2 2054.4,1313.2 2054.4,1318.6 2057.5,1318.6 2057.5,1326.5 2061.2,1326.5 2061.2,1333.2 2064.9,1333.2 2064.9,1338.2 2068.7,1338.2 2068.7,1336.2 2071.8,1336.2 2071.8,1332.6 2074.3,1332.6 2074.3,1342.1 2077.0,1342.1 2077.0,1344.8 2079.3,1344.8 2079.3,1337.6 2081.7,1337.6 2081.7,1342.9 2084.5,1342.9 2084.5,1353.0 2086.8,1353.0 2086.8,1348.5 2088.8,1348.5 2088.8,1351.2 2091.7,1351.2 2091.7,1349.8 2095.0,1349.8 2095.0,1347.7 2097.4,1347.7 2097.4,1336.2 2100.0,1336.2 2100.0,1331.2 2103.3,1331.2 2103.3,1335.2 2105.9,1335.2 2105.9,1339.2 2108.5,1339.2 2108.5,1333.8 2111.6,1333.8 2111.6,1336.8 2114.2,1336.8 2114.2,1325.8 2117.0,1325.8 2117.0,1335.2 2119.9,1335.2 2119.9,1332.5 2122.3,1332.5 2122.3,1328.1 2124.4,1328.1 2124.4,1332.2 2126.6,1332.2 2126.6,1334.3 2129.3,1334.3 2129.3,1332.6 2132.1,1332.6 2132.1,1325.5 2135.4,1325.5 2135.4,1338.4 2139.2,1338.4 2139.2,1340.4 2142.5,1340.4 2142.5,1340.9 2145.4,1340.9 2145.4,1331.1 2148.4,1331.1 2148.4,1343.4 2151.2,1343.4 2151.2,1341.4 2154.0,1341.4 2154.0,1343.6 2156.5,1343.6 2156.5,1337.7 2158.8,1337.7 2158.8,1339.7 2161.2,1339.7 2161.2,1334.2 2163.3,1334.2 2163.3,1331.2 2165.5,1331.2 2165.5,1337.6 2168.1,1337.6 2168.1,1332.0 2170.3,1332.0 2170.3,1331.3 2172.2,1331.3 2172.2,1332.2 2175.2,1332.2 2175.2,1332.6 2178.9,1332.6 2178.9,1335.1 2181.9,1335.1 2181.9,1337.1 2184.9,1337.1 2184.9,1332.8 2187.9,1332.8 2187.9,1334.7 2191.1,1334.7 2191.1,1337.0 2194.4,1337.0 2194.4,1338.2 2196.8,1338.2 2196.8,1337.1 2198.7,1337.1 2198.7,1336.4 2200.7,1336.4 2200.7,1334.5 2203.1,1334.5 2203.1,1336.2 2206.0,1336.2 2206.0,1333.2 2208.7,1333.2 2208.7,1331.0 2210.5,1331.0 2210.5,1335.2 2213.2,1335.2 2213.2,1333.2 2215.8,1333.2 2215.8,1333.0 2217.9,1333.0 2217.9,1333.4 2220.4,1333.4 2220.4,1331.4 2223.0,1331.4 2223.0,1326.0 2226.0,1326.0 2226.0,1335.3 2229.3,1335.3 2229.3,1328.4 2232.2,1328.4 2232.2,1325.4 2235.1,1325.4 2235.1,1327.2 2238.4,1327.2 2238.4,1324.8 2241.8,1324.8 2241.8,1316.2 2244.9,1316.2 2244.9,1314.1 2247.6,1314.1 2247.6,1316.8 2250.9,1316.8 2250.9,1319.8 2253.8,1319.8 2253.8,1324.6 2256.9,1324.6 2256.9,1331.1 2260.5,1331.1 2260.5,1328.6 2263.6,1328.6 2263.6,1328.4 2266.7,1328.4 2266.7,1321.9 2269.7,1321.9 2269.7,1326.2 2272.5,1326.2 2272.5,1327.6 2275.2,1327.6 2275.2,1329.1 2278.3,1329.1 2278.3,1327.2 2281.7,1327.2 2281.7,1335.2 2284.9,1335.2 2284.9,1326.0 2287.7,1326.0 2287.7,1332.9 2289.9,1332.9 2289.9,1330.9 2292.3,1330.9 2292.3,1331.5 2294.6,1331.5 2294.6,1336.1 2296.7,1336.1 2296.7,1331.5 2299.4,1331.5 2299.4,1335.9 2301.2,1335.9 2301.2,1360.3 2299.4,1360.3 2299.4,1361.6 2296.7,1361.6 2296.7,1359.5 2294.6,1359.5 2294.6,1360.8 2292.3,1360.8 2292.3,1359.9 2289.9,1359.9 2289.9,1356.3 2287.7,1356.3 2287.7,1360.9 2284.9,1360.9 2284.9,1356.8 2281.7,1356.8 2281.7,1362.9 2278.3,1362.9 2278.3,1366.3 2275.2,1366.3 2275.2,1357.4 2272.5,1357.4 2272.5,1362.8 2269.7,1362.8 2269.7,1361.2 2266.7,1361.2 2266.7,1366.3 2263.6,1366.3 2263.6,1363.0 2260.5,1363.0 2260.5,1362.3 2256.9,1362.3 2256.9,1358.3 2253.8,1358.3 2253.8,1352.4 2250.9,1352.4 2250.9,1341.7 2247.6,1341.7 2247.6,1344.7 2244.9,1344.7 2244.9,1353.9 2241.8,1353.9 2241.8,1349.8 2238.4,1349.8 2238.4,1347.8 2235.1,1347.8 2235.1,1354.7 2232.2,1354.7 2232.2,1361.8 2229.3,1361.8 2229.3,1357.4 2226.0,1357.4 2226.0,1354.3 2223.0,1354.3 2223.0,1356.2 2220.4,1356.2 2220.4,1361.2 2217.9,1361.2 2217.9,1356.2 2215.8,1356.2 2215.8,1360.6 2213.2,1360.6 2213.2,1362.0 2210.5,1362.0 2210.5,1360.3 2208.7,1360.3 2208.7,1368.0 2206.0,1368.0 2206.0,1361.7 2203.1,1361.7 2203.1,1360.1 2200.7,1360.1 2200.7,1360.7 2198.7,1360.7 2198.7,1362.6 2196.8,1362.6 2196.8,1360.9 2194.4,1360.9 2194.4,1365.1 2191.1,1365.1 2191.1,1365.2 2187.9,1365.2 2187.9,1358.6 2184.9,1358.6 2184.9,1360.9 2181.9,1360.9 2181.9,1357.9 2178.9,1357.9 2178.9,1361.5 2175.2,1361.5 2175.2,1362.9 2172.2,1362.9 2172.2,1365.5 2170.3,1365.5 2170.3,1361.8 2168.1,1361.8 2168.1,1367.3 2165.5,1367.3 2165.5,1364.4 2163.3,1364.4 2163.3,1372.5 2161.2,1372.5 2161.2,1367.8 2158.8,1367.8 2158.8,1369.0 2156.5,1369.0 2156.5,1365.0 2154.0,1365.0 2154.0,1368.4 2151.2,1368.4 2151.2,1367.3 2148.4,1367.3 2148.4,1365.8 2145.4,1365.8 2145.4,1365.9 2142.5,1365.9 2142.5,1363.0 2139.2,1363.0 2139.2,1364.6 2135.4,1364.6 2135.4,1360.2 2132.1,1360.2 2132.1,1361.9 2129.3,1361.9 2129.3,1356.9 2126.6,1356.9 2126.6,1367.9 2124.4,1367.9 2124.4,1361.2 2122.3,1361.2 2122.3,1357.9 2119.9,1357.9 2119.9,1359.6 2117.0,1359.6 2117.0,1362.8 2114.2,1362.8 2114.2,1360.3 2111.6,1360.3 2111.6,1361.1 2108.5,1361.1 2108.5,1363.5 2105.9,1363.5 2105.9,1365.3 2103.3,1365.3 2103.3,1361.9 2100.0,1361.9 2100.0,1368.0 2097.4,1368.0 2097.4,1379.8 2095.0,1379.8 2095.0,1382.6 2091.7,1382.6 2091.7,1381.3 2088.8,1381.3 2088.8,1392.4 2086.8,1392.4 2086.8,1393.1 2084.5,1393.1 2084.5,1393.7 2081.7,1393.7 2081.7,1386.5 2079.3,1386.5 2079.3,1381.4 2077.0,1381.4 2077.0,1374.6 2074.3,1374.6 2074.3,1372.1 2071.8,1372.1 2071.8,1372.3 2068.7,1372.3 2068.7,1368.9 2064.9,1368.9 2064.9,1362.7 2061.2,1362.7 2061.2,1358.9 2057.5,1358.9 2057.5,1358.4 2054.4,1358.4 2054.4,1349.6 2051.2,1349.6 2051.2,1351.6 2048.1,1351.6 2048.1,1349.1 2044.9,1349.1 2044.9,1344.9 2041.7,1344.9 2041.7,1341.8 2039.1,1341.8 2039.1,1341.2 2036.3,1341.2 2036.3,1340.1 2033.5,1340.1 2033.5,1338.5 2030.3,1338.5 2030.3,1343.4 2027.6,1343.4 2027.6,1347.3 2025.3,1347.3 2025.3,1343.7 2022.3,1343.7 2022.3,1348.1 2019.7,1348.1 2019.7,1347.4 2017.6,1347.4 2017.6,1344.1 2014.8,1344.1 2014.8,1351.1 2011.9,1351.1 2011.9,1352.7 2009.5,1352.7 2009.5,1355.9 2007.0,1355.9 2007.0,1366.4 2004.9,1366.4 2004.9,1359.0 2002.7,1359.0 2002.7,1367.6 2000.5,1367.6 2000.5,1365.5 1998.5,1365.5 1998.5,1364.8 1996.4,1364.8 1996.4,1361.1 1994.0,1361.1 1994.0,1358.1 1991.3,1358.1 1991.3,1356.1 1989.0,1356.1 1989.0,1356.3 1986.7,1356.3 1986.7,1347.5 1983.4,1347.5 1983.4,1350.2 1980.5,1350.2 1980.5,1346.0 1978.3,1346.0 1978.3,1346.1 1976.0,1346.1 1976.0,1355.9 1973.1,1355.9 1973.1,1346.3 1970.3,1346.3 1970.3,1343.3 1968.0,1343.3 1968.0,1352.0 1966.0,1352.0 1966.0,1353.7 1963.9,1353.7 1963.9,1350.7 1961.2,1350.7 1961.2,1363.5 1957.8,1363.5 1957.8,1354.5 1954.2,1354.5 1954.2,1356.9 1951.2,1356.9 1951.2,1359.4 1948.9,1359.4 1948.9,1360.9 1946.5,1360.9 1946.5,1363.5 1943.4,1363.5 1943.4,1362.0 1939.9,1362.0 1939.9,1356.0 1936.5,1356.0 1936.5,1359.9 1934.0,1359.9 1934.0,1359.3 1932.2,1359.3 1932.2,1356.7 1930.1,1356.7 1930.1,1365.9 1927.0,1365.9 1927.0,1364.9 1924.1,1364.9 1924.1,1359.2 1922.3,1359.2 1922.3,1363.0 1919.5,1363.0 1919.5,1358.3 1916.2,1358.3 1916.2,1358.7 1913.3,1358.7 1913.3,1363.3 1910.7,1363.3 1910.7,1353.3 1907.9,1353.3 1907.9,1351.9 1905.3,1351.9 1905.3,1357.0 1903.0,1357.0 1903.0,1355.1 1900.5,1355.1 1900.5,1353.8 1898.2,1353.8 1898.2,1358.8 1895.8,1358.8 1895.8,1357.5 1893.2,1357.5 1893.2,1353.9 1890.8,1353.9 1890.8,1355.0 1888.4,1355.0 1888.4,1354.9 1885.5,1354.9 1885.5,1357.9 1882.6,1357.9 1882.6,1355.5 1880.3,1355.5 1880.3,1359.3 1878.3,1359.3 1878.3,1367.1 1875.9,1367.1 1875.9,1364.9 1872.9,1364.9 1872.9,1356.3 1869.6,1356.3 1869.6,1356.1 1866.5,1356.1 1866.5,1356.7 1863.8,1356.7 1863.8,1356.9 1861.4,1356.9 1861.4,1360.1 1858.2,1360.1 1858.2,1360.3 1854.7,1360.3 1854.7,1363.0 1851.3,1363.0 1851.3,1360.3 1847.9,1360.3 1847.9,1355.0 1844.7,1355.0 1844.7,1356.7 1841.8,1356.7 1841.8,1356.2 1838.3,1356.2 1838.3,1356.0 1835.3,1356.0 1835.3,1359.7 1832.3,1359.7 1832.3,1361.0 1829.4,1361.0 1829.4,1354.4 1826.9,1354.4 1826.9,1360.5 1823.9,1360.5 1823.9,1359.5 1820.8,1359.5 1820.8,1361.3 1817.7,1361.3 1817.7,1362.6 1815.1,1362.6 1815.1,1361.3 1812.6,1361.3 1812.6,1367.1 1809.7,1367.1 1809.7,1363.0 1806.9,1363.0 1806.9,1354.0 1804.0,1354.0 1804.0,1349.9 1800.5,1349.9 1800.5,1357.6 1797.7,1357.6 1797.7,1350.8 1794.8,1350.8 1794.8,1349.5 1791.6,1349.5 1791.6,1351.2 1789.3,1351.2 1789.3,1348.1 1786.5,1348.1 1786.5,1349.3 1783.5,1349.3 1783.5,1351.4 1781.0,1351.4 1781.0,1350.5 1777.7,1350.5 1777.7,1350.3 1774.4,1350.3 1774.4,1353.0 1771.1,1353.0 1771.1,1353.4 1768.0,1353.4 1768.0,1348.7 1765.2,1348.7 1765.2,1348.2 1761.7,1348.2 1761.7,1353.8 1758.1,1353.8 1758.1,1356.0 1755.2,1356.0 1755.2,1361.3 1753.2,1361.3 1753.2,1359.2 1750.5,1359.2 1750.5,1353.6 1746.9,1353.6 1746.9,1360.4 1743.5,1360.4 1743.5,1353.3 1740.3,1353.3 1740.3,1359.1 1737.5,1359.1 1737.5,1354.5 1734.4,1354.5 1734.4,1356.2 1730.8,1356.2 1730.8,1356.0 1727.3,1356.0 1727.3,1356.7 1724.0,1356.7 1724.0,1353.0 1720.7,1353.0 1720.7,1354.2 1717.0,1354.2 1717.0,1354.1 1713.1,1354.1 1713.1,1358.4 1709.7,1358.4 1709.7,1360.8 1706.8,1360.8 1706.8,1356.1 1703.8,1356.1 1703.8,1357.8 1700.7,1357.8 1700.7,1357.2 1698.1,1357.2 1698.1,1361.7 1696.0,1361.7 1696.0,1359.8 1693.5,1359.8 1693.5,1355.0 1690.0,1355.0 1690.0,1357.6 1686.9,1357.6 1686.9,1356.9 1683.9,1356.9 1683.9,1354.9 1681.5,1354.9 1681.5,1358.9 1679.4,1358.9 1679.4,1354.1 1677.0,1354.1 1677.0,1356.5 1674.0,1356.5 1674.0,1359.5 1671.1,1359.5 1671.1,1355.2 1668.1,1355.2 1668.1,1352.9 1665.2,1352.9 1665.2,1355.6 1662.8,1355.6 1662.8,1353.8 1660.4,1353.8 1660.4,1353.0 1657.4,1353.0 1657.4,1347.2 1653.8,1347.2 1653.8,1345.5 1650.1,1345.5 1650.1,1346.5 1647.4,1346.5 1647.4,1349.4 1645.1,1349.4 1645.1,1347.3 1642.6,1347.3 1642.6,1343.9 1639.6,1343.9 1639.6,1348.2 1636.7,1348.2 1636.7,1343.6 1634.3,1343.6 1634.3,1343.3 1631.3,1343.3 1631.3,1348.7 1628.0,1348.7 1628.0,1346.2 1625.5,1346.2 1625.5,1344.9 1623.4,1344.9 1623.4,1348.3 1620.9,1348.3 1620.9,1356.9 1618.1,1356.9 1618.1,1350.7 1615.6,1350.7 1615.6,1346.5 1613.0,1346.5 1613.0,1346.6 1609.9,1346.6 1609.9,1351.4 1606.9,1351.4 1606.9,1348.5 1603.6,1348.5 1603.6,1347.7 1600.3,1347.7 1600.3,1354.0 1597.1,1354.0 1597.1,1355.0 1594.4,1355.0 1594.4,1353.8 1592.2,1353.8 1592.2,1353.3 1589.7,1353.3 1589.7,1357.7 1587.2,1357.7 1587.2,1349.6 1584.7,1349.6 1584.7,1355.7 1582.3,1355.7 1582.3,1350.3 1579.4,1350.3 1579.4,1352.2 1576.2,1352.2 1576.2,1341.5 1573.7,1341.5 1573.7,1348.8 1571.3,1348.8 1571.3,1342.9 1568.7,1342.9 1568.7,1338.6 1566.0,1338.6 1566.0,1341.0 1563.3,1341.0 1563.3,1344.5 1561.0,1344.5 1561.0,1346.3 1558.5,1346.3 1558.5,1346.7 1556.2,1346.7 1556.2,1349.3 1553.7,1349.3 1553.7,1350.9 1551.2,1350.9 1551.2,1349.0 1548.5,1349.0 1548.5,1351.9 1545.2,1351.9 1545.2,1356.7 1542.4,1356.7 1542.4,1350.9 1540.3,1350.9 1540.3,1350.1 1538.0,1350.1 1538.0,1356.8 1535.6,1356.8 1535.6,1353.8 1533.6,1353.8 1533.6,1354.6 1530.7,1354.6 1530.7,1355.9 1527.7,1355.9 1527.7,1352.4 1525.2,1352.4 1525.2,1350.2 1522.5,1350.2 1522.5,1351.8 1519.4,1351.8 1519.4,1349.0 1516.4,1349.0 1516.4,1352.7 1513.3,1352.7 1513.3,1360.7 1510.5,1360.7 1510.5,1351.1 1508.6,1351.1 1508.6,1362.8 1506.0,1362.8 1506.0,1356.5 1503.0,1356.5 1503.0,1352.2 1500.1,1352.2 1500.1,1355.5 1496.9,1355.5 1496.9,1358.5 1493.3,1358.5 1493.3,1360.3 1489.6,1360.3 1489.6,1359.9 1486.0,1359.9 1486.0,1359.5 1482.7,1359.5 1482.7,1359.3 1480.3,1359.3 1480.3,1362.5 1478.0,1362.5 1478.0,1360.7 1474.9,1360.7 1474.9,1362.0 1471.4,1362.0 1471.4,1362.9 1467.7,1362.9 1467.7,1360.0 1464.3,1360.0 1464.3,1361.7 1461.2,1361.7 1461.2,1361.9 1458.1,1361.9 1458.1,1365.4 1455.5,1365.4 1455.5,1365.1 1452.9,1365.1 1452.9,1361.5 1449.8,1361.5 1449.8,1367.7 1446.7,1367.7 1446.7,1366.0 1443.3,1366.0 1443.3,1365.2 1439.9,1365.2 1439.9,1364.4 1436.7,1364.4 1436.7,1368.1 1433.5,1368.1 1433.5,1365.5 1429.9,1365.5 1429.9,1367.0 1426.9,1367.0 1426.9,1362.5 1424.6,1362.5 1424.6,1363.3 1422.6,1363.3 1422.6,1354.5 1420.2,1354.5 1420.2,1353.4 1417.2,1353.4 1417.2,1352.4 1414.2,1352.4 1414.2,1348.3 1411.8,1348.3 1411.8,1353.2 1409.5,1353.2 1409.5,1348.2 1407.2,1348.2 1407.2,1349.9 1404.5,1349.9 1404.5,1344.6 1401.8,1344.6 1401.8,1352.7 1399.2,1352.7 1399.2,1361.2 1396.1,1361.2 1396.1,1355.1 1393.3,1355.1 1393.3,1365.0 1390.6,1365.0 1390.6,1357.5 1387.6,1357.5 1387.6,1355.8 1385.2,1355.8 1385.2,1355.6 1382.3,1355.6 1382.3,1359.4 1379.6,1359.4 1379.6,1364.6 1376.8,1364.6 1376.8,1358.9 1373.4,1358.9 1373.4,1370.8 1370.5,1370.8 1370.5,1366.3 1367.7,1366.3 1367.7,1367.4 1364.7,1367.4 1364.7,1366.2 1362.7,1366.2 1362.7,1363.5 1360.3,1363.5 1360.3,1369.7 1357.1,1369.7 1357.1,1362.7 1353.5,1362.7 1353.5,1361.5 1349.8,1361.5 1349.8,1359.3 1346.1,1359.3 1346.1,1356.1 1342.4,1356.1 1342.4,1353.7 1339.2,1353.7 1339.2,1360.0 1335.8,1360.0 1335.8,1362.7 1332.1,1362.7 1332.1,1363.2 1329.5,1363.2 1329.5,1362.8 1327.6,1362.8 1327.6,1360.3 1325.3,1360.3 1325.3,1362.1 1322.0,1362.1 1322.0,1361.8 1318.9,1361.8 1318.9,1358.8 1315.9,1358.8 1315.9,1357.8 1313.1,1357.8 1313.1,1354.6 1310.7,1354.6 1310.7,1360.7 1307.6,1360.7 1307.6,1359.5 1304.4,1359.5 1304.4,1361.2 1301.1,1361.2 1301.1,1366.3 1297.7,1366.3 1297.7,1366.3 1294.1,1366.3 1294.1,1365.7 1290.8,1365.7 1290.8,1358.9 1287.2,1358.9 1287.2,1358.4 1284.0,1358.4 1284.0,1359.9 1281.8,1359.9 1281.8,1357.3 1279.7,1357.3 1279.7,1357.1 1276.9,1357.1 1276.9,1355.5 1273.9,1355.5 1273.9,1358.8 1271.0,1358.8 1271.0,1355.6 1268.4,1355.6 1268.4,1355.1 1266.4,1355.1 1266.4,1353.6 1263.4,1353.6 1263.4,1365.5 1260.6,1365.5 1260.6,1355.7 1258.5,1355.7 1258.5,1358.9 1256.4,1358.9 1256.4,1355.7 1253.7,1355.7 1253.7,1359.9 1250.7,1359.9 1250.7,1357.1 1248.2,1357.1 1248.2,1357.6 1245.5,1357.6 1245.5,1359.3 1242.5,1359.3 1242.5,1364.0 1239.6,1364.0 1239.6,1359.3 1236.9,1359.3 1236.9,1362.4 1234.9,1362.4 1234.9,1359.5 1232.5,1359.5 1232.5,1360.8 1230.1,1360.8 1230.1,1355.5 1227.5,1355.5 1227.5,1357.1 1224.0,1357.1 1224.0,1360.7 1221.1,1360.7 1221.1,1362.0 1218.3,1362.0 1218.3,1373.4 1215.0,1373.4 1215.0,1366.1 1212.0,1366.1 1212.0,1362.8 1209.6,1362.8 1209.6,1357.5 1206.8,1357.5 1206.8,1356.7 1203.7,1356.7 1203.7,1357.8 1201.4,1357.8 1201.4,1357.8 1198.9,1357.8 1198.9,1367.7 1195.6,1367.7 1195.6,1370.1 1192.2,1370.1 1192.2,1365.6 1189.0,1365.6 1189.0,1355.8 1185.9,1355.8 1185.9,1364.5 1183.3,1364.5 1183.3,1364.8 1180.9,1364.8 1180.9,1377.4 1177.7,1377.4 1177.7,1378.6 1174.5,1378.6 1174.5,1377.4 1172.3,1377.4 1172.3,1378.7 1170.0,1378.7 1170.0,1380.8 1167.6,1380.8 1167.6,1381.6 1165.3,1381.6 1165.3,1385.2 1162.7,1385.2 1162.7,1388.7 1159.7,1388.7 1159.7,1392.9 1156.3,1392.9 1156.3,1391.5 1153.9,1391.5 1153.9,1393.4 1151.0,1393.4 1151.0,1400.1 1147.8,1400.1 1147.8,1405.3 1144.6,1405.3 1144.6,1410.8 1140.9,1410.8 1140.9,1409.9 1137.7,1409.9 1137.7,1408.9 1135.1,1408.9 1135.1,1406.4 1132.9,1406.4 1132.9,1406.8 1129.8,1406.8 1129.8,1407.7 1126.8,1407.7 1126.8,1403.3 1123.9,1403.3 1123.9,1403.0 1120.3,1403.0 1120.3,1395.3 1116.7,1395.3 1116.7,1391.7 1113.1,1391.7 1113.1,1380.7 1109.8,1380.7 1109.8,1387.0 1107.0,1387.0 1107.0,1386.9 1104.1,1386.9 1104.1,1382.9 1101.4,1382.9 1101.4,1379.8 1099.4,1379.8 1099.4,1380.5 1097.4,1380.5 1097.4,1386.4 1095.2,1386.4 1095.2,1392.6 1092.8,1392.6 1092.8,1403.2 1090.0,1403.2 1090.0,1411.1 1086.8,1411.1 1086.8,1419.8 1083.9,1419.8 1083.9,1417.5 1081.0,1417.5 1081.0,1424.8 1077.8,1424.8 1077.8,1416.2 1074.8,1416.2 1074.8,1414.3 1072.4,1414.3 1072.4,1413.0 1070.4,1413.0 1070.4,1408.5 1068.3,1408.5 1068.3,1406.8 1066.0,1406.8 1066.0,1417.0 1063.3,1417.0 1063.3,1424.0 1060.9,1424.0 1060.9,1426.8 1058.4,1426.8 1058.4,1423.4 1056.0,1423.4 1056.0,1413.9 1053.5,1413.9 1053.5,1408.7 1050.8,1408.7 1050.8,1424.6 1048.3,1424.6 1048.3,1430.6 1045.4,1430.6 1045.4,1432.5 1043.0,1432.5 1043.0,1431.5 1040.7,1431.5 1040.7,1438.2 1038.0,1438.2 1038.0,1432.8 1035.7,1432.8 1035.7,1427.3 1033.5,1427.3 1033.5,1428.1 1031.2,1428.1 1031.2,1423.7 1028.7,1423.7 1028.7,1423.7 1025.8,1423.7 1025.8,1427.2 1022.5,1427.2 1022.5,1432.8 1019.0,1432.8 1019.0,1436.0 1016.3,1436.0 1016.3,1435.9 1013.7,1435.9 1013.7,1434.5 1010.6,1434.5 1010.6,1432.4 1007.6,1432.4 1007.6,1436.3 1004.9,1436.3 1004.9,1442.4 1002.1,1442.4 1002.1,1463.5 998.5,1463.5 998.5,1461.2 995.5,1461.2 995.5,1450.1 992.6,1450.1 992.6,1445.2 989.8,1445.2 989.8,1437.9 987.4,1437.9 987.4,1431.5 984.6,1431.5 984.6,1424.3 982.2,1424.3 982.2,1417.7 979.6,1417.7 979.6,1429.5 977.1,1429.5 977.1,1433.8 974.3,1433.8 974.3,1451.7 970.8,1451.7 970.8,1465.2 967.4,1465.2 967.4,1484.5 964.4,1484.5 964.4,1487.2 961.6,1487.2 961.6,1493.3 958.5,1493.3 958.5,1493.6 954.9,1493.6 954.9,1490.5 951.4,1490.5 951.4,1485.6 947.9,1485.6 947.9,1495.4 944.6,1495.4 944.6,1488.4 941.6,1488.4 941.6,1490.5 938.6,1490.5 938.6,1510.6 935.5,1510.6 935.5,1541.9 932.6,1541.9 932.6,1535.6 929.9,1535.6 929.9,1527.3 926.7,1527.3 926.7,1519.9 923.0,1519.9 923.0,1518.1 920.1,1518.1 920.1,1513.6 917.8,1513.6 917.8,1514.6 915.4,1514.6 915.4,1520.6 913.0,1520.6 913.0,1521.4 911.0,1521.4 911.0,1523.6 908.5,1523.6 908.5,1536.0 905.4,1536.0 905.4,1553.4 902.6,1553.4 902.6,1576.6 899.6,1576.6 899.6,1578.3 897.0,1578.3 897.0,1567.4 894.6,1567.4 894.6,1560.8 892.4,1560.8 892.4,1562.9 889.7,1562.9 889.7,1553.8 886.7,1553.8 886.7,1556.4 883.6,1556.4 883.6,1539.3 879.9,1539.3 879.9,1545.6 877.1,1545.6 877.1,1552.6 875.1,1552.6 875.1,1561.5 872.8,1561.5 872.8,1577.5 869.7,1577.5 869.7,1601.0 866.7,1601.0 866.7,1614.6 863.7,1614.6 863.7,1627.4 860.7,1627.4 860.7,1613.7 857.9,1613.7 857.9,1597.7 855.4,1597.7 855.4,1588.8 852.2,1588.8 852.2,1596.0 848.3,1596.0 848.3,1584.1 845.0,1584.1 845.0,1583.7 842.1,1583.7 842.1,1595.7 838.7,1595.7 838.7,1604.8 835.0,1604.8 835.0,1589.8 832.0,1589.8 832.0,1575.0 829.1,1575.0 829.1,1535.9 825.8,1535.9 825.8,1538.7 822.7,1538.7 822.7,1544.4 819.4,1544.4 819.4,1559.3 815.8,1559.3 815.8,1571.2 812.0,1571.2 812.0,1570.3 809.0,1570.3 809.0,1552.8 806.4,1552.8 806.4,1554.9 803.9,1554.9 803.9,1546.4 801.3,1546.4 801.3,1547.1 798.7,1547.1 798.7,1553.3 796.6,1553.3 796.6,1566.9 794.3,1566.9 794.3,1580.9 791.4,1580.9 791.4,1605.8 788.8,1605.8 788.8,1607.9 786.6,1607.9 786.6,1627.4 784.1,1627.4 784.1,1637.0 781.9,1637.0 781.9,1649.9 779.6,1649.9 779.6,1640.0 777.2,1640.0 777.2,1620.5 774.5,1620.5 774.5,1678.4 771.5,1678.4 771.5,1738.7 768.4,1738.7 768.4,1774.2 764.7,1774.2 764.7,1774.0 761.4,1774.0 761.4,1776.2 758.8,1776.2 758.8,1781.6 756.4,1781.6 756.4,1791.3 753.6,1791.3 753.6,1797.8 750.0,1797.8 750.0,1774.5 747.0,1774.5 747.0,1765.0 745.0,1765.0 745.0,1767.3 743.2,1767.3 743.2,1762.3 740.4,1762.3 740.4,1751.4 737.4,1751.4 737.4,1748.6 734.6,1748.6 734.6,1747.6 731.5,1747.6 731.5,1745.5 728.7,1745.5 728.7,1743.0 725.5,1743.0 725.5,1726.2 722.7,1726.2 722.7,1720.4 720.5,1720.4 720.5,1712.0 718.2,1712.0 718.2,1729.0 715.9,1729.0 715.9,1736.4 713.5,1736.4 713.5,1711.1 711.0,1711.1 711.0,1678.9 708.2,1678.9 708.2,1659.9 705.1,1659.9 705.1,1637.0 702.1,1637.0 702.1,1622.7 699.2,1622.7 699.2,1610.4 696.8,1610.4 696.8,1606.0 694.5,1606.0 694.5,1601.6 691.4,1601.6 691.4,1604.5 687.8,1604.5 687.8,1638.3 684.9,1638.3 684.9,1653.8 681.9,1653.8 681.9,1655.0 678.9,1655.0 678.9,1677.5 676.2,1677.5 676.2,1675.1 673.4,1675.1 673.4,1665.2 671.4,1665.2 671.4,1651.9 669.0,1651.9 669.0,1637.2 666.3,1637.2 666.3,1626.8 663.2,1626.8 663.2,1615.2 660.4,1615.2 660.4,1614.7 657.8,1614.7 657.8,1611.4 654.7,1611.4 654.7,1598.3 651.4,1598.3 651.4,1584.5 648.3,1584.5 648.3,1571.2 644.9,1571.2 644.9,1557.8 641.3,1557.8 641.3,1542.0 638.3,1542.0 638.3,1524.2 635.7,1524.2 635.7,1522.2 633.5,1522.2 633.5,1537.0 631.7,1537.0 631.7,1559.0 629.6,1559.0 629.6,1596.5 627.2,1596.5 627.2,1631.2 624.4,1631.2 624.4,1640.7 621.7,1640.7 621.7,1628.9 619.8,1628.9 619.8,1623.2 617.7,1623.2 617.7,1629.2 615.3,1629.2 615.3,1629.3 613.3,1629.3 613.3,1629.2 610.5,1629.2 610.5,1640.0 607.4,1640.0 607.4,1672.4 604.9,1672.4 604.9,1713.9 602.3,1713.9 602.3,1722.5 599.7,1722.5 599.7,1737.6 597.3,1737.6 597.3,1758.7 594.2,1758.7 594.2,1743.8 590.9,1743.8 590.9,1734.7 588.2,1734.7 588.2,1743.5 585.8,1743.5 585.8,1768.4 582.7,1768.4 582.7,1776.8 579.4,1776.8 579.4,1793.4 576.6,1793.4 576.6,1793.0 573.5,1793.0 573.5,1792.0 570.3,1792.0 570.3,1782.9 567.4,1782.9 567.4,1755.9 564.4,1755.9 564.4,1730.5 561.6,1730.5 561.6,1739.6 558.8,1739.6 558.8,1754.0 555.4,1754.0 555.4,1778.7 552.8,1778.7 552.8,1776.8 550.5,1776.8 550.5,1788.1 547.9,1788.1 547.9,1798.2 545.2,1798.2 545.2,1790.8 543.0,1790.8 543.0,1792.9 540.7,1792.9 540.7,1778.9 537.3,1778.9 537.3,1760.9 533.9,1760.9 533.9,1726.4 530.7,1726.4 530.7,1695.5 527.5,1695.5 527.5,1680.4 524.3,1680.4 524.3,1656.1 521.5,1656.1 521.5,1642.6 519.2,1642.6 519.2,1640.5 517.0,1640.5 517.0,1650.0 514.4,1650.0 514.4,1669.8 511.8,1669.8 511.8,1675.6 508.9,1675.6 508.9,1678.0 505.4,1678.0 505.4,1651.3 502.5,1651.3 502.5,1642.3 499.8,1642.3 499.8,1625.9 496.5,1625.9 496.5,1620.9 493.4,1620.9 493.4,1629.4 490.6,1629.4 490.6,1639.0 487.9,1639.0 487.9,1651.8 485.6,1651.8 485.6,1656.8 482.9,1656.8 482.9,1652.0 480.1,1652.0 480.1,1645.5 477.2,1645.5 477.2,1639.9 474.6,1639.9 474.6,1638.5 472.3,1638.5 472.3,1629.8 469.2,1629.8 469.2,1657.9 466.2,1657.9 466.2,1655.3 463.2,1655.3 463.2,1645.2 459.7,1645.2 459.7,1644.0 456.3,1644.0 456.3,1644.3 453.7,1644.3 453.7,1637.3 451.3,1637.3 451.3,1645.2 448.6,1645.2 448.6,1656.5 445.9,1656.5 445.9,1673.1 442.7,1673.1 442.7,1687.7 439.6,1687.7 439.6,1704.6 436.3,1704.6 436.3,1696.2 433.3,1696.2 433.3,1707.1 430.9,1707.1 430.9,1703.1 428.4,1703.1 428.4,1706.9 425.7,1706.9 425.7,1714.1 423.5,1714.1 423.5,1724.4 421.4,1724.4 421.4,1735.4 418.9,1735.4 418.9,1742.8 415.9,1742.8 415.9,1761.6 413.2,1761.6 413.2,1778.6 410.9,1778.6 410.9,1807.3 407.9,1807.3 407.9,1809.2 404.6,1809.2 404.6,1793.6 401.7,1793.6 401.7,1769.6 399.2,1769.6 399.2,1751.6 396.4,1751.6 396.4,1746.2 393.3,1746.2 393.3,1734.9 390.0,1734.9 390.0,1721.8 387.2,1721.8 387.2,1710.5 384.7,1710.5 384.7,1718.5 381.2,1718.5 381.2,1711.1 378.5,1711.1 378.5,1689.2 376.3,1689.2 376.3,1668.3 374.0,1668.3 374.0,1667.6 371.9,1667.6 371.9,1667.9 369.3,1667.9 369.3,1676.2 366.3,1676.2 366.3,1702.6 363.0,1702.6 363.0,1663.2 359.9,1663.2 359.9,1652.7 357.4,1652.7 357.4,1642.3 354.9,1642.3 354.9,1651.9 352.4,1651.9 352.4,1658.5 349.2,1658.5 349.2,1674.6 345.7,1674.6 345.7,1673.1 343.1,1673.1 343.1,1669.3 340.9,1669.3 340.9,1671.3 338.4,1671.3 338.4,1694.8 335.4,1694.8 335.4,1712.8 332.1,1712.8 332.1,1718.5 329.4,1718.5 329.4,1726.9 327.0,1726.9 327.0,1714.2 324.5,1714.2 324.5,1698.1 322.1,1698.1 322.1,1700.5 319.0,1700.5 319.0,1662.5 315.5,1662.5 315.5,1661.4 312.6,1661.4 312.6,1662.5 310.0,1662.5 310.0,1689.7 306.9,1689.7 306.9,1676.2 303.4,1676.2 303.4,1678.9 300.2,1678.9 300.2,1695.9 297.7,1695.9 297.7,1720.7 295.3,1720.7 295.3,1742.6 292.1,1742.6 292.1,1780.1 289.1,1780.1 289.1,1801.0 286.3,1801.0 286.3,1818.0 283.0,1818.0 283.0,1825.2 280.4,1825.2 280.4,1828.8 277.7,1828.8 277.7,1829.4 276.2,1829.4"/>
<polyline fill="none" stroke="#ffc000" stroke-width="3.00" points="273.6,1890.4 274.6,1844.8 276.9,1844.8"/>
<polygon fill="#ffc000" stroke="#ffc000" stroke-width="0.60" stroke-linejoin="round" points="275.9,1828.9 276.8,1828.9 276.8,1833.3 278.8,1833.3 278.8,1828.9 281.0,1828.9 281.0,1831.7 283.2,1831.7 283.2,1829.9 286.0,1829.9 286.0,1821.2 288.9,1821.2 288.9,1824.1 291.4,1824.1 291.4,1827.3 294.6,1827.3 294.6,1822.1 297.4,1822.1 297.4,1823.3 300.0,1823.3 300.0,1819.8 303.5,1819.8 303.5,1816.7 306.6,1816.7 306.6,1817.3 309.6,1817.3 309.6,1810.3 313.0,1810.3 313.0,1810.8 315.4,1810.8 315.4,1813.1 318.2,1813.1 318.2,1803.7 321.4,1803.7 321.4,1807.6 323.8,1807.6 323.8,1803.4 326.1,1803.4 326.1,1801.5 328.5,1801.5 328.5,1802.6 330.8,1802.6 330.8,1801.9 332.9,1801.9 332.9,1799.5 334.9,1799.5 334.9,1807.3 337.2,1807.3 337.2,1805.4 339.7,1805.4 339.7,1808.6 342.0,1808.6 342.0,1806.0 344.1,1806.0 344.1,1800.2 346.4,1800.2 346.4,1811.0 349.1,1811.0 349.1,1806.9 352.3,1806.9 352.3,1808.3 356.0,1808.3 356.0,1804.8 359.6,1804.8 359.6,1798.7 363.1,1798.7 363.1,1795.6 366.2,1795.6 366.2,1802.8 369.5,1802.8 369.5,1808.0 372.0,1808.0 372.0,1807.1 374.7,1807.1 374.7,1810.0 377.7,1810.0 377.7,1808.3 379.8,1808.3 379.8,1799.4 382.2,1799.4 382.2,1799.7 384.6,1799.7 384.6,1807.6 386.7,1807.6 386.7,1805.6 389.9,1805.6 389.9,1804.8 393.2,1804.8 393.2,1811.9 396.5,1811.9 396.5,1810.1 400.0,1810.1 400.0,1812.5 403.2,1812.5 403.2,1809.6 405.4,1809.6 405.4,1809.1 407.6,1809.1 407.6,1803.6 410.7,1803.6 410.7,1806.8 413.6,1806.8 413.6,1802.9 416.6,1802.9 416.6,1799.4 420.1,1799.4 420.1,1795.5 422.8,1795.5 422.8,1791.1 425.3,1791.1 425.3,1795.4 428.7,1795.4 428.7,1797.7 431.4,1797.7 431.4,1789.1 434.1,1789.1 434.1,1798.1 437.3,1798.1 437.3,1805.4 440.3,1805.4 440.3,1809.2 443.1,1809.2 443.1,1810.1 445.9,1810.1 445.9,1810.7 449.5,1810.7 449.5,1810.9 452.6,1810.9 452.6,1808.2 455.4,1808.2 455.4,1809.6 458.0,1809.6 458.0,1801.2 460.5,1801.2 460.5,1807.0 463.9,1807.0 463.9,1810.3 467.0,1810.3 467.0,1806.2 469.6,1806.2 469.6,1806.2 472.0,1806.2 472.0,1802.5 474.9,1802.5 474.9,1809.7 478.4,1809.7 478.4,1809.6 481.6,1809.6 481.6,1807.7 485.0,1807.7 485.0,1805.2 487.9,1805.2 487.9,1809.8 490.3,1809.8 490.3,1806.9 493.5,1806.9 493.5,1809.2 496.5,1809.2 496.5,1812.0 499.4,1812.0 499.4,1813.9 502.4,1813.9 502.4,1814.7 505.2,1814.7 505.2,1811.5 508.3,1811.5 508.3,1805.9 511.4,1805.9 511.4,1815.2 514.7,1815.2 514.7,1815.9 518.1,1815.9 518.1,1814.3 520.7,1814.3 520.7,1814.5 522.7,1814.5 522.7,1812.4 525.5,1812.4 525.5,1805.6 527.9,1805.6 527.9,1814.4 530.4,1814.4 530.4,1805.6 533.9,1805.6 533.9,1810.4 537.3,1810.4 537.3,1800.6 540.6,1800.6 540.6,1804.4 543.7,1804.4 543.7,1799.6 546.2,1799.6 546.2,1802.8 548.6,1802.8 548.6,1802.8 550.9,1802.8 550.9,1807.6 553.0,1807.6 553.0,1803.8 555.8,1803.8 555.8,1808.0 558.9,1808.0 558.9,1808.3 561.9,1808.3 561.9,1796.0 565.3,1796.0 565.3,1801.7 568.5,1801.7 568.5,1795.8 571.0,1795.8 571.0,1802.0 573.1,1802.0 573.1,1800.4 576.3,1800.4 576.3,1803.1 579.8,1803.1 579.8,1799.8 582.5,1799.8 582.5,1796.5 585.1,1796.5 585.1,1795.5 587.9,1795.5 587.9,1794.0 590.2,1794.0 590.2,1794.3 592.7,1794.3 592.7,1790.9 595.6,1790.9 595.6,1794.5 598.6,1794.5 598.6,1790.7 601.1,1790.7 601.1,1789.7 604.2,1789.7 604.2,1787.8 607.4,1787.8 607.4,1786.7 609.9,1786.7 609.9,1786.4 611.8,1786.4 611.8,1786.7 613.7,1786.7 613.7,1783.6 615.8,1783.6 615.8,1784.2 618.7,1784.2 618.7,1780.6 621.9,1780.6 621.9,1778.7 624.9,1778.7 624.9,1781.9 628.3,1781.9 628.3,1770.6 631.7,1770.6 631.7,1780.7 634.5,1780.7 634.5,1783.0 636.5,1783.0 636.5,1784.4 639.0,1784.4 639.0,1776.6 641.2,1776.6 641.2,1781.0 643.3,1781.0 643.3,1787.6 646.3,1787.6 646.3,1790.1 649.4,1790.1 649.4,1788.0 652.1,1788.0 652.1,1790.5 654.6,1790.5 654.6,1789.2 656.7,1789.2 656.7,1789.8 659.5,1789.8 659.5,1782.0 662.5,1782.0 662.5,1789.2 665.4,1789.2 665.4,1789.0 668.2,1789.0 668.2,1792.1 670.6,1792.1 670.6,1794.0 673.0,1794.0 673.0,1793.1 675.6,1793.1 675.6,1795.4 678.3,1795.4 678.3,1799.0 681.7,1799.0 681.7,1795.1 684.3,1795.1 684.3,1794.9 686.3,1794.9 686.3,1801.1 688.7,1801.1 688.7,1797.6 691.0,1797.6 691.0,1796.2 693.6,1796.2 693.6,1801.2 696.9,1801.2 696.9,1791.8 699.8,1791.8 699.8,1795.5 702.2,1795.5 702.2,1793.4 704.1,1793.4 704.1,1795.8 706.3,1795.8 706.3,1796.1 708.4,1796.1 708.4,1795.7 711.0,1795.7 711.0,1794.0 714.2,1794.0 714.2,1790.8 717.5,1790.8 717.5,1792.5 720.7,1792.5 720.7,1791.2 723.9,1791.2 723.9,1784.5 727.4,1784.5 727.4,1794.9 730.3,1794.9 730.3,1795.2 733.5,1795.2 733.5,1795.8 737.1,1795.8 737.1,1794.1 740.6,1794.1 740.6,1795.1 743.5,1795.1 743.5,1792.1 746.4,1792.1 746.4,1788.8 749.2,1788.8 749.2,1791.5 751.1,1791.5 751.1,1782.1 753.1,1782.1 753.1,1782.9 755.1,1782.9 755.1,1785.6 757.3,1785.6 757.3,1782.8 760.5,1782.8 760.5,1781.6 763.3,1781.6 763.3,1778.9 765.6,1778.9 765.6,1777.3 767.8,1777.3 767.8,1779.2 770.3,1779.2 770.3,1780.9 773.8,1780.9 773.8,1777.0 777.5,1777.0 777.5,1784.1 780.4,1784.1 780.4,1781.2 783.0,1781.2 783.0,1782.2 785.5,1782.2 785.5,1786.2 787.8,1786.2 787.8,1784.0 790.9,1784.0 790.9,1779.7 794.1,1779.7 794.1,1775.6 797.2,1775.6 797.2,1783.0 800.7,1783.0 800.7,1774.5 804.0,1774.5 804.0,1777.5 807.3,1777.5 807.3,1774.5 810.1,1774.5 810.1,1777.8 812.0,1777.8 812.0,1776.8 814.3,1776.8 814.3,1781.7 817.4,1781.7 817.4,1779.9 820.8,1779.9 820.8,1785.9 824.4,1785.9 824.4,1779.7 827.8,1779.7 827.8,1783.3 830.4,1783.3 830.4,1782.8 832.8,1782.8 832.8,1779.2 835.8,1779.2 835.8,1771.5 838.5,1771.5 838.5,1774.5 841.2,1774.5 841.2,1773.0 844.3,1773.0 844.3,1774.1 846.8,1774.1 846.8,1770.2 849.8,1770.2 849.8,1777.1 852.4,1777.1 852.4,1776.1 855.0,1776.1 855.0,1772.6 858.3,1772.6 858.3,1782.4 861.2,1782.4 861.2,1784.9 863.5,1784.9 863.5,1784.4 866.4,1784.4 866.4,1785.8 869.9,1785.8 869.9,1787.0 872.8,1787.0 872.8,1784.3 875.3,1784.3 875.3,1781.8 878.5,1781.8 878.5,1783.5 882.0,1783.5 882.0,1777.8 885.5,1777.8 885.5,1775.7 888.8,1775.7 888.8,1779.9 892.0,1779.9 892.0,1783.7 894.9,1783.7 894.9,1786.5 897.7,1786.5 897.7,1789.7 900.8,1789.7 900.8,1789.2 903.6,1789.2 903.6,1783.6 906.8,1783.6 906.8,1781.7 909.7,1781.7 909.7,1775.9 911.8,1775.9 911.8,1776.3 914.1,1776.3 914.1,1770.6 916.4,1770.6 916.4,1775.8 918.9,1775.8 918.9,1782.1 921.3,1782.1 921.3,1785.8 923.7,1785.8 923.7,1793.0 926.7,1793.0 926.7,1796.1 929.7,1796.1 929.7,1795.2 932.4,1795.2 932.4,1796.7 935.1,1796.7 935.1,1801.4 938.1,1801.4 938.1,1799.7 940.6,1799.7 940.6,1797.9 942.6,1797.9 942.6,1797.0 945.0,1797.0 945.0,1799.3 948.1,1799.3 948.1,1799.7 951.6,1799.7 951.6,1805.2 954.4,1805.2 954.4,1803.8 956.4,1803.8 956.4,1804.1 959.6,1804.1 959.6,1805.5 962.9,1805.5 962.9,1806.3 965.7,1806.3 965.7,1805.2 968.9,1805.2 968.9,1806.6 971.8,1806.6 971.8,1804.9 974.0,1804.9 974.0,1807.5 976.1,1807.5 976.1,1807.4 978.5,1807.4 978.5,1807.3 981.3,1807.3 981.3,1807.9 984.5,1807.9 984.5,1803.6 987.9,1803.6 987.9,1806.2 991.0,1806.2 991.0,1804.5 993.3,1804.5 993.3,1802.3 996.0,1802.3 996.0,1798.8 999.3,1798.8 999.3,1796.1 1002.6,1796.1 1002.6,1797.4 1005.4,1797.4 1005.4,1795.3 1007.8,1795.3 1007.8,1794.8 1011.0,1794.8 1011.0,1798.3 1013.5,1798.3 1013.5,1796.4 1016.2,1796.4 1016.2,1793.7 1019.6,1793.7 1019.6,1805.8 1023.0,1805.8 1023.0,1808.6 1025.7,1808.6 1025.7,1803.3 1027.8,1803.3 1027.8,1803.4 1030.1,1803.4 1030.1,1798.1 1032.8,1798.1 1032.8,1798.0 1035.5,1798.0 1035.5,1797.7 1038.4,1797.7 1038.4,1797.1 1041.6,1797.1 1041.6,1796.9 1045.0,1796.9 1045.0,1786.7 1047.7,1786.7 1047.7,1792.2 1049.8,1792.2 1049.8,1790.4 1052.0,1790.4 1052.0,1789.8 1054.1,1789.8 1054.1,1788.2 1056.9,1788.2 1056.9,1782.6 1059.6,1782.6 1059.6,1789.4 1062.0,1789.4 1062.0,1790.9 1064.5,1790.9 1064.5,1793.7 1067.0,1793.7 1067.0,1786.7 1069.9,1786.7 1069.9,1789.3 1073.0,1789.3 1073.0,1792.0 1075.7,1792.0 1075.7,1794.1 1078.3,1794.1 1078.3,1795.9 1080.8,1795.9 1080.8,1795.3 1082.9,1795.3 1082.9,1792.3 1085.1,1792.3 1085.1,1784.5 1087.2,1784.5 1087.2,1787.0 1089.4,1787.0 1089.4,1784.8 1092.7,1784.8 1092.7,1781.9 1096.5,1781.9 1096.5,1787.3 1099.7,1787.3 1099.7,1790.0 1102.6,1790.0 1102.6,1782.9 1105.8,1782.9 1105.8,1789.9 1109.0,1789.9 1109.0,1790.7 1112.2,1790.7 1112.2,1795.4 1115.8,1795.4 1115.8,1795.8 1119.5,1795.8 1119.5,1786.3 1122.8,1786.3 1122.8,1793.4 1125.9,1793.4 1125.9,1791.3 1128.5,1791.3 1128.5,1791.3 1130.9,1791.3 1130.9,1791.8 1133.5,1791.8 1133.5,1794.5 1136.1,1794.5 1136.1,1797.2 1138.5,1797.2 1138.5,1795.0 1141.1,1795.0 1141.1,1797.9 1143.3,1797.9 1143.3,1797.3 1146.0,1797.3 1146.0,1796.8 1149.4,1796.8 1149.4,1800.8 1152.0,1800.8 1152.0,1800.7 1154.4,1800.7 1154.4,1801.5 1157.6,1801.5 1157.6,1796.0 1161.1,1796.0 1161.1,1794.8 1164.6,1794.8 1164.6,1792.4 1167.5,1792.4 1167.5,1792.4 1170.4,1792.4 1170.4,1790.6 1173.7,1790.6 1173.7,1789.4 1177.0,1789.4 1177.0,1793.3 1180.2,1793.3 1180.2,1793.0 1182.5,1793.0 1182.5,1797.1 1184.6,1797.1 1184.6,1799.4 1187.6,1799.4 1187.6,1799.4 1190.6,1799.4 1190.6,1797.1 1193.1,1797.1 1193.1,1800.9 1195.4,1800.9 1195.4,1798.3 1198.2,1798.3 1198.2,1798.4 1201.7,1798.4 1201.7,1799.6 1204.5,1799.6 1204.5,1798.4 1207.6,1798.4 1207.6,1799.1 1211.1,1799.1 1211.1,1790.4 1213.5,1790.4 1213.5,1795.2 1216.0,1795.2 1216.0,1795.4 1219.0,1795.4 1219.0,1793.7 1221.7,1793.7 1221.7,1795.4 1224.1,1795.4 1224.1,1796.5 1226.8,1796.5 1226.8,1793.2 1229.8,1793.2 1229.8,1796.4 1232.0,1796.4 1232.0,1794.0 1234.8,1794.0 1234.8,1796.2 1237.7,1796.2 1237.7,1795.7 1239.6,1795.7 1239.6,1795.3 1241.9,1795.3 1241.9,1797.7 1245.3,1797.7 1245.3,1797.9 1248.3,1797.9 1248.3,1800.5 1251.2,1800.5 1251.2,1803.0 1254.2,1803.0 1254.2,1798.8 1256.3,1798.8 1256.3,1795.2 1258.2,1795.2 1258.2,1791.1 1260.8,1791.1 1260.8,1789.4 1263.9,1789.4 1263.9,1794.3 1266.7,1794.3 1266.7,1793.1 1269.9,1793.1 1269.9,1795.5 1273.4,1795.5 1273.4,1795.4 1276.7,1795.4 1276.7,1796.1 1279.3,1796.1 1279.3,1796.6 1281.9,1796.6 1281.9,1799.7 1284.6,1799.7 1284.6,1802.4 1287.4,1802.4 1287.4,1800.6 1289.7,1800.6 1289.7,1799.3 1292.1,1799.3 1292.1,1803.0 1294.6,1803.0 1294.6,1803.3 1297.5,1803.3 1297.5,1794.3 1300.7,1794.3 1300.7,1797.2 1303.9,1797.2 1303.9,1799.6 1306.7,1799.6 1306.7,1799.4 1309.2,1799.4 1309.2,1798.3 1312.2,1798.3 1312.2,1798.4 1315.4,1798.4 1315.4,1796.9 1318.9,1796.9 1318.9,1793.4 1322.3,1793.4 1322.3,1798.3 1325.2,1798.3 1325.2,1789.9 1328.2,1789.9 1328.2,1795.1 1331.5,1795.1 1331.5,1795.7 1334.3,1795.7 1334.3,1794.7 1336.7,1794.7 1336.7,1799.8 1339.2,1799.8 1339.2,1797.8 1341.6,1797.8 1341.6,1795.9 1344.7,1795.9 1344.7,1796.8 1347.7,1796.8 1347.7,1799.1 1350.8,1799.1 1350.8,1800.9 1354.6,1800.9 1354.6,1792.6 1357.4,1792.6 1357.4,1799.2 1359.4,1799.2 1359.4,1798.6 1361.8,1798.6 1361.8,1799.7 1363.9,1799.7 1363.9,1800.6 1366.7,1800.6 1366.7,1798.7 1369.7,1798.7 1369.7,1800.1 1372.7,1800.1 1372.7,1798.9 1375.7,1798.9 1375.7,1794.8 1377.9,1794.8 1377.9,1794.4 1379.9,1794.4 1379.9,1797.8 1382.6,1797.8 1382.6,1796.2 1385.5,1796.2 1385.5,1797.4 1387.7,1797.4 1387.7,1799.2 1390.5,1799.2 1390.5,1795.0 1393.6,1795.0 1393.6,1794.5 1395.9,1794.5 1395.9,1791.2 1398.0,1791.2 1398.0,1796.2 1400.6,1796.2 1400.6,1794.4 1403.0,1794.4 1403.0,1792.5 1405.7,1792.5 1405.7,1796.5 1408.9,1796.5 1408.9,1792.6 1411.8,1792.6 1411.8,1786.1 1413.8,1786.1 1413.8,1791.6 1416.0,1791.6 1416.0,1794.7 1418.1,1794.7 1418.1,1790.5 1420.7,1790.5 1420.7,1791.8 1423.5,1791.8 1423.5,1791.0 1426.2,1791.0 1426.2,1785.9 1428.8,1785.9 1428.8,1793.1 1431.2,1793.1 1431.2,1790.6 1433.5,1790.6 1433.5,1789.8 1435.5,1789.8 1435.5,1792.4 1437.5,1792.4 1437.5,1792.5 1439.8,1792.5 1439.8,1794.5 1442.6,1794.5 1442.6,1792.4 1445.3,1792.4 1445.3,1791.7 1447.5,1791.7 1447.5,1784.3 1449.8,1784.3 1449.8,1796.0 1452.8,1796.0 1452.8,1794.8 1456.4,1794.8 1456.4,1790.6 1459.7,1790.6 1459.7,1781.5 1462.3,1781.5 1462.3,1785.2 1464.5,1785.2 1464.5,1788.4 1466.5,1788.4 1466.5,1790.8 1469.0,1790.8 1469.0,1788.2 1471.4,1788.2 1471.4,1787.4 1473.9,1787.4 1473.9,1786.3 1476.3,1786.3 1476.3,1783.0 1478.4,1783.0 1478.4,1786.2 1480.8,1786.2 1480.8,1784.4 1483.2,1784.4 1483.2,1783.4 1485.5,1783.4 1485.5,1780.0 1488.0,1780.0 1488.0,1783.7 1490.5,1783.7 1490.5,1786.6 1493.6,1786.6 1493.6,1789.2 1497.2,1789.2 1497.2,1784.5 1501.0,1784.5 1501.0,1789.8 1503.8,1789.8 1503.8,1794.4 1506.0,1794.4 1506.0,1791.2 1509.0,1791.2 1509.0,1796.6 1511.6,1796.6 1511.6,1793.7 1514.0,1793.7 1514.0,1796.3 1517.4,1796.3 1517.4,1796.0 1521.1,1796.0 1521.1,1797.6 1523.7,1797.6 1523.7,1795.3 1526.4,1795.3 1526.4,1796.3 1529.2,1796.3 1529.2,1796.3 1531.9,1796.3 1531.9,1790.1 1535.0,1790.1 1535.0,1790.1 1538.0,1790.1 1538.0,1791.7 1541.5,1791.7 1541.5,1784.6 1544.4,1784.6 1544.4,1785.0 1547.0,1785.0 1547.0,1780.1 1550.0,1780.1 1550.0,1777.8 1552.8,1777.8 1552.8,1778.6 1555.6,1778.6 1555.6,1776.9 1558.7,1776.9 1558.7,1773.2 1561.3,1773.2 1561.3,1776.2 1564.1,1776.2 1564.1,1773.3 1567.5,1773.3 1567.5,1779.3 1571.1,1779.3 1571.1,1780.3 1574.4,1780.3 1574.4,1777.3 1576.8,1777.3 1576.8,1781.5 1578.7,1781.5 1578.7,1782.7 1580.9,1782.7 1580.9,1780.3 1583.7,1780.3 1583.7,1779.1 1586.3,1779.1 1586.3,1778.0 1588.3,1778.0 1588.3,1782.6 1590.8,1782.6 1590.8,1783.1 1594.0,1783.1 1594.0,1779.9 1596.8,1779.9 1596.8,1782.0 1599.2,1782.0 1599.2,1776.1 1601.6,1776.1 1601.6,1778.2 1604.7,1778.2 1604.7,1775.4 1608.2,1775.4 1608.2,1776.9 1611.3,1776.9 1611.3,1773.5 1614.2,1773.5 1614.2,1773.4 1617.0,1773.4 1617.0,1774.2 1620.0,1774.2 1620.0,1776.5 1622.9,1776.5 1622.9,1775.5 1626.0,1775.5 1626.0,1775.6 1629.3,1775.6 1629.3,1766.8 1631.8,1766.8 1631.8,1774.1 1634.5,1774.1 1634.5,1770.1 1637.6,1770.1 1637.6,1772.7 1640.2,1772.7 1640.2,1776.1 1643.0,1776.1 1643.0,1774.2 1645.6,1774.2 1645.6,1773.3 1647.6,1773.3 1647.6,1775.2 1650.3,1775.2 1650.3,1775.4 1653.6,1775.4 1653.6,1769.0 1657.4,1769.0 1657.4,1773.0 1660.2,1773.0 1660.2,1773.0 1662.1,1773.0 1662.1,1770.9 1664.5,1770.9 1664.5,1772.4 1666.8,1772.4 1666.8,1766.9 1669.4,1766.9 1669.4,1772.4 1672.8,1772.4 1672.8,1767.9 1676.0,1767.9 1676.0,1772.3 1679.1,1772.3 1679.1,1768.2 1682.4,1768.2 1682.4,1761.6 1685.1,1761.6 1685.1,1771.6 1687.2,1771.6 1687.2,1768.1 1689.8,1768.1 1689.8,1767.2 1692.4,1767.2 1692.4,1768.9 1695.0,1768.9 1695.0,1769.7 1697.8,1769.7 1697.8,1763.9 1701.0,1763.9 1701.0,1764.3 1703.9,1764.3 1703.9,1764.7 1706.4,1764.7 1706.4,1758.2 1709.6,1758.2 1709.6,1761.1 1712.3,1761.1 1712.3,1762.6 1715.1,1762.6 1715.1,1762.0 1718.1,1762.0 1718.1,1762.9 1720.5,1762.9 1720.5,1757.1 1723.1,1757.1 1723.1,1757.9 1725.9,1757.9 1725.9,1758.8 1728.8,1758.8 1728.8,1760.5 1730.9,1760.5 1730.9,1756.0 1733.2,1756.0 1733.2,1748.9 1735.8,1748.9 1735.8,1757.6 1738.9,1757.6 1738.9,1754.8 1742.0,1754.8 1742.0,1752.1 1745.0,1752.1 1745.0,1752.3 1748.4,1752.3 1748.4,1748.6 1751.3,1748.6 1751.3,1743.6 1754.5,1743.6 1754.5,1751.3 1757.6,1751.3 1757.6,1750.6 1759.8,1750.6 1759.8,1750.1 1762.0,1750.1 1762.0,1750.8 1764.4,1750.8 1764.4,1756.1 1766.8,1756.1 1766.8,1755.0 1769.6,1755.0 1769.6,1758.3 1772.5,1758.3 1772.5,1758.8 1774.9,1758.8 1774.9,1761.2 1778.0,1761.2 1778.0,1766.0 1780.8,1766.0 1780.8,1767.1 1783.4,1767.1 1783.4,1763.4 1786.7,1763.4 1786.7,1769.8 1789.6,1769.8 1789.6,1765.9 1792.5,1765.9 1792.5,1768.6 1795.2,1768.6 1795.2,1758.1 1798.3,1758.1 1798.3,1762.7 1802.0,1762.7 1802.0,1762.9 1805.4,1762.9 1805.4,1760.4 1808.8,1760.4 1808.8,1760.6 1811.8,1760.6 1811.8,1754.8 1813.8,1754.8 1813.8,1761.1 1816.0,1761.1 1816.0,1758.0 1818.9,1758.0 1818.9,1761.6 1821.8,1761.6 1821.8,1759.0 1824.8,1759.0 1824.8,1761.6 1828.2,1761.6 1828.2,1766.0 1831.7,1766.0 1831.7,1767.3 1834.6,1767.3 1834.6,1770.5 1836.8,1770.5 1836.8,1766.0 1838.7,1766.0 1838.7,1767.2 1841.2,1767.2 1841.2,1768.4 1844.3,1768.4 1844.3,1767.7 1846.8,1767.7 1846.8,1774.2 1849.3,1774.2 1849.3,1774.9 1851.5,1774.9 1851.5,1771.6 1854.2,1771.6 1854.2,1773.4 1857.4,1773.4 1857.4,1772.6 1860.1,1772.6 1860.1,1768.8 1862.2,1768.8 1862.2,1775.8 1865.0,1775.8 1865.0,1775.5 1868.7,1775.5 1868.7,1775.6 1872.1,1775.6 1872.1,1779.2 1874.5,1779.2 1874.5,1774.9 1877.2,1774.9 1877.2,1773.4 1880.4,1773.4 1880.4,1779.6 1883.2,1779.6 1883.2,1780.0 1885.8,1780.0 1885.8,1776.7 1888.6,1776.7 1888.6,1780.3 1891.7,1780.3 1891.7,1776.8 1894.5,1776.8 1894.5,1777.0 1897.6,1777.0 1897.6,1772.6 1900.2,1772.6 1900.2,1773.5 1902.9,1773.5 1902.9,1776.2 1905.7,1776.2 1905.7,1780.2 1908.5,1780.2 1908.5,1770.0 1911.9,1770.0 1911.9,1777.5 1914.6,1777.5 1914.6,1776.2 1917.1,1776.2 1917.1,1777.5 1920.2,1777.5 1920.2,1777.9 1922.8,1777.9 1922.8,1772.1 1925.1,1772.1 1925.1,1765.9 1927.4,1765.9 1927.4,1773.6 1929.6,1773.6 1929.6,1773.3 1932.6,1773.3 1932.6,1769.3 1935.3,1769.3 1935.3,1769.8 1937.6,1769.8 1937.6,1767.2 1940.0,1767.2 1940.0,1767.0 1942.2,1767.0 1942.2,1765.9 1944.9,1765.9 1944.9,1768.5 1947.1,1768.5 1947.1,1763.9 1949.2,1763.9 1949.2,1768.4 1952.2,1768.4 1952.2,1757.0 1955.1,1757.0 1955.1,1757.3 1957.5,1757.3 1957.5,1765.6 1960.5,1765.6 1960.5,1761.6 1963.3,1761.6 1963.3,1766.4 1965.4,1766.4 1965.4,1755.8 1968.1,1755.8 1968.1,1761.1 1971.2,1761.1 1971.2,1754.0 1974.3,1754.0 1974.3,1760.4 1977.2,1760.4 1977.2,1762.0 1979.4,1762.0 1979.4,1759.0 1982.1,1759.0 1982.1,1759.3 1985.6,1759.3 1985.6,1759.0 1988.7,1759.0 1988.7,1757.6 1991.7,1757.6 1991.7,1752.4 1994.5,1752.4 1994.5,1751.6 1996.3,1751.6 1996.3,1758.5 1998.2,1758.5 1998.2,1761.5 2001.2,1761.5 2001.2,1754.8 2004.2,1754.8 2004.2,1763.4 2007.1,1763.4 2007.1,1757.8 2009.7,1757.8 2009.7,1762.0 2012.5,1762.0 2012.5,1760.9 2015.8,1760.9 2015.8,1758.5 2018.7,1758.5 2018.7,1760.4 2021.5,1760.4 2021.5,1758.4 2024.6,1758.4 2024.6,1759.4 2028.2,1759.4 2028.2,1754.2 2031.0,1754.2 2031.0,1753.4 2033.1,1753.4 2033.1,1758.0 2035.3,1758.0 2035.3,1753.4 2037.5,1753.4 2037.5,1754.0 2040.4,1754.0 2040.4,1746.5 2043.1,1746.5 2043.1,1755.0 2046.0,1755.0 2046.0,1752.5 2048.7,1752.5 2048.7,1751.6 2051.1,1751.6 2051.1,1752.8 2054.1,1752.8 2054.1,1755.4 2056.6,1755.4 2056.6,1756.3 2059.5,1756.3 2059.5,1752.2 2063.3,1752.2 2063.3,1765.5 2066.5,1765.5 2066.5,1766.1 2068.7,1766.1 2068.7,1768.5 2070.8,1768.5 2070.8,1760.2 2073.7,1760.2 2073.7,1768.9 2076.7,1768.9 2076.7,1770.3 2079.6,1770.3 2079.6,1774.6 2082.8,1774.6 2082.8,1772.9 2086.2,1772.9 2086.2,1774.7 2089.3,1774.7 2089.3,1767.7 2091.5,1767.7 2091.5,1774.2 2093.8,1774.2 2093.8,1774.5 2096.4,1774.5 2096.4,1772.6 2098.6,1772.6 2098.6,1773.5 2101.4,1773.5 2101.4,1767.9 2104.2,1767.9 2104.2,1773.6 2106.3,1773.6 2106.3,1772.3 2109.2,1772.3 2109.2,1772.0 2112.4,1772.0 2112.4,1773.9 2115.6,1773.9 2115.6,1769.3 2118.5,1769.3 2118.5,1775.3 2120.5,1775.3 2120.5,1771.2 2122.4,1771.2 2122.4,1770.5 2125.1,1770.5 2125.1,1774.7 2127.7,1774.7 2127.7,1773.6 2130.1,1773.6 2130.1,1770.4 2132.9,1770.4 2132.9,1766.8 2135.9,1766.8 2135.9,1768.1 2139.3,1768.1 2139.3,1772.7 2142.1,1772.7 2142.1,1768.8 2144.2,1768.8 2144.2,1764.8 2146.7,1764.8 2146.7,1768.5 2149.7,1768.5 2149.7,1765.9 2152.4,1765.9 2152.4,1769.3 2155.4,1769.3 2155.4,1765.8 2158.9,1765.8 2158.9,1764.6 2161.6,1764.6 2161.6,1766.3 2164.3,1766.3 2164.3,1767.0 2167.3,1767.0 2167.3,1768.8 2170.2,1768.8 2170.2,1767.8 2173.6,1767.8 2173.6,1771.9 2176.5,1771.9 2176.5,1771.3 2178.9,1771.3 2178.9,1769.5 2181.3,1769.5 2181.3,1773.7 2184.4,1773.7 2184.4,1769.1 2187.2,1769.1 2187.2,1770.1 2189.6,1770.1 2189.6,1773.4 2192.9,1773.4 2192.9,1773.2 2195.9,1773.2 2195.9,1774.0 2198.9,1774.0 2198.9,1772.1 2201.9,1772.1 2201.9,1774.4 2204.9,1774.4 2204.9,1766.4 2207.5,1766.4 2207.5,1774.6 2209.3,1774.6 2209.3,1773.3 2211.1,1773.3 2211.1,1770.3 2213.3,1770.3 2213.3,1768.1 2215.8,1768.1 2215.8,1771.1 2218.8,1771.1 2218.8,1762.2 2221.8,1762.2 2221.8,1769.2 2224.0,1769.2 2224.0,1765.9 2226.5,1765.9 2226.5,1769.2 2229.3,1769.2 2229.3,1766.6 2232.1,1766.6 2232.1,1770.1 2235.4,1770.1 2235.4,1765.6 2238.3,1765.6 2238.3,1769.4 2240.1,1769.4 2240.1,1764.9 2242.5,1764.9 2242.5,1768.2 2245.2,1768.2 2245.2,1768.6 2247.7,1768.6 2247.7,1764.9 2250.8,1764.9 2250.8,1769.3 2254.2,1769.3 2254.2,1765.3 2257.0,1765.3 2257.0,1760.2 2260.1,1760.2 2260.1,1756.7 2263.4,1756.7 2263.4,1752.9 2266.5,1752.9 2266.5,1751.9 2269.6,1751.9 2269.6,1760.8 2272.1,1760.8 2272.1,1763.0 2275.0,1763.0 2275.0,1763.9 2277.8,1763.9 2277.8,1767.7 2279.9,1767.7 2279.9,1762.7 2282.9,1762.7 2282.9,1767.8 2285.4,1767.8 2285.4,1765.8 2287.2,1765.8 2287.2,1768.7 2290.1,1768.7 2290.1,1774.0 2293.8,1774.0 2293.8,1772.7 2296.7,1772.7 2296.7,1774.5 2299.6,1774.5 2299.6,1770.6 2301.2,1770.6 2301.2,1797.8 2299.6,1797.8 2299.6,1794.6 2296.7,1794.6 2296.7,1798.8 2293.8,1798.8 2293.8,1796.0 2290.1,1796.0 2290.1,1795.5 2287.2,1795.5 2287.2,1797.2 2285.4,1797.2 2285.4,1792.4 2282.9,1792.4 2282.9,1791.7 2279.9,1791.7 2279.9,1791.5 2277.8,1791.5 2277.8,1796.5 2275.0,1796.5 2275.0,1789.9 2272.1,1789.9 2272.1,1784.2 2269.6,1784.2 2269.6,1784.1 2266.5,1784.1 2266.5,1780.5 2263.4,1780.5 2263.4,1785.8 2260.1,1785.8 2260.1,1781.9 2257.0,1781.9 2257.0,1785.2 2254.2,1785.2 2254.2,1785.5 2250.8,1785.5 2250.8,1788.7 2247.7,1788.7 2247.7,1791.6 2245.2,1791.6 2245.2,1785.8 2242.5,1785.8 2242.5,1790.2 2240.1,1790.2 2240.1,1785.6 2238.3,1785.6 2238.3,1789.7 2235.4,1789.7 2235.4,1787.7 2232.1,1787.7 2232.1,1793.0 2229.3,1793.0 2229.3,1791.9 2226.5,1791.9 2226.5,1791.3 2224.0,1791.3 2224.0,1792.3 2221.8,1792.3 2221.8,1790.6 2218.8,1790.6 2218.8,1791.3 2215.8,1791.3 2215.8,1799.8 2213.3,1799.8 2213.3,1794.6 2211.1,1794.6 2211.1,1796.1 2209.3,1796.1 2209.3,1793.5 2207.5,1793.5 2207.5,1798.4 2204.9,1798.4 2204.9,1796.6 2201.9,1796.6 2201.9,1801.3 2198.9,1801.3 2198.9,1796.0 2195.9,1796.0 2195.9,1796.9 2192.9,1796.9 2192.9,1794.5 2189.6,1794.5 2189.6,1795.7 2187.2,1795.7 2187.2,1794.0 2184.4,1794.0 2184.4,1794.7 2181.3,1794.7 2181.3,1789.5 2178.9,1789.5 2178.9,1789.8 2176.5,1789.8 2176.5,1793.7 2173.6,1793.7 2173.6,1789.4 2170.2,1789.4 2170.2,1800.7 2167.3,1800.7 2167.3,1791.6 2164.3,1791.6 2164.3,1791.9 2161.6,1791.9 2161.6,1790.5 2158.9,1790.5 2158.9,1792.4 2155.4,1792.4 2155.4,1789.5 2152.4,1789.5 2152.4,1791.3 2149.7,1791.3 2149.7,1798.2 2146.7,1798.2 2146.7,1789.6 2144.2,1789.6 2144.2,1792.8 2142.1,1792.8 2142.1,1789.3 2139.3,1789.3 2139.3,1795.2 2135.9,1795.2 2135.9,1791.4 2132.9,1791.4 2132.9,1792.7 2130.1,1792.7 2130.1,1791.9 2127.7,1791.9 2127.7,1800.4 2125.1,1800.4 2125.1,1793.8 2122.4,1793.8 2122.4,1799.1 2120.5,1799.1 2120.5,1798.0 2118.5,1798.0 2118.5,1792.6 2115.6,1792.6 2115.6,1793.8 2112.4,1793.8 2112.4,1797.0 2109.2,1797.0 2109.2,1794.3 2106.3,1794.3 2106.3,1803.8 2104.2,1803.8 2104.2,1793.6 2101.4,1793.6 2101.4,1793.2 2098.6,1793.2 2098.6,1797.9 2096.4,1797.9 2096.4,1794.6 2093.8,1794.6 2093.8,1794.3 2091.5,1794.3 2091.5,1798.7 2089.3,1798.7 2089.3,1797.4 2086.2,1797.4 2086.2,1799.5 2082.8,1799.5 2082.8,1801.3 2079.6,1801.3 2079.6,1800.8 2076.7,1800.8 2076.7,1794.6 2073.7,1794.6 2073.7,1800.6 2070.8,1800.6 2070.8,1797.7 2068.7,1797.7 2068.7,1796.6 2066.5,1796.6 2066.5,1794.5 2063.3,1794.5 2063.3,1789.2 2059.5,1789.2 2059.5,1788.9 2056.6,1788.9 2056.6,1786.7 2054.1,1786.7 2054.1,1793.3 2051.1,1793.3 2051.1,1784.5 2048.7,1784.5 2048.7,1783.7 2046.0,1783.7 2046.0,1784.3 2043.1,1784.3 2043.1,1787.3 2040.4,1787.3 2040.4,1785.7 2037.5,1785.7 2037.5,1786.6 2035.3,1786.6 2035.3,1784.0 2033.1,1784.0 2033.1,1782.5 2031.0,1782.5 2031.0,1786.1 2028.2,1786.1 2028.2,1784.0 2024.6,1784.0 2024.6,1791.8 2021.5,1791.8 2021.5,1789.0 2018.7,1789.0 2018.7,1788.8 2015.8,1788.8 2015.8,1789.7 2012.5,1789.7 2012.5,1795.7 2009.7,1795.7 2009.7,1790.8 2007.1,1790.8 2007.1,1787.7 2004.2,1787.7 2004.2,1788.6 2001.2,1788.6 2001.2,1787.8 1998.2,1787.8 1998.2,1784.7 1996.3,1784.7 1996.3,1786.8 1994.5,1786.8 1994.5,1786.5 1991.7,1786.5 1991.7,1786.8 1988.7,1786.8 1988.7,1786.8 1985.6,1786.8 1985.6,1788.3 1982.1,1788.3 1982.1,1788.3 1979.4,1788.3 1979.4,1788.8 1977.2,1788.8 1977.2,1785.8 1974.3,1785.8 1974.3,1786.9 1971.2,1786.9 1971.2,1786.5 1968.1,1786.5 1968.1,1786.6 1965.4,1786.6 1965.4,1789.3 1963.3,1789.3 1963.3,1792.1 1960.5,1792.1 1960.5,1789.6 1957.5,1789.6 1957.5,1789.6 1955.1,1789.6 1955.1,1790.3 1952.2,1790.3 1952.2,1792.5 1949.2,1792.5 1949.2,1791.0 1947.1,1791.0 1947.1,1797.4 1944.9,1797.4 1944.9,1791.5 1942.2,1791.5 1942.2,1791.0 1940.0,1791.0 1940.0,1791.1 1937.6,1791.1 1937.6,1793.2 1935.3,1793.2 1935.3,1791.0 1932.6,1791.0 1932.6,1789.4 1929.6,1789.4 1929.6,1795.1 1927.4,1795.1 1927.4,1797.2 1925.1,1797.2 1925.1,1795.6 1922.8,1795.6 1922.8,1794.0 1920.2,1794.0 1920.2,1794.1 1917.1,1794.1 1917.1,1795.1 1914.6,1795.1 1914.6,1792.5 1911.9,1792.5 1911.9,1794.0 1908.5,1794.0 1908.5,1797.3 1905.7,1797.3 1905.7,1797.2 1902.9,1797.2 1902.9,1803.8 1900.2,1803.8 1900.2,1798.0 1897.6,1798.0 1897.6,1801.6 1894.5,1801.6 1894.5,1799.8 1891.7,1799.8 1891.7,1798.5 1888.6,1798.5 1888.6,1798.4 1885.8,1798.4 1885.8,1798.1 1883.2,1798.1 1883.2,1796.9 1880.4,1796.9 1880.4,1799.9 1877.2,1799.9 1877.2,1802.9 1874.5,1802.9 1874.5,1808.5 1872.1,1808.5 1872.1,1801.4 1868.7,1801.4 1868.7,1804.7 1865.0,1804.7 1865.0,1798.2 1862.2,1798.2 1862.2,1807.6 1860.1,1807.6 1860.1,1801.1 1857.4,1801.1 1857.4,1798.2 1854.2,1798.2 1854.2,1798.1 1851.5,1798.1 1851.5,1797.6 1849.3,1797.6 1849.3,1799.2 1846.8,1799.2 1846.8,1796.3 1844.3,1796.3 1844.3,1796.3 1841.2,1796.3 1841.2,1794.6 1838.7,1794.6 1838.7,1795.6 1836.8,1795.6 1836.8,1795.0 1834.6,1795.0 1834.6,1793.1 1831.7,1793.1 1831.7,1792.2 1828.2,1792.2 1828.2,1796.3 1824.8,1796.3 1824.8,1789.3 1821.8,1789.3 1821.8,1788.6 1818.9,1788.6 1818.9,1787.2 1816.0,1787.2 1816.0,1789.2 1813.8,1789.2 1813.8,1790.0 1811.8,1790.0 1811.8,1794.9 1808.8,1794.9 1808.8,1797.8 1805.4,1797.8 1805.4,1795.0 1802.0,1795.0 1802.0,1796.0 1798.3,1796.0 1798.3,1790.5 1795.2,1790.5 1795.2,1792.4 1792.5,1792.4 1792.5,1799.2 1789.6,1799.2 1789.6,1790.1 1786.7,1790.1 1786.7,1789.7 1783.4,1789.7 1783.4,1790.2 1780.8,1790.2 1780.8,1795.6 1778.0,1795.6 1778.0,1790.7 1774.9,1790.7 1774.9,1788.3 1772.5,1788.3 1772.5,1786.0 1769.6,1786.0 1769.6,1785.8 1766.8,1785.8 1766.8,1782.2 1764.4,1782.2 1764.4,1785.3 1762.0,1785.3 1762.0,1780.5 1759.8,1780.5 1759.8,1781.2 1757.6,1781.2 1757.6,1781.1 1754.5,1781.1 1754.5,1777.2 1751.3,1777.2 1751.3,1781.7 1748.4,1781.7 1748.4,1778.5 1745.0,1778.5 1745.0,1778.6 1742.0,1778.6 1742.0,1784.5 1738.9,1784.5 1738.9,1783.9 1735.8,1783.9 1735.8,1785.2 1733.2,1785.2 1733.2,1792.0 1730.9,1792.0 1730.9,1784.1 1728.8,1784.1 1728.8,1789.8 1725.9,1789.8 1725.9,1789.2 1723.1,1789.2 1723.1,1786.9 1720.5,1786.9 1720.5,1792.7 1718.1,1792.7 1718.1,1789.6 1715.1,1789.6 1715.1,1794.0 1712.3,1794.0 1712.3,1791.1 1709.6,1791.1 1709.6,1792.8 1706.4,1792.8 1706.4,1798.9 1703.9,1798.9 1703.9,1795.3 1701.0,1795.3 1701.0,1794.3 1697.8,1794.3 1697.8,1795.3 1695.0,1795.3 1695.0,1793.1 1692.4,1793.1 1692.4,1801.6 1689.8,1801.6 1689.8,1798.7 1687.2,1798.7 1687.2,1795.0 1685.1,1795.0 1685.1,1797.9 1682.4,1797.9 1682.4,1794.6 1679.1,1794.6 1679.1,1799.5 1676.0,1799.5 1676.0,1797.2 1672.8,1797.2 1672.8,1802.8 1669.4,1802.8 1669.4,1798.1 1666.8,1798.1 1666.8,1796.7 1664.5,1796.7 1664.5,1796.9 1662.1,1796.9 1662.1,1802.2 1660.2,1802.2 1660.2,1797.6 1657.4,1797.6 1657.4,1800.4 1653.6,1800.4 1653.6,1804.2 1650.3,1804.2 1650.3,1800.9 1647.6,1800.9 1647.6,1796.5 1645.6,1796.5 1645.6,1796.6 1643.0,1796.6 1643.0,1796.9 1640.2,1796.9 1640.2,1800.0 1637.6,1800.0 1637.6,1799.3 1634.5,1799.3 1634.5,1798.4 1631.8,1798.4 1631.8,1798.9 1629.3,1798.9 1629.3,1806.2 1626.0,1806.2 1626.0,1804.0 1622.9,1804.0 1622.9,1809.1 1620.0,1809.1 1620.0,1801.3 1617.0,1801.3 1617.0,1804.7 1614.2,1804.7 1614.2,1809.2 1611.3,1809.2 1611.3,1803.2 1608.2,1803.2 1608.2,1806.2 1604.7,1806.2 1604.7,1801.5 1601.6,1801.5 1601.6,1807.6 1599.2,1807.6 1599.2,1813.8 1596.8,1813.8 1596.8,1809.7 1594.0,1809.7 1594.0,1807.8 1590.8,1807.8 1590.8,1806.0 1588.3,1806.0 1588.3,1807.1 1586.3,1807.1 1586.3,1808.7 1583.7,1808.7 1583.7,1807.5 1580.9,1807.5 1580.9,1808.1 1578.7,1808.1 1578.7,1808.0 1576.8,1808.0 1576.8,1806.1 1574.4,1806.1 1574.4,1812.1 1571.1,1812.1 1571.1,1804.8 1567.5,1804.8 1567.5,1804.7 1564.1,1804.7 1564.1,1812.0 1561.3,1812.0 1561.3,1804.6 1558.7,1804.6 1558.7,1804.6 1555.6,1804.6 1555.6,1807.2 1552.8,1807.2 1552.8,1810.8 1550.0,1810.8 1550.0,1808.5 1547.0,1808.5 1547.0,1812.8 1544.4,1812.8 1544.4,1814.5 1541.5,1814.5 1541.5,1816.7 1538.0,1816.7 1538.0,1813.9 1535.0,1813.9 1535.0,1814.3 1531.9,1814.3 1531.9,1818.5 1529.2,1818.5 1529.2,1815.6 1526.4,1815.6 1526.4,1818.1 1523.7,1818.1 1523.7,1819.3 1521.1,1819.3 1521.1,1817.5 1517.4,1817.5 1517.4,1814.6 1514.0,1814.6 1514.0,1815.5 1511.6,1815.5 1511.6,1816.6 1509.0,1816.6 1509.0,1815.9 1506.0,1815.9 1506.0,1811.9 1503.8,1811.9 1503.8,1821.1 1501.0,1821.1 1501.0,1813.8 1497.2,1813.8 1497.2,1814.6 1493.6,1814.6 1493.6,1813.5 1490.5,1813.5 1490.5,1813.8 1488.0,1813.8 1488.0,1813.2 1485.5,1813.2 1485.5,1811.9 1483.2,1811.9 1483.2,1806.2 1480.8,1806.2 1480.8,1807.9 1478.4,1807.9 1478.4,1806.0 1476.3,1806.0 1476.3,1810.1 1473.9,1810.1 1473.9,1815.9 1471.4,1815.9 1471.4,1806.6 1469.0,1806.6 1469.0,1807.7 1466.5,1807.7 1466.5,1815.7 1464.5,1815.7 1464.5,1814.1 1462.3,1814.1 1462.3,1811.7 1459.7,1811.7 1459.7,1812.0 1456.4,1812.0 1456.4,1814.8 1452.8,1814.8 1452.8,1816.2 1449.8,1816.2 1449.8,1814.0 1447.5,1814.0 1447.5,1822.9 1445.3,1822.9 1445.3,1822.5 1442.6,1822.5 1442.6,1814.6 1439.8,1814.6 1439.8,1810.4 1437.5,1810.4 1437.5,1810.8 1435.5,1810.8 1435.5,1810.5 1433.5,1810.5 1433.5,1817.5 1431.2,1817.5 1431.2,1814.1 1428.8,1814.1 1428.8,1810.2 1426.2,1810.2 1426.2,1818.8 1423.5,1818.8 1423.5,1812.9 1420.7,1812.9 1420.7,1813.2 1418.1,1813.2 1418.1,1812.4 1416.0,1812.4 1416.0,1813.8 1413.8,1813.8 1413.8,1814.1 1411.8,1814.1 1411.8,1823.2 1408.9,1823.2 1408.9,1813.7 1405.7,1813.7 1405.7,1823.3 1403.0,1823.3 1403.0,1820.0 1400.6,1820.0 1400.6,1818.2 1398.0,1818.2 1398.0,1818.2 1395.9,1818.2 1395.9,1817.7 1393.6,1817.7 1393.6,1816.3 1390.5,1816.3 1390.5,1819.3 1387.7,1819.3 1387.7,1818.9 1385.5,1818.9 1385.5,1826.3 1382.6,1826.3 1382.6,1821.2 1379.9,1821.2 1379.9,1817.8 1377.9,1817.8 1377.9,1816.8 1375.7,1816.8 1375.7,1816.8 1372.7,1816.8 1372.7,1819.1 1369.7,1819.1 1369.7,1822.0 1366.7,1822.0 1366.7,1821.0 1363.9,1821.0 1363.9,1827.0 1361.8,1827.0 1361.8,1819.7 1359.4,1819.7 1359.4,1823.6 1357.4,1823.6 1357.4,1821.1 1354.6,1821.1 1354.6,1819.0 1350.8,1819.0 1350.8,1828.7 1347.7,1828.7 1347.7,1821.4 1344.7,1821.4 1344.7,1819.1 1341.6,1819.1 1341.6,1824.5 1339.2,1824.5 1339.2,1821.6 1336.7,1821.6 1336.7,1821.5 1334.3,1821.5 1334.3,1821.5 1331.5,1821.5 1331.5,1825.3 1328.2,1825.3 1328.2,1824.8 1325.2,1824.8 1325.2,1823.3 1322.3,1823.3 1322.3,1822.5 1318.9,1822.5 1318.9,1822.9 1315.4,1822.9 1315.4,1824.5 1312.2,1824.5 1312.2,1822.5 1309.2,1822.5 1309.2,1825.3 1306.7,1825.3 1306.7,1823.6 1303.9,1823.6 1303.9,1824.6 1300.7,1824.6 1300.7,1833.5 1297.5,1833.5 1297.5,1826.1 1294.6,1826.1 1294.6,1826.4 1292.1,1826.4 1292.1,1826.6 1289.7,1826.6 1289.7,1825.5 1287.4,1825.5 1287.4,1824.7 1284.6,1824.7 1284.6,1828.5 1281.9,1828.5 1281.9,1821.3 1279.3,1821.3 1279.3,1823.7 1276.7,1823.7 1276.7,1830.1 1273.4,1830.1 1273.4,1823.1 1269.9,1823.1 1269.9,1824.1 1266.7,1824.1 1266.7,1823.7 1263.9,1823.7 1263.9,1831.8 1260.8,1831.8 1260.8,1826.9 1258.2,1826.9 1258.2,1824.2 1256.3,1824.2 1256.3,1823.9 1254.2,1823.9 1254.2,1826.0 1251.2,1826.0 1251.2,1824.1 1248.3,1824.1 1248.3,1826.9 1245.3,1826.9 1245.3,1821.8 1241.9,1821.8 1241.9,1820.6 1239.6,1820.6 1239.6,1825.8 1237.7,1825.8 1237.7,1819.9 1234.8,1819.9 1234.8,1823.1 1232.0,1823.1 1232.0,1821.5 1229.8,1821.5 1229.8,1824.1 1226.8,1824.1 1226.8,1825.8 1224.1,1825.8 1224.1,1822.1 1221.7,1822.1 1221.7,1821.7 1219.0,1821.7 1219.0,1826.3 1216.0,1826.3 1216.0,1823.5 1213.5,1823.5 1213.5,1823.4 1211.1,1823.4 1211.1,1822.1 1207.6,1822.1 1207.6,1824.6 1204.5,1824.6 1204.5,1828.5 1201.7,1828.5 1201.7,1821.5 1198.2,1821.5 1198.2,1822.3 1195.4,1822.3 1195.4,1823.1 1193.1,1823.1 1193.1,1824.6 1190.6,1824.6 1190.6,1826.2 1187.6,1826.2 1187.6,1826.0 1184.6,1826.0 1184.6,1825.9 1182.5,1825.9 1182.5,1824.2 1180.2,1824.2 1180.2,1823.1 1177.0,1823.1 1177.0,1830.5 1173.7,1830.5 1173.7,1827.4 1170.4,1827.4 1170.4,1826.3 1167.5,1826.3 1167.5,1826.0 1164.6,1826.0 1164.6,1833.0 1161.1,1833.0 1161.1,1825.4 1157.6,1825.4 1157.6,1826.8 1154.4,1826.8 1154.4,1828.6 1152.0,1828.6 1152.0,1829.1 1149.4,1829.1 1149.4,1830.5 1146.0,1830.5 1146.0,1828.0 1143.3,1828.0 1143.3,1827.6 1141.1,1827.6 1141.1,1823.6 1138.5,1823.6 1138.5,1824.4 1136.1,1824.4 1136.1,1824.4 1133.5,1824.4 1133.5,1831.8 1130.9,1831.8 1130.9,1823.1 1128.5,1823.1 1128.5,1829.3 1125.9,1829.3 1125.9,1822.3 1122.8,1822.3 1122.8,1823.4 1119.5,1823.4 1119.5,1827.5 1115.8,1827.5 1115.8,1824.0 1112.2,1824.0 1112.2,1825.9 1109.0,1825.9 1109.0,1823.2 1105.8,1823.2 1105.8,1820.0 1102.6,1820.0 1102.6,1820.3 1099.7,1820.3 1099.7,1819.3 1096.5,1819.3 1096.5,1811.9 1092.7,1811.9 1092.7,1810.5 1089.4,1810.5 1089.4,1812.7 1087.2,1812.7 1087.2,1810.6 1085.1,1810.6 1085.1,1811.5 1082.9,1811.5 1082.9,1813.7 1080.8,1813.7 1080.8,1818.0 1078.3,1818.0 1078.3,1816.8 1075.7,1816.8 1075.7,1815.7 1073.0,1815.7 1073.0,1821.5 1069.9,1821.5 1069.9,1820.1 1067.0,1820.1 1067.0,1818.5 1064.5,1818.5 1064.5,1816.9 1062.0,1816.9 1062.0,1819.1 1059.6,1819.1 1059.6,1821.9 1056.9,1821.9 1056.9,1825.3 1054.1,1825.3 1054.1,1821.0 1052.0,1821.0 1052.0,1821.2 1049.8,1821.2 1049.8,1823.6 1047.7,1823.6 1047.7,1825.6 1045.0,1825.6 1045.0,1824.7 1041.6,1824.7 1041.6,1827.2 1038.4,1827.2 1038.4,1826.1 1035.5,1826.1 1035.5,1827.2 1032.8,1827.2 1032.8,1827.8 1030.1,1827.8 1030.1,1830.9 1027.8,1830.9 1027.8,1837.8 1025.7,1837.8 1025.7,1830.5 1023.0,1830.5 1023.0,1830.3 1019.6,1830.3 1019.6,1824.8 1016.2,1824.8 1016.2,1826.4 1013.5,1826.4 1013.5,1822.6 1011.0,1822.6 1011.0,1823.7 1007.8,1823.7 1007.8,1825.4 1005.4,1825.4 1005.4,1824.5 1002.6,1824.5 1002.6,1830.2 999.3,1830.2 999.3,1833.7 996.0,1833.7 996.0,1833.3 993.3,1833.3 993.3,1830.6 991.0,1830.6 991.0,1838.5 987.9,1838.5 987.9,1832.8 984.5,1832.8 984.5,1834.6 981.3,1834.6 981.3,1834.5 978.5,1834.5 978.5,1834.5 976.1,1834.5 976.1,1833.3 974.0,1833.3 974.0,1829.2 971.8,1829.2 971.8,1826.9 968.9,1826.9 968.9,1830.0 965.7,1830.0 965.7,1827.3 962.9,1827.3 962.9,1832.5 959.6,1832.5 959.6,1833.2 956.4,1833.2 956.4,1824.9 954.4,1824.9 954.4,1829.6 951.6,1829.6 951.6,1827.0 948.1,1827.0 948.1,1827.9 945.0,1827.9 945.0,1829.5 942.6,1829.5 942.6,1824.3 940.6,1824.3 940.6,1824.0 938.1,1824.0 938.1,1827.0 935.1,1827.0 935.1,1820.6 932.4,1820.6 932.4,1821.8 929.7,1821.8 929.7,1821.2 926.7,1821.2 926.7,1815.7 923.7,1815.7 923.7,1814.5 921.3,1814.5 921.3,1809.4 918.9,1809.4 918.9,1804.6 916.4,1804.6 916.4,1802.6 914.1,1802.6 914.1,1805.5 911.8,1805.5 911.8,1812.9 909.7,1812.9 909.7,1806.9 906.8,1806.9 906.8,1813.4 903.6,1813.4 903.6,1816.0 900.8,1816.0 900.8,1819.2 897.7,1819.2 897.7,1817.9 894.9,1817.9 894.9,1813.8 892.0,1813.8 892.0,1813.4 888.8,1813.4 888.8,1816.2 885.5,1816.2 885.5,1817.3 882.0,1817.3 882.0,1821.6 878.5,1821.6 878.5,1819.7 875.3,1819.7 875.3,1824.0 872.8,1824.0 872.8,1819.6 869.9,1819.6 869.9,1817.4 866.4,1817.4 866.4,1814.6 863.5,1814.6 863.5,1817.2 861.2,1817.2 861.2,1815.6 858.3,1815.6 858.3,1813.2 855.0,1813.2 855.0,1808.1 852.4,1808.1 852.4,1805.2 849.8,1805.2 849.8,1803.1 846.8,1803.1 846.8,1802.6 844.3,1802.6 844.3,1810.5 841.2,1810.5 841.2,1806.9 838.5,1806.9 838.5,1815.1 835.8,1815.1 835.8,1809.4 832.8,1809.4 832.8,1812.8 830.4,1812.8 830.4,1812.9 827.8,1812.9 827.8,1813.6 824.4,1813.6 824.4,1812.0 820.8,1812.0 820.8,1816.2 817.4,1816.2 817.4,1805.0 814.3,1805.0 814.3,1802.4 812.0,1802.4 812.0,1802.6 810.1,1802.6 810.1,1803.9 807.3,1803.9 807.3,1807.3 804.0,1807.3 804.0,1809.3 800.7,1809.3 800.7,1809.8 797.2,1809.8 797.2,1806.4 794.1,1806.4 794.1,1810.9 790.9,1810.9 790.9,1810.3 787.8,1810.3 787.8,1807.2 785.5,1807.2 785.5,1806.7 783.0,1806.7 783.0,1814.6 780.4,1814.6 780.4,1809.2 777.5,1809.2 777.5,1810.6 773.8,1810.6 773.8,1809.2 770.3,1809.2 770.3,1808.7 767.8,1808.7 767.8,1811.5 765.6,1811.5 765.6,1809.1 763.3,1809.1 763.3,1816.3 760.5,1816.3 760.5,1811.4 757.3,1811.4 757.3,1816.3 755.1,1816.3 755.1,1816.2 753.1,1816.2 753.1,1814.5 751.1,1814.5 751.1,1817.6 749.2,1817.6 749.2,1815.6 746.4,1815.6 746.4,1827.2 743.5,1827.2 743.5,1817.8 740.6,1817.8 740.6,1816.8 737.1,1816.8 737.1,1815.9 733.5,1815.9 733.5,1817.5 730.3,1817.5 730.3,1820.6 727.4,1820.6 727.4,1825.7 723.9,1825.7 723.9,1819.0 720.7,1819.0 720.7,1820.4 717.5,1820.4 717.5,1821.9 714.2,1821.9 714.2,1819.3 711.0,1819.3 711.0,1818.4 708.4,1818.4 708.4,1818.3 706.3,1818.3 706.3,1819.0 704.1,1819.0 704.1,1826.4 702.2,1826.4 702.2,1822.7 699.8,1822.7 699.8,1822.2 696.9,1822.2 696.9,1824.2 693.6,1824.2 693.6,1824.1 691.0,1824.1 691.0,1831.0 688.7,1831.0 688.7,1824.3 686.3,1824.3 686.3,1822.0 684.3,1822.0 684.3,1824.8 681.7,1824.8 681.7,1822.3 678.3,1822.3 678.3,1820.9 675.6,1820.9 675.6,1820.4 673.0,1820.4 673.0,1815.4 670.6,1815.4 670.6,1816.8 668.2,1816.8 668.2,1818.1 665.4,1818.1 665.4,1814.3 662.5,1814.3 662.5,1814.2 659.5,1814.2 659.5,1818.1 656.7,1818.1 656.7,1823.4 654.6,1823.4 654.6,1814.3 652.1,1814.3 652.1,1821.7 649.4,1821.7 649.4,1817.4 646.3,1817.4 646.3,1815.4 643.3,1815.4 643.3,1810.7 641.2,1810.7 641.2,1810.7 639.0,1810.7 639.0,1813.6 636.5,1813.6 636.5,1812.0 634.5,1812.0 634.5,1812.9 631.7,1812.9 631.7,1813.2 628.3,1813.2 628.3,1809.9 624.9,1809.9 624.9,1814.7 621.9,1814.7 621.9,1813.0 618.7,1813.0 618.7,1811.8 615.8,1811.8 615.8,1814.4 613.7,1814.4 613.7,1819.1 611.8,1819.1 611.8,1814.9 609.9,1814.9 609.9,1816.5 607.4,1816.5 607.4,1822.0 604.2,1822.0 604.2,1821.1 601.1,1821.1 601.1,1823.7 598.6,1823.7 598.6,1821.7 595.6,1821.7 595.6,1823.8 592.7,1823.8 592.7,1822.0 590.2,1822.0 590.2,1819.9 587.9,1819.9 587.9,1825.0 585.1,1825.0 585.1,1824.2 582.5,1824.2 582.5,1829.0 579.8,1829.0 579.8,1835.7 576.3,1835.7 576.3,1826.7 573.1,1826.7 573.1,1829.4 571.0,1829.4 571.0,1832.3 568.5,1832.3 568.5,1833.2 565.3,1833.2 565.3,1831.4 561.9,1831.4 561.9,1833.3 558.9,1833.3 558.9,1834.1 555.8,1834.1 555.8,1836.0 553.0,1836.0 553.0,1839.3 550.9,1839.3 550.9,1834.6 548.6,1834.6 548.6,1829.7 546.2,1829.7 546.2,1829.2 543.7,1829.2 543.7,1830.8 540.6,1830.8 540.6,1831.3 537.3,1831.3 537.3,1834.1 533.9,1834.1 533.9,1835.0 530.4,1835.0 530.4,1837.3 527.9,1837.3 527.9,1834.4 525.5,1834.4 525.5,1832.3 522.7,1832.3 522.7,1834.6 520.7,1834.6 520.7,1836.4 518.1,1836.4 518.1,1835.3 514.7,1835.3 514.7,1837.9 511.4,1837.9 511.4,1834.4 508.3,1834.4 508.3,1833.6 505.2,1833.6 505.2,1837.7 502.4,1837.7 502.4,1832.2 499.4,1832.2 499.4,1835.8 496.5,1835.8 496.5,1831.1 493.5,1831.1 493.5,1834.4 490.3,1834.4 490.3,1831.5 487.9,1831.5 487.9,1827.3 485.0,1827.3 485.0,1831.2 481.6,1831.2 481.6,1828.7 478.4,1828.7 478.4,1827.7 474.9,1827.7 474.9,1832.5 472.0,1832.5 472.0,1831.4 469.6,1831.4 469.6,1828.9 467.0,1828.9 467.0,1832.0 463.9,1832.0 463.9,1832.8 460.5,1832.8 460.5,1829.3 458.0,1829.3 458.0,1831.4 455.4,1831.4 455.4,1832.6 452.6,1832.6 452.6,1831.4 449.5,1831.4 449.5,1833.3 445.9,1833.3 445.9,1831.2 443.1,1831.2 443.1,1830.5 440.3,1830.5 440.3,1833.2 437.3,1833.2 437.3,1829.4 434.1,1829.4 434.1,1826.0 431.4,1826.0 431.4,1828.2 428.7,1828.2 428.7,1830.8 425.3,1830.8 425.3,1824.8 422.8,1824.8 422.8,1828.6 420.1,1828.6 420.1,1830.3 416.6,1830.3 416.6,1832.5 413.6,1832.5 413.6,1832.8 410.7,1832.8 410.7,1835.7 407.6,1835.7 407.6,1834.1 405.4,1834.1 405.4,1834.5 403.2,1834.5 403.2,1838.4 400.0,1838.4 400.0,1837.5 396.5,1837.5 396.5,1839.7 393.2,1839.7 393.2,1834.8 389.9,1834.8 389.9,1837.1 386.7,1837.1 386.7,1843.3 384.6,1843.3 384.6,1836.9 382.2,1836.9 382.2,1834.6 379.8,1834.6 379.8,1836.4 377.7,1836.4 377.7,1835.3 374.7,1835.3 374.7,1834.2 372.0,1834.2 372.0,1844.2 369.5,1844.2 369.5,1833.9 366.2,1833.9 366.2,1842.0 363.1,1842.0 363.1,1829.2 359.6,1829.2 359.6,1833.9 356.0,1833.9 356.0,1832.6 352.3,1832.6 352.3,1832.0 349.1,1832.0 349.1,1832.3 346.4,1832.3 346.4,1830.2 344.1,1830.2 344.1,1830.4 342.0,1830.4 342.0,1834.9 339.7,1834.9 339.7,1837.5 337.2,1837.5 337.2,1829.6 334.9,1829.6 334.9,1829.9 332.9,1829.9 332.9,1832.2 330.8,1832.2 330.8,1834.2 328.5,1834.2 328.5,1832.5 326.1,1832.5 326.1,1831.9 323.8,1831.9 323.8,1836.4 321.4,1836.4 321.4,1834.0 318.2,1834.0 318.2,1835.0 315.4,1835.0 315.4,1837.0 313.0,1837.0 313.0,1836.8 309.6,1836.8 309.6,1841.0 306.6,1841.0 306.6,1842.4 303.5,1842.4 303.5,1847.2 300.0,1847.2 300.0,1851.5 297.4,1851.5 297.4,1849.5 294.6,1849.5 294.6,1848.2 291.4,1848.2 291.4,1849.4 288.9,1849.4 288.9,1852.4 286.0,1852.4 286.0,1852.0 283.2,1852.0 283.2,1853.4 281.0,1853.4 281.0,1858.7 278.8,1858.7 278.8,1855.8 276.8,1855.8 276.8,1860.4 275.9,1860.4"/>
<rect x="248.20" y="1671.90" width="25.40" height="3.10" fill="#000"/>
<rect x="248.20" y="1457.30" width="25.40" height="2.80" fill="#000"/>
<rect x="248.20" y="1239.90" width="25.40" height="5.10" fill="#222"/>
<rect x="272.15" y="1239.90" width="2.90" height="677.40" fill="#000"/>
<rect x="248.20" y="1886.90" width="2054.45" height="2.20" fill="#4d4d4d"/>
<rect x="248.20" y="1889.10" width="2054.45" height="2.80" fill="#000"/>
<rect x="779.05" y="1890.40" width="2.90" height="26.90" fill="#000"/>
<rect x="1285.95" y="1890.40" width="2.90" height="26.90" fill="#000"/>
<rect x="1792.85" y="1890.40" width="2.90" height="26.90" fill="#000"/>
<rect x="2299.75" y="1890.40" width="2.90" height="26.90" fill="#000"/>
<line x1="274.70" y1="1892.80" x2="274.70" y2="1832.40" stroke="#e8c163" stroke-width="5"/>
<g font-family="'Liberation Serif', 'Times New Roman', serif" font-size="83.33" fill="#000" stroke="#fff" stroke-width="0.90" stroke-linejoin="round">
<text x="202.7" y="1915.4" text-anchor="end">0</text>
<text x="199.7" y="1699.6" text-anchor="end">5</text>
<text x="202.7" y="1483.8" text-anchor="end">10</text>
<text x="199.7" y="1268.0" text-anchor="end">15</text>
<text x="273.6" y="2013.4" text-anchor="middle">20</text>
<text x="780.5" y="2013.4" text-anchor="middle">40</text>
<text x="1287.4" y="2013.4" text-anchor="middle">60</text>
<text x="1794.3" y="2013.4" text-anchor="middle">80</text>
<text x="2301.2" y="2013.4" text-anchor="middle">100</text>
<text x="1287.0" y="2082.3" text-anchor="middle">Simulation time (ns)</text>
<text transform="translate(88.3 1566.7) rotate(-90)" text-anchor="middle">RMSD (Å)</text>
<text y="1144.7" font-weight="bold" font-size="84.00"><tspan x="201.2">b.</tspan> <tspan x="290.6">RMSD</tspan></text>
</g>
<g font-family="'Liberation Serif', 'Times New Roman', serif" font-size="83.33" fill="#000" stroke="#fff" stroke-width="0.90" stroke-linejoin="round">
<line x1="672.6" y1="1156.2" x2="760.1" y2="1156.2" stroke="#4e95c4" stroke-width="7.0" stroke-linecap="round"/>
<text x="769.1" y="1181.5">2zzm<tspan dy="7.3">_</tspan><tspan dy="-7.3">complex</tspan><tspan dy="7.3">_</tspan><tspan dy="-7.3">G37</tspan></text>
<line x1="1555.3" y1="1156.2" x2="1642.8" y2="1156.2" stroke="#e9834a" stroke-width="7.0" stroke-linecap="round"/>
<text x="1651.0" y="1181.5">2zzm<tspan dy="7.3">_</tspan><tspan dy="-7.3">complex</tspan><tspan dy="7.3">_</tspan><tspan dy="-7.3">A37</tspan></text>
<line x1="672.6" y1="1238.5" x2="760.1" y2="1238.5" stroke="#a5a5a5" stroke-width="7.0" stroke-linecap="round"/>
<text x="769.1" y="1264.0">2zzm<tspan dy="7.3">_</tspan><tspan dy="-7.3">unliganded</tspan></text>
<line x1="1555.3" y1="1238.5" x2="1642.8" y2="1238.5" stroke="#ffc000" stroke-width="7.0" stroke-linecap="round"/>
<text x="1651.0" y="1264.0">2yx1<tspan dy="7.3">_</tspan><tspan dy="-7.3">free</tspan></text>
</g>
</g>
</svg>
</body>
</html>
